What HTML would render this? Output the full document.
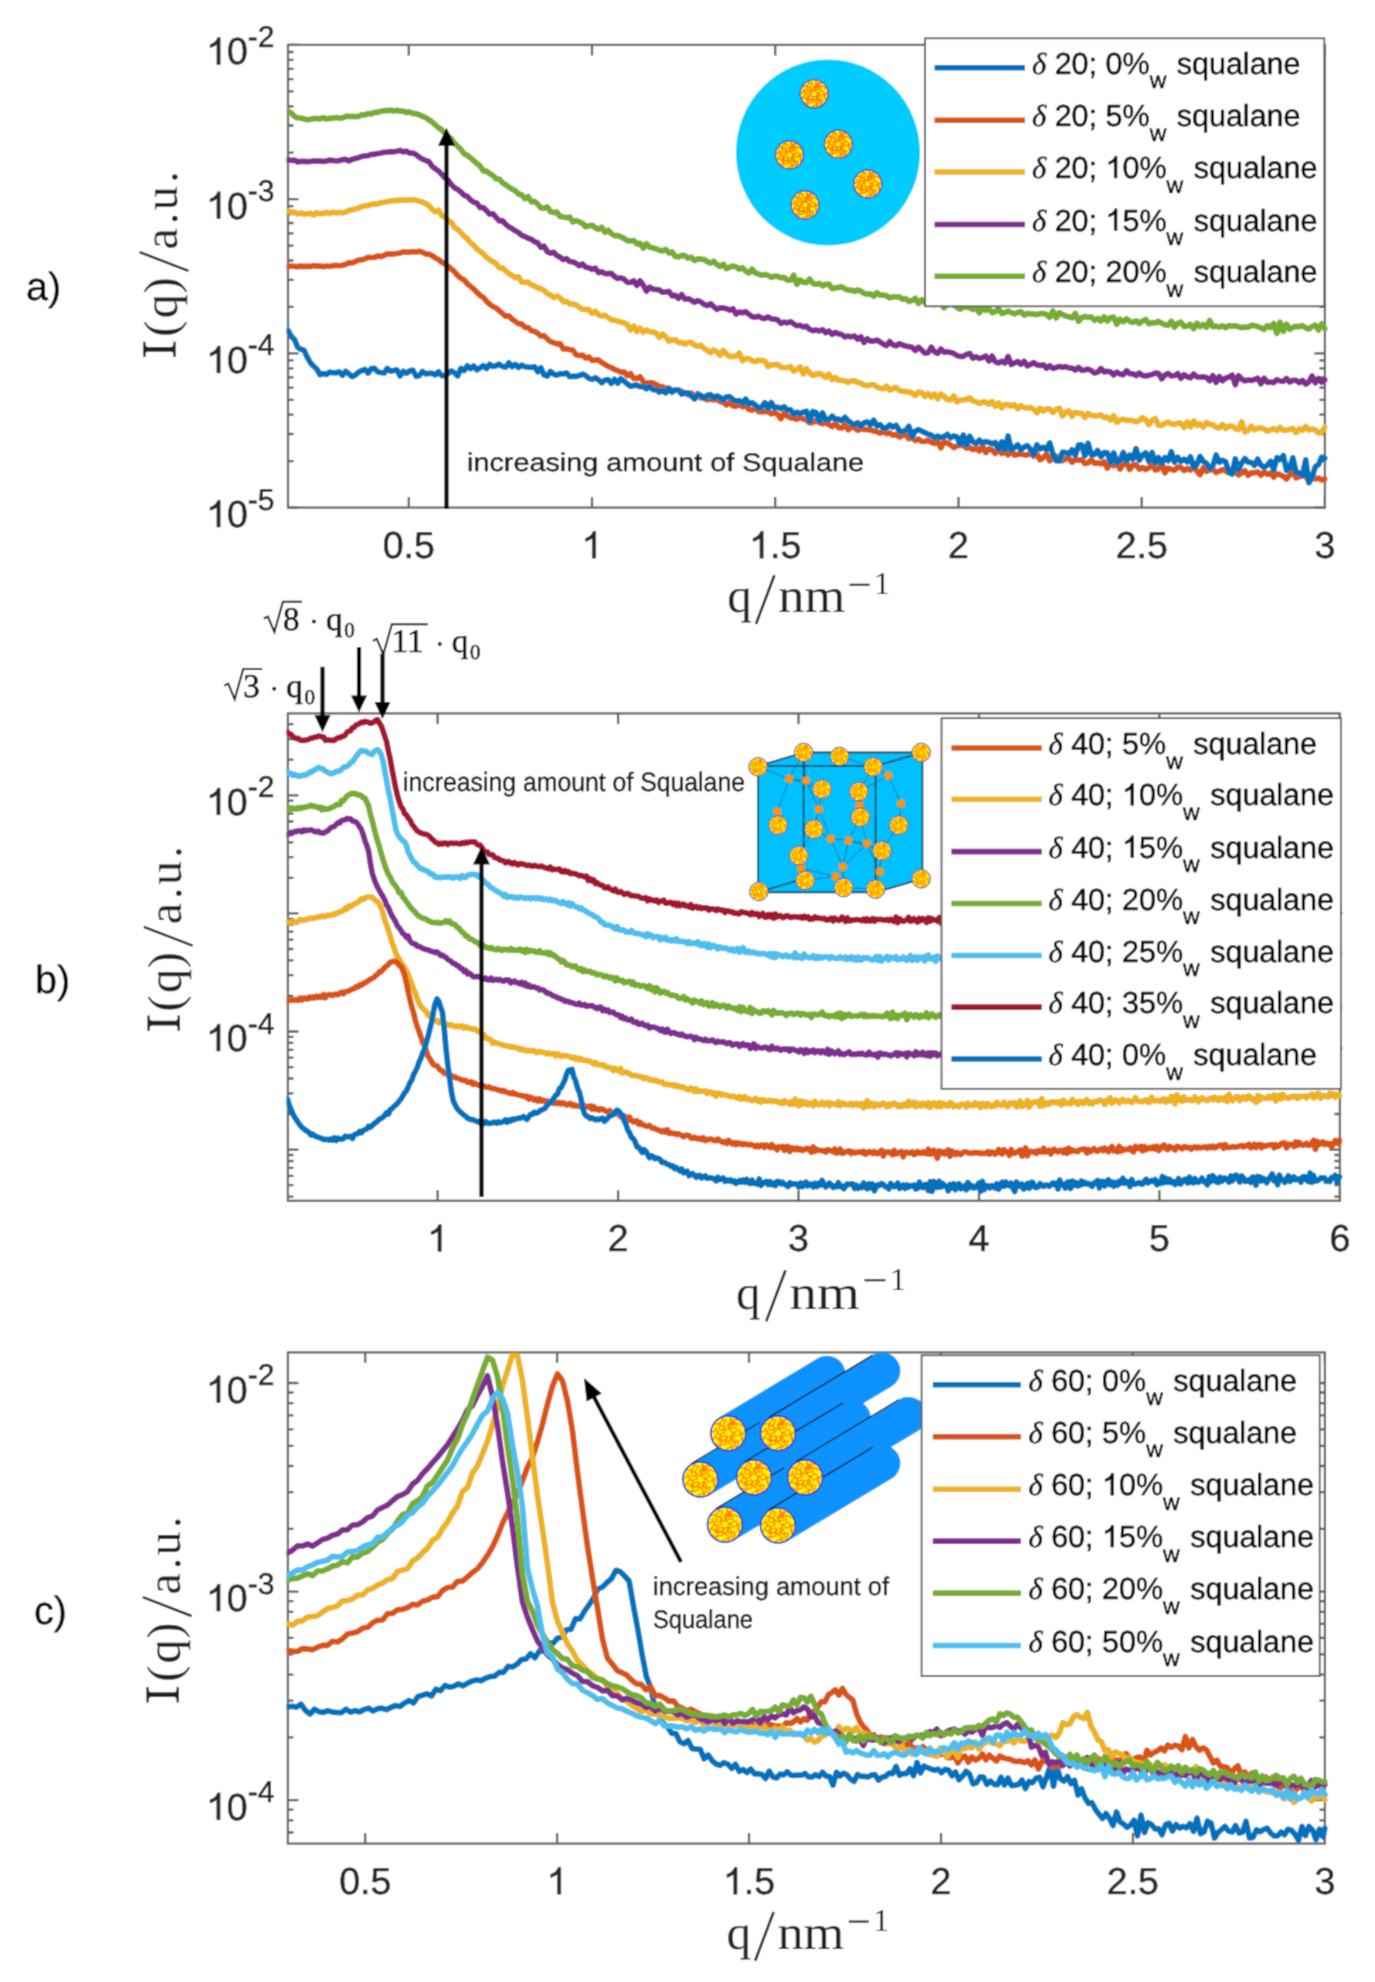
<!DOCTYPE html><html><head><meta charset="utf-8"><style>html,body{margin:0;padding:0;background:#fff;}text{text-rendering:geometricPrecision;}svg{display:block;}.tk{font-family:"Liberation Sans",sans-serif;font-size:37.5px;fill:#262626;}.ex{font-size:30px;}.lg{font-family:"Liberation Sans",sans-serif;font-size:30.5px;fill:#000;}.dl{font-family:"Liberation Serif",serif;font-style:italic;}.sb{font-size:23px;}.yl{font-family:"Liberation Serif",serif;font-size:48px;fill:#222;}.xl{font-family:"Liberation Serif",serif;font-size:49px;fill:#222;}.xs{font-family:"Liberation Serif",serif;font-size:32px;fill:#222;}.an{font-family:"Liberation Sans",sans-serif;fill:#111;}.pl{font-family:"Liberation Sans",sans-serif;font-size:39.5px;fill:#000;}.one{fill-opacity:0;stroke:none;}.mt{font-family:"Liberation Serif",serif;font-size:33px;fill:#111;}.tk{stroke:#262626;stroke-width:0.55px;}.lg{stroke:#000;stroke-width:0.5px;}.pl,.an{stroke:#111;stroke-width:0.4px;}.mt{stroke:#111;stroke-width:0.6px;}</style></head><body>
<svg width="1375" height="1982" viewBox="0 0 1375 1982">
<defs>
<filter id="soft" x="0" y="0" width="1375" height="1982" filterUnits="userSpaceOnUse"><feConvolveMatrix order="3" kernelMatrix="1 2 1 2 8 2 1 2 1" divisor="20" edgeMode="duplicate"/></filter>
<symbol id="mic" viewBox="-10 -10 20 20" overflow="visible"><circle r="9.6" fill="#FFF800"/><path d="M1.59,-0.13 2.52,-0.36 3.49,0.32 4.23,1.37 5.24,1.29 6.33,0.48 7.19,1.28 7.40,3.65 7.91,4.70 M1.33,0.88 2.32,1.06 2.98,1.83 3.00,3.28 3.41,4.19 4.82,4.14 5.70,4.57 4.97,6.59 3.96,8.31 M1.17,1.09 1.91,1.69 1.96,2.90 1.74,4.10 2.62,4.72 3.85,5.05 3.59,6.36 1.94,8.02 1.82,9.02 M0.66,1.46 1.31,2.19 1.22,3.28 0.43,4.43 0.57,5.37 1.80,6.09 1.84,7.06 -0.16,8.25 -1.51,9.08 M0.05,1.60 -0.53,2.49 -1.44,3.19 -1.47,4.20 -0.96,5.31 -1.84,6.08 -3.97,6.13 -4.91,6.63 -4.10,8.24 M-0.87,1.35 -1.05,2.33 -1.11,3.32 -2.21,3.86 -3.76,3.87 -4.29,4.68 -3.90,6.17 -4.76,6.74 -7.17,5.76 M-0.97,1.27 -2.01,1.57 -3.12,1.59 -3.73,2.42 -4.05,3.57 -5.30,3.50 -6.96,2.21 -7.95,2.19 -8.29,4.00 M-1.59,0.17 -2.54,-0.20 -3.50,0.13 -4.38,0.78 -5.40,0.13 -6.16,-1.56 -7.03,-1.97 -8.22,-0.75 -9.16,-0.81 M-1.52,-0.49 -2.15,-1.38 -2.98,-1.83 -4.15,-1.61 -4.95,-2.16 -4.90,-4.04 -4.95,-5.36 -6.43,-5.17 -7.72,-5.00 M-1.36,-0.84 -2.14,-1.38 -2.33,-2.61 -2.40,-3.75 -3.49,-4.12 -4.66,-4.31 -4.42,-5.81 -3.11,-7.64 -3.48,-8.51 M-0.92,-1.31 -0.99,-2.35 -1.62,-3.10 -2.66,-3.57 -2.71,-4.67 -1.55,-6.16 -1.32,-7.18 -2.89,-7.73 -3.57,-8.48 M-0.05,-1.60 0.33,-2.53 -0.01,-3.50 -0.55,-4.42 0.26,-5.39 1.96,-6.04 2.25,-6.95 1.08,-8.18 1.40,-9.09 M0.62,-1.47 0.78,-2.43 0.54,-3.46 1.21,-4.28 2.84,-4.59 3.65,-5.19 3.08,-6.62 3.22,-7.60 5.56,-7.33 M0.95,-1.29 1.17,-2.27 1.96,-2.90 3.42,-2.85 4.34,-3.21 4.36,-4.61 4.82,-5.48 6.80,-4.67 8.48,-3.57 M1.33,-0.89 2.42,-0.79 3.45,-0.56 4.25,-1.31 4.94,-2.18 6.17,-1.48 7.30,0.19 8.25,0.14 9.08,-1.50 M-5.38,-0.65 -6.49,0.65 -7.23,2.40 M-5.49,0.01 -6.43,-1.43 -6.96,-3.26 M-4.18,1.15 -4.80,2.55 -4.96,4.25 M6.49,-0.10 7.43,1.55 7.91,3.58 M3.02,-4.74 2.29,-6.32 0.99,-7.76 M-1.67,3.84 -3.12,4.27 -4.80,4.22 M-0.90,3.60 -0.12,4.81 1.14,5.80 M0.48,-4.68 1.84,-5.50 3.56,-5.91 M2.66,-3.83 2.17,-5.33 1.14,-6.76" fill="none" stroke="#FF7E00" stroke-width="0.72" stroke-linecap="round" stroke-linejoin="round"/><circle r="1.6" fill="#FFF800"/><circle r="9.5" fill="none" stroke="#2a2ad8" stroke-width="0.8"/></symbol>
<symbol id="mic2" viewBox="-10 -10 20 20" overflow="visible"><circle r="9.6" fill="#FFF800"/><path d="M1.59,-0.13 2.52,-0.36 3.49,0.32 4.23,1.37 5.24,1.29 6.33,0.48 7.19,1.28 7.40,3.65 7.91,4.70 M1.33,0.88 2.32,1.06 2.98,1.83 3.00,3.28 3.41,4.19 4.82,4.14 5.70,4.57 4.97,6.59 3.96,8.31 M1.17,1.09 1.91,1.69 1.96,2.90 1.74,4.10 2.62,4.72 3.85,5.05 3.59,6.36 1.94,8.02 1.82,9.02 M0.66,1.46 1.31,2.19 1.22,3.28 0.43,4.43 0.57,5.37 1.80,6.09 1.84,7.06 -0.16,8.25 -1.51,9.08 M0.05,1.60 -0.53,2.49 -1.44,3.19 -1.47,4.20 -0.96,5.31 -1.84,6.08 -3.97,6.13 -4.91,6.63 -4.10,8.24 M-0.87,1.35 -1.05,2.33 -1.11,3.32 -2.21,3.86 -3.76,3.87 -4.29,4.68 -3.90,6.17 -4.76,6.74 -7.17,5.76 M-0.97,1.27 -2.01,1.57 -3.12,1.59 -3.73,2.42 -4.05,3.57 -5.30,3.50 -6.96,2.21 -7.95,2.19 -8.29,4.00 M-1.59,0.17 -2.54,-0.20 -3.50,0.13 -4.38,0.78 -5.40,0.13 -6.16,-1.56 -7.03,-1.97 -8.22,-0.75 -9.16,-0.81 M-1.52,-0.49 -2.15,-1.38 -2.98,-1.83 -4.15,-1.61 -4.95,-2.16 -4.90,-4.04 -4.95,-5.36 -6.43,-5.17 -7.72,-5.00 M-1.36,-0.84 -2.14,-1.38 -2.33,-2.61 -2.40,-3.75 -3.49,-4.12 -4.66,-4.31 -4.42,-5.81 -3.11,-7.64 -3.48,-8.51 M-0.92,-1.31 -0.99,-2.35 -1.62,-3.10 -2.66,-3.57 -2.71,-4.67 -1.55,-6.16 -1.32,-7.18 -2.89,-7.73 -3.57,-8.48 M-0.05,-1.60 0.33,-2.53 -0.01,-3.50 -0.55,-4.42 0.26,-5.39 1.96,-6.04 2.25,-6.95 1.08,-8.18 1.40,-9.09 M0.62,-1.47 0.78,-2.43 0.54,-3.46 1.21,-4.28 2.84,-4.59 3.65,-5.19 3.08,-6.62 3.22,-7.60 5.56,-7.33 M0.95,-1.29 1.17,-2.27 1.96,-2.90 3.42,-2.85 4.34,-3.21 4.36,-4.61 4.82,-5.48 6.80,-4.67 8.48,-3.57 M1.33,-0.89 2.42,-0.79 3.45,-0.56 4.25,-1.31 4.94,-2.18 6.17,-1.48 7.30,0.19 8.25,0.14 9.08,-1.50 M-5.38,-0.65 -6.49,0.65 -7.23,2.40 M-5.49,0.01 -6.43,-1.43 -6.96,-3.26 M-4.18,1.15 -4.80,2.55 -4.96,4.25 M6.49,-0.10 7.43,1.55 7.91,3.58 M3.02,-4.74 2.29,-6.32 0.99,-7.76 M-1.67,3.84 -3.12,4.27 -4.80,4.22 M-0.90,3.60 -0.12,4.81 1.14,5.80 M0.48,-4.68 1.84,-5.50 3.56,-5.91 M2.66,-3.83 2.17,-5.33 1.14,-6.76" fill="none" stroke="#FF7E00" stroke-width="1.0" stroke-linecap="round" stroke-linejoin="round"/><circle r="1.6" fill="#FFF800"/><circle r="9.5" fill="none" stroke="#2a2ad8" stroke-width="0.8"/></symbol>
<clipPath id="ca"><rect x="286.5" y="44.9" width="1041.4" height="462.7"/></clipPath>
<clipPath id="cb"><rect x="286.5" y="713.4" width="1056.4" height="487.4"/></clipPath>
<clipPath id="cc"><rect x="286.5" y="1352.4" width="1041.4" height="491.2"/></clipPath>
</defs>
<g filter="url(#soft)">
<rect width="1375" height="1982" fill="#fff"/>
<path d="M288,507.6h10.5M1324.9,507.6h-10.5M288,461.2h5.5M1324.9,461.2h-5.5M288,434h5.5M1324.9,434h-5.5M288,414.7h5.5M1324.9,414.7h-5.5M288,399.8h5.5M1324.9,399.8h-5.5M288,387.6h5.5M1324.9,387.6h-5.5M288,377.3h5.5M1324.9,377.3h-5.5M288,368.3h5.5M1324.9,368.3h-5.5M288,360.4h5.5M1324.9,360.4h-5.5M288,353.4h10.5M1324.9,353.4h-10.5M288,306.9h5.5M1324.9,306.9h-5.5M288,279.8h5.5M1324.9,279.8h-5.5M288,260.5h5.5M1324.9,260.5h-5.5M288,245.6h5.5M1324.9,245.6h-5.5M288,233.3h5.5M1324.9,233.3h-5.5M288,223h5.5M1324.9,223h-5.5M288,214.1h5.5M1324.9,214.1h-5.5M288,206.2h5.5M1324.9,206.2h-5.5M288,199.1h10.5M1324.9,199.1h-10.5M288,152.7h5.5M1324.9,152.7h-5.5M288,125.5h5.5M1324.9,125.5h-5.5M288,106.3h5.5M1324.9,106.3h-5.5M288,91.3h5.5M1324.9,91.3h-5.5M288,79.1h5.5M1324.9,79.1h-5.5M288,68.8h5.5M1324.9,68.8h-5.5M288,59.8h5.5M1324.9,59.8h-5.5M288,52h5.5M1324.9,52h-5.5M288,44.9h10.5M1324.9,44.9h-10.5M408.8,507.6v-10.5M408.8,44.9v10.5M592,507.6v-10.5M592,44.9v10.5M775.2,507.6v-10.5M775.2,44.9v10.5M958.5,507.6v-10.5M958.5,44.9v10.5M1141.7,507.6v-10.5M1141.7,44.9v10.5M1324.9,507.6v-10.5M1324.9,44.9v10.5" stroke="#5e5e5e" stroke-width="2.3" fill="none"/>
<rect x="288" y="44.9" width="1036.9" height="462.7" fill="none" stroke="#666" stroke-width="2.3"/>
<text x="408.8" y="558.2" text-anchor="middle" class="tk">0.5</text>
<text x="592" y="558.2" text-anchor="middle" class="tk"><tspan class="one">1</tspan></text>
<text x="775.2" y="558.2" text-anchor="middle" class="tk"><tspan class="one">1</tspan>.5</text>
<text x="958.5" y="558.2" text-anchor="middle" class="tk">2</text>
<text x="1141.7" y="558.2" text-anchor="middle" class="tk">2.5</text>
<text x="1324.9" y="558.2" text-anchor="middle" class="tk">3</text>
<text x="274.5" y="64.4" text-anchor="end" class="tk"><tspan class="one">1</tspan>0<tspan class="ex" dy="-17.5">-2</tspan></text>
<text x="274.5" y="218.6" text-anchor="end" class="tk"><tspan class="one">1</tspan>0<tspan class="ex" dy="-17.5">-3</tspan></text>
<text x="274.5" y="372.9" text-anchor="end" class="tk"><tspan class="one">1</tspan>0<tspan class="ex" dy="-17.5">-4</tspan></text>
<text x="274.5" y="527.1" text-anchor="end" class="tk"><tspan class="one">1</tspan>0<tspan class="ex" dy="-17.5">-5</tspan></text>
<g clip-path="url(#ca)">
<path d="M288.1,111.4 291.3,113 294.5,116.4 297.7,118 300.9,118 304.1,118.9 307.3,119.8 310.5,119.2 313.7,118.4 316.9,118.6 320.1,118.8 323.3,117.7 326.5,119 329.7,118.2 332.9,118.3 336.1,117.5 339.3,118.1 342.5,118 345.7,116.4 348.9,116.4 352.1,116.3 355.3,116.6 358.5,116.5 361.7,114.9 364.9,114.8 368.1,113.5 371.3,113.8 374.5,112.3 377.7,112.4 380.9,111.2 384.1,110.7 387.3,110.6 390.5,110.1 393.7,111 396.9,110.4 400.1,111.1 403.3,111.2 406.5,112.5 409.7,111.9 412.9,113.6 416.1,113.7 419.3,114.9 422.5,116.4 425.7,117.7 428.9,119.9 432.1,122 435.3,124.9 438.5,127.6 441.7,129.9 444.9,133 448.1,136.2 451.3,139 454.5,143.2 457.7,146.3 460.9,149.3 464.1,153.8 467.3,155.2 470.5,157.9 473.7,160.7 476.9,163.5 480.1,166 483.3,170.9 486.5,171.2 489.7,173.6 492.9,175.4 496.1,178.9 499.3,179 502.5,182.9 505.7,184.8 508.9,187.2 512.1,189.2 515.3,190.7 518.5,193.9 521.7,194.8 524.9,198.7 528.1,196.6 531.3,201.8 534.5,201.4 537.7,204.1 540.9,207.9 544.1,208.1 547.3,207 550.5,211.7 553.7,212.6 556.9,212.2 560.1,216.4 563.3,216.9 566.5,217.7 569.7,217 572.9,222 576.1,220.6 579.3,221.8 582.5,223.3 585.7,226.7 588.9,225.8 592.1,225.2 595.3,227.8 598.5,229.3 601.7,227.3 604.9,232.3 608.1,230.2 611.3,233.7 614.5,235.7 617.7,235.5 620.9,236.8 624.1,238.3 627.3,240.7 630.5,240.9 633.7,240.5 636.9,243.9 640.1,243.4 643.3,248.2 646.5,243.7 649.7,247.3 652.9,247.9 656.1,248.7 659.3,250.3 662.5,250.9 665.7,249.4 668.9,252.9 672.1,252 675.3,256.5 678.5,256.9 681.7,255.4 684.9,255.7 688.1,258.1 691.3,257.2 694.5,260.6 697.7,258.9 700.9,259.2 704.1,259.5 707.3,261.6 710.5,263.2 713.7,261.2 716.9,264.5 720.1,266.5 723.3,264.3 726.5,268.7 729.7,267.2 732.9,266 736.1,266.7 739.3,269.3 742.5,267.6 745.7,271.1 748.9,273 752.1,269.1 755.3,273 758.5,274 761.7,275.2 764.9,274.4 768.1,275.4 771.3,277.3 774.5,276.1 777.7,276.4 780.9,277.9 784.1,277.3 787.3,280.1 790.5,280.2 793.7,275.2 796.9,284.4 800.1,279.9 803.3,282.2 806.5,282.6 809.7,279 812.9,283.4 816.1,284.2 819.3,283.4 822.5,285.8 825.7,284.4 828.9,284 832.1,288.6 835.3,288 838.5,287.4 841.7,286.8 844.9,288.9 848.1,290.2 851.3,290.2 854.5,291.3 857.7,290 860.9,291.2 864.1,293.4 867.3,294.1 870.5,293.9 873.7,296.2 876.9,292.8 880.1,295.2 883.3,295.1 886.5,295.6 889.7,297.9 892.9,296.9 896.1,297 899.3,296.8 902.5,299.3 905.7,298.6 908.9,301.5 912.1,300.3 915.3,298.3 918.5,303.4 921.7,299.7 924.9,302.6 928.1,303.9 931.3,300.4 934.5,304.4 937.7,302.1 940.9,302.5 944.1,307.7 947.3,304.3 950.5,304.4 953.7,304.5 956.9,307.3 960.1,309.2 963.3,306.9 966.5,307.1 969.7,307.8 972.9,309.6 976.1,307 979.3,312.8 982.5,308.1 985.7,310.3 988.9,308.8 992.1,312.8 995.3,311.6 998.5,308.8 1001.7,313.5 1004.9,312.5 1008.1,311.2 1011.3,312.6 1014.5,313.8 1017.7,312.6 1020.9,311.7 1024.1,315.2 1027.3,313.4 1030.5,313.9 1033.7,313.9 1036.9,314.7 1040.1,313.5 1043.3,313.5 1046.5,314.4 1049.7,317.3 1052.9,311 1056.1,318 1059.3,312.8 1062.5,314.6 1065.7,315.9 1068.9,316.8 1072.1,317.9 1075.3,313.4 1078.5,321.3 1081.7,317.6 1084.9,316.3 1088.1,317.5 1091.3,316.9 1094.5,320.3 1097.7,318.3 1100.9,321.2 1104.1,316.8 1107.3,321 1110.5,317.5 1113.7,317.2 1116.9,324.2 1120.1,319.3 1123.3,321.7 1126.5,318.8 1129.7,321.3 1132.9,322.5 1136.1,320.8 1139.3,323.5 1142.5,321 1145.7,319.5 1148.9,323.7 1152.1,322.7 1155.3,322.8 1158.5,321.4 1161.7,323.2 1164.9,324.8 1168.1,325.3 1171.3,321.2 1174.5,327.2 1177.7,323.4 1180.9,322.1 1184.1,326.5 1187.3,326 1190.5,324.4 1193.7,328.8 1196.9,323.3 1200.1,326.5 1203.3,324.5 1206.5,327.2 1209.7,320.4 1212.9,326.7 1216.1,326.1 1219.3,327.1 1222.5,325.8 1225.7,327.7 1228.9,325.6 1232.1,326.2 1235.3,325.8 1238.5,326.8 1241.7,327.7 1244.9,326.9 1248.1,327.3 1251.3,325.3 1254.5,325.7 1257.7,326.6 1260.9,327.9 1264.1,329.3 1267.3,325.6 1270.5,327.5 1273.7,323.5 1276.9,333.4 1280.1,322.2 1283.3,331.4 1286.5,324.1 1289.7,329.3 1292.9,327.4 1296.1,326.3 1299.3,326.6 1302.5,325.5 1305.7,327.9 1308.9,329 1312.1,326.5 1315.3,325.1 1318.5,330 1321.7,323.7 1324.8,328.6" fill="none" stroke="#77AC30" stroke-width="5.7" stroke-linejoin="round" stroke-linecap="round"/>
<path d="M288.1,159.8 291.3,160.5 294.5,160.1 297.7,161.9 300.9,161.3 304.1,161.4 307.3,161.7 310.5,161.5 313.7,160.9 316.9,161.2 320.1,161.2 323.3,161.4 326.5,161 329.7,160.1 332.9,160.5 336.1,161 339.3,160.7 342.5,159.6 345.7,159.4 348.9,160.8 352.1,159.3 355.3,158.4 358.5,157.7 361.7,156.5 364.9,155.8 368.1,155.6 371.3,154.4 374.5,154.3 377.7,153.5 380.9,153.1 384.1,152.3 387.3,152 390.5,151.6 393.7,151.8 396.9,151.2 400.1,150.4 403.3,151.9 406.5,151.1 409.7,153.2 412.9,153 416.1,154.6 419.3,157.2 422.5,159.1 425.7,160.5 428.9,161.5 432.1,166.3 435.3,168.8 438.5,170.8 441.7,174.3 444.9,177.8 448.1,180.3 451.3,184.4 454.5,187.9 457.7,189.4 460.9,191.9 464.1,195.3 467.3,196.4 470.5,199.9 473.7,202.2 476.9,203.1 480.1,207.6 483.3,207.5 486.5,210.8 489.7,214.2 492.9,213.7 496.1,217.3 499.3,220.9 502.5,220.6 505.7,224.3 508.9,226.9 512.1,228.6 515.3,230.8 518.5,232.5 521.7,235.3 524.9,236.5 528.1,238.2 531.3,239.3 534.5,241.8 537.7,242.8 540.9,247.4 544.1,246.2 547.3,251.7 550.5,253.2 553.7,252.2 556.9,255.7 560.1,257.2 563.3,259.6 566.5,258.7 569.7,261.5 572.9,261.9 576.1,263.4 579.3,265.8 582.5,263.9 585.7,267.2 588.9,267.8 592.1,269.4 595.3,268.1 598.5,272.7 601.7,271.7 604.9,273.6 608.1,273.6 611.3,273.4 614.5,276.5 617.7,278.5 620.9,277.8 624.1,279.2 627.3,282.3 630.5,282.5 633.7,280.8 636.9,285.5 640.1,280.8 643.3,285.2 646.5,291.2 649.7,287.1 652.9,289.2 656.1,289.5 659.3,289.9 662.5,292.2 665.7,292 668.9,291.4 672.1,295.8 675.3,295.4 678.5,298.5 681.7,294.5 684.9,299.2 688.1,298.7 691.3,300.2 694.5,302.3 697.7,300.5 700.9,302 704.1,304.4 707.3,305.6 710.5,303.6 713.7,306.8 716.9,309.4 720.1,307.8 723.3,307.9 726.5,308.7 729.7,310.2 732.9,308.8 736.1,314 739.3,311.9 742.5,312.8 745.7,311.7 748.9,314.3 752.1,316.6 755.3,317.2 758.5,316.1 761.7,318.1 764.9,318.6 768.1,316.8 771.3,319 774.5,319.1 777.7,319.8 780.9,323.3 784.1,322.1 787.3,322.9 790.5,321.7 793.7,323.8 796.9,325.8 800.1,325.3 803.3,327 806.5,326.2 809.7,329.4 812.9,330.6 816.1,330 819.3,331 822.5,329.6 825.7,332.7 828.9,330.9 832.1,334.4 835.3,332.3 838.5,333.9 841.7,334.4 844.9,337 848.1,336.1 851.3,336.9 854.5,335.9 857.7,339.3 860.9,336.8 864.1,342.6 867.3,338.8 870.5,341.1 873.7,341.1 876.9,340 880.1,342 883.3,344.2 886.5,345.7 889.7,341.6 892.9,344.7 896.1,345.8 899.3,343.6 902.5,345.1 905.7,346 908.9,346.6 912.1,347.2 915.3,350.6 918.5,347.2 921.7,350 924.9,353.2 928.1,352.6 931.3,347.1 934.5,351.8 937.7,353.4 940.9,349 944.1,352.2 947.3,351.8 950.5,352.5 953.7,353.3 956.9,355.5 960.1,356.4 963.3,356.3 966.5,354.4 969.7,353.4 972.9,358.3 976.1,356.7 979.3,358.4 982.5,357.6 985.7,356 988.9,361.1 992.1,356.1 995.3,361.9 998.5,363 1001.7,361.1 1004.9,363 1008.1,356.5 1011.3,364.5 1014.5,363 1017.7,361.5 1020.9,364.3 1024.1,361.2 1027.3,365.8 1030.5,364.4 1033.7,362.6 1036.9,364.8 1040.1,365.6 1043.3,364.8 1046.5,368.2 1049.7,365.6 1052.9,368.5 1056.1,367.6 1059.3,366.3 1062.5,367.3 1065.7,366.6 1068.9,367.9 1072.1,368.1 1075.3,370.2 1078.5,367.4 1081.7,370.4 1084.9,370 1088.1,369.1 1091.3,370.5 1094.5,373.1 1097.7,372.1 1100.9,368.4 1104.1,371.9 1107.3,371.3 1110.5,371.9 1113.7,375 1116.9,372.1 1120.1,374.1 1123.3,374.7 1126.5,370.7 1129.7,373.6 1132.9,373.9 1136.1,375.5 1139.3,372.9 1142.5,375.4 1145.7,375.8 1148.9,375.4 1152.1,374.4 1155.3,373.2 1158.5,373.3 1161.7,378.8 1164.9,375.1 1168.1,373.5 1171.3,375.9 1174.5,375.7 1177.7,373.6 1180.9,378.4 1184.1,374.7 1187.3,376.8 1190.5,377.9 1193.7,373.9 1196.9,376.8 1200.1,377.2 1203.3,376.9 1206.5,377.5 1209.7,380.8 1212.9,375.6 1216.1,382.5 1219.3,376.6 1222.5,380.7 1225.7,378 1228.9,377.2 1232.1,375 1235.3,384.7 1238.5,375.6 1241.7,379 1244.9,381 1248.1,379.9 1251.3,380.5 1254.5,379.6 1257.7,378.1 1260.9,383.8 1264.1,378.3 1267.3,382.3 1270.5,381.9 1273.7,382.7 1276.9,379.6 1280.1,381 1283.3,381.3 1286.5,378.4 1289.7,382 1292.9,380.4 1296.1,380.3 1299.3,382.7 1302.5,380.4 1305.7,384.2 1308.9,381.9 1312.1,375.9 1315.3,382.8 1318.5,378.6 1321.7,382.3 1324.8,379.8" fill="none" stroke="#7E2F8E" stroke-width="5.7" stroke-linejoin="round" stroke-linecap="round"/>
<path d="M288.1,211.1 291.3,212.4 294.5,212.1 297.7,214.1 300.9,212.9 304.1,214.2 307.3,213.7 310.5,213.4 313.7,214.9 316.9,212.6 320.1,213.7 323.3,213.5 326.5,212.3 329.7,213.6 332.9,212.2 336.1,212.8 339.3,212.4 342.5,212.9 345.7,212.1 348.9,210.4 352.1,209.7 355.3,209.1 358.5,208.1 361.7,206.6 364.9,205.8 368.1,205.4 371.3,204.5 374.5,203.8 377.7,203.8 380.9,202.8 384.1,202.3 387.3,201.7 390.5,200.9 393.7,200.7 396.9,200.6 400.1,199.9 403.3,200.1 406.5,200.2 409.7,199.7 412.9,199.8 416.1,200.1 419.3,201.3 422.5,201.9 425.7,203.7 428.9,205.7 432.1,209.2 435.3,211.7 438.5,210.1 441.7,215.7 444.9,217.3 448.1,220.4 451.3,222.2 454.5,227.6 457.7,229.4 460.9,232.5 464.1,236.3 467.3,238.8 470.5,242.6 473.7,245.2 476.9,248.9 480.1,251.2 483.3,253.9 486.5,257.3 489.7,259.5 492.9,261.9 496.1,263.3 499.3,268 502.5,267.8 505.7,270.9 508.9,273.5 512.1,275.5 515.3,277.7 518.5,276.8 521.7,282.1 524.9,282.4 528.1,282.2 531.3,284.9 534.5,286 537.7,287.8 540.9,288.8 544.1,290.5 547.3,293.6 550.5,294.9 553.7,297.6 556.9,295.9 560.1,297.9 563.3,301.8 566.5,301.4 569.7,303.8 572.9,304 576.1,304.9 579.3,307.2 582.5,309.5 585.7,309.4 588.9,309.7 592.1,313.4 595.3,311.3 598.5,314.7 601.7,316.1 604.9,315.2 608.1,317.5 611.3,319.8 614.5,320.1 617.7,321.1 620.9,322 624.1,322.7 627.3,324.5 630.5,329.9 633.7,326 636.9,331.5 640.1,328 643.3,332.3 646.5,330 649.7,331.5 652.9,332.1 656.1,333 659.3,337.4 662.5,334 665.7,336.7 668.9,341.1 672.1,340 675.3,339.6 678.5,342.6 681.7,342.4 684.9,344.1 688.1,342.5 691.3,342.3 694.5,345.2 697.7,346.2 700.9,345.2 704.1,348.6 707.3,350.4 710.5,352.5 713.7,350 716.9,351.8 720.1,355.2 723.3,350.5 726.5,354 729.7,356.6 732.9,356.3 736.1,356 739.3,353.1 742.5,360.7 745.7,358.7 748.9,358.6 752.1,360.6 755.3,361.8 758.5,360.1 761.7,360.5 764.9,361 768.1,366.6 771.3,364.8 774.5,364.7 777.7,364.3 780.9,367.4 784.1,367.6 787.3,367.6 790.5,366.5 793.7,371.1 796.9,369.5 800.1,367 803.3,374 806.5,368.8 809.7,372.8 812.9,375.7 816.1,374.1 819.3,373.4 822.5,374.9 825.7,377.4 828.9,374.2 832.1,379.5 835.3,377.5 838.5,380.2 841.7,380.3 844.9,380.8 848.1,382.3 851.3,381 854.5,380.6 857.7,382.5 860.9,383.2 864.1,385.1 867.3,385.8 870.5,384.8 873.7,384.5 876.9,387.1 880.1,388.3 883.3,388.8 886.5,386.3 889.7,390.1 892.9,388.7 896.1,387.5 899.3,390.5 902.5,391.3 905.7,391.3 908.9,392 912.1,392.9 915.3,395.4 918.5,392.1 921.7,392.6 924.9,396.4 928.1,393.6 931.3,396.9 934.5,394 937.7,398.8 940.9,393.9 944.1,396.5 947.3,399.6 950.5,400 953.7,395.9 956.9,401.9 960.1,400.3 963.3,399.8 966.5,399.4 969.7,397.9 972.9,400.9 976.1,401.9 979.3,403.6 982.5,401.9 985.7,402.2 988.9,404.2 992.1,401.4 995.3,406.3 998.5,402.9 1001.7,407.8 1004.9,404.6 1008.1,404.6 1011.3,406.1 1014.5,404.7 1017.7,408.7 1020.9,405.6 1024.1,407.6 1027.3,408.1 1030.5,407.5 1033.7,409.2 1036.9,412.8 1040.1,408.2 1043.3,411 1046.5,408.8 1049.7,409 1052.9,412.4 1056.1,409.3 1059.3,408.1 1062.5,415.9 1065.7,412.4 1068.9,410.9 1072.1,416.3 1075.3,412.3 1078.5,413.4 1081.7,413.4 1084.9,417.6 1088.1,413.5 1091.3,415.3 1094.5,415.8 1097.7,415.7 1100.9,414.9 1104.1,417.7 1107.3,417 1110.5,420.1 1113.7,415.7 1116.9,422.4 1120.1,419.9 1123.3,419.2 1126.5,420.4 1129.7,420.4 1132.9,420.6 1136.1,421.7 1139.3,420.8 1142.5,417.6 1145.7,419.7 1148.9,424.7 1152.1,420.2 1155.3,418.5 1158.5,425.2 1161.7,425.5 1164.9,423.3 1168.1,422.1 1171.3,423.8 1174.5,424.5 1177.7,422.9 1180.9,423.4 1184.1,427.6 1187.3,422 1190.5,426.8 1193.7,421 1196.9,425.3 1200.1,424 1203.3,427.1 1206.5,422.5 1209.7,424.3 1212.9,424.9 1216.1,427.3 1219.3,427.9 1222.5,424.4 1225.7,428.4 1228.9,426.2 1232.1,426.1 1235.3,428.6 1238.5,429.5 1241.7,421.8 1244.9,432 1248.1,430.6 1251.3,426.2 1254.5,429.8 1257.7,428.2 1260.9,428.1 1264.1,428.9 1267.3,431.2 1270.5,429.9 1273.7,428.6 1276.9,430.5 1280.1,427.3 1283.3,430.3 1286.5,430 1289.7,429.4 1292.9,428.5 1296.1,432.5 1299.3,428.9 1302.5,430.5 1305.7,426.5 1308.9,430.1 1312.1,428.9 1315.3,430 1318.5,432.8 1321.7,432.3 1324.8,427.3" fill="none" stroke="#EDB120" stroke-width="5.7" stroke-linejoin="round" stroke-linecap="round"/>
<path d="M288.1,266.7 291.3,266 294.5,266.4 297.7,266.6 300.9,266.1 304.1,266.6 307.3,266.2 310.5,266.6 313.7,265.5 316.9,266.1 320.1,265.9 323.3,266.7 326.5,266 329.7,266.5 332.9,265.7 336.1,265.3 339.3,265.8 342.5,265.2 345.7,264.4 348.9,262.6 352.1,262.9 355.3,261.6 358.5,260 361.7,259.9 364.9,258.9 368.1,257.3 371.3,257.5 374.5,257.3 377.7,255.9 380.9,256.6 384.1,255.4 387.3,253.9 390.5,254.1 393.7,253.9 396.9,253.5 400.1,253 403.3,251.9 406.5,252.2 409.7,252.1 412.9,251.5 416.1,252 419.3,251.2 422.5,252.2 425.7,254.2 428.9,254.2 432.1,255.6 435.3,257.9 438.5,259.5 441.7,262.2 444.9,264.2 448.1,266.3 451.3,269 454.5,271.7 457.7,275.6 460.9,278.3 464.1,279.9 467.3,283.8 470.5,286.4 473.7,289 476.9,292.3 480.1,295.3 483.3,297.3 486.5,301.3 489.7,304.2 492.9,306.5 496.1,308 499.3,310.7 502.5,313.6 505.7,316.3 508.9,315.8 512.1,319.2 515.3,321.3 518.5,323.7 521.7,324 524.9,327.3 528.1,327.5 531.3,330.7 534.5,331.2 537.7,333.3 540.9,336.1 544.1,335.7 547.3,338.8 550.5,341.6 553.7,342.7 556.9,343.9 560.1,343.7 563.3,349 566.5,348.7 569.7,349.7 572.9,350 576.1,354.8 579.3,355.5 582.5,355.2 585.7,358.1 588.9,357 592.1,360.3 595.3,360.2 598.5,359.8 601.7,362.6 604.9,364.4 608.1,366.4 611.3,367.6 614.5,369.4 617.7,370.6 620.9,372.3 624.1,371.9 627.3,375.7 630.5,373.6 633.7,378.3 636.9,378.3 640.1,376.8 643.3,381.8 646.5,383.2 649.7,382.5 652.9,382.9 656.1,384.5 659.3,386.5 662.5,386.7 665.7,388.5 668.9,388.1 672.1,390.5 675.3,390.2 678.5,390 681.7,391.4 684.9,393 688.1,394.7 691.3,393.1 694.5,397.2 697.7,393.5 700.9,397.9 704.1,396.8 707.3,399.8 710.5,399.3 713.7,399.9 716.9,399.4 720.1,401.5 723.3,402.3 726.5,405.1 729.7,402.3 732.9,405.9 736.1,406.3 739.3,404.3 742.5,406.9 745.7,405.1 748.9,409.5 752.1,410.3 755.3,407.9 758.5,411.6 761.7,411.8 764.9,411.6 768.1,411.6 771.3,413.8 774.5,412.7 777.7,414.5 780.9,418.7 784.1,413.2 787.3,416 790.5,417.9 793.7,418.1 796.9,419.3 800.1,417.5 803.3,419 806.5,420 809.7,422.8 812.9,422.5 816.1,420.4 819.3,422.8 822.5,423.8 825.7,422.8 828.9,424.7 832.1,426.7 835.3,423.2 838.5,427.6 841.7,427.9 844.9,424.7 848.1,429.8 851.3,427.1 854.5,427.7 857.7,430.4 860.9,428.7 864.1,429.4 867.3,429.6 870.5,430 873.7,431 876.9,431.7 880.1,433.3 883.3,431.6 886.5,433.7 889.7,432.9 892.9,435.2 896.1,434.4 899.3,437.2 902.5,435.5 905.7,434.4 908.9,438.7 912.1,437.7 915.3,440.6 918.5,438.9 921.7,441.5 924.9,441.4 928.1,440.2 931.3,442.5 934.5,443.4 937.7,441.7 940.9,448 944.1,441.8 947.3,443.1 950.5,444.9 953.7,447.6 956.9,446 960.1,445.2 963.3,445.4 966.5,448.1 969.7,447.4 972.9,449.6 976.1,448.5 979.3,451 982.5,446.1 985.7,452.6 988.9,448.8 992.1,450.2 995.3,453.5 998.5,447.9 1001.7,453.6 1004.9,451.9 1008.1,454.9 1011.3,449.9 1014.5,455.4 1017.7,454.3 1020.9,453.9 1024.1,454.9 1027.3,454.8 1030.5,453.4 1033.7,456.4 1036.9,453.8 1040.1,459.8 1043.3,457.6 1046.5,454.3 1049.7,460.9 1052.9,456.7 1056.1,456.2 1059.3,459.1 1062.5,460.7 1065.7,458.8 1068.9,458.2 1072.1,462.2 1075.3,459.5 1078.5,460.3 1081.7,459.7 1084.9,463.6 1088.1,462.8 1091.3,459.8 1094.5,463.2 1097.7,462.8 1100.9,463.9 1104.1,461.8 1107.3,468.3 1110.5,462.8 1113.7,465.8 1116.9,463.5 1120.1,469 1123.3,464.2 1126.5,462.4 1129.7,469.5 1132.9,465.2 1136.1,464.9 1139.3,469.1 1142.5,467.5 1145.7,469.5 1148.9,467.7 1152.1,464.5 1155.3,470.2 1158.5,469 1161.7,462.7 1164.9,472.9 1168.1,468.1 1171.3,469.2 1174.5,470.2 1177.7,467.2 1180.9,467.4 1184.1,470.6 1187.3,468.5 1190.5,470.2 1193.7,464.9 1196.9,471.3 1200.1,474.7 1203.3,467.8 1206.5,471.4 1209.7,469.8 1212.9,469.4 1216.1,472.5 1219.3,471.2 1222.5,469.6 1225.7,471.2 1228.9,473.1 1232.1,471.2 1235.3,472.1 1238.5,475 1241.7,472.9 1244.9,470.8 1248.1,475.5 1251.3,472.6 1254.5,472.8 1257.7,471.9 1260.9,475.3 1264.1,471.9 1267.3,474.3 1270.5,473.1 1273.7,477.2 1276.9,473.6 1280.1,474.8 1283.3,476.3 1286.5,479 1289.7,474.9 1292.9,472.1 1296.1,477.9 1299.3,476.7 1302.5,475.7 1305.7,476 1308.9,481.5 1312.1,477.3 1315.3,478.9 1318.5,478.1 1321.7,479.9 1324.8,479.1" fill="none" stroke="#D95319" stroke-width="5.7" stroke-linejoin="round" stroke-linecap="round"/>
<path d="M288.1,330.6 291.3,336.4 294.5,339.5 297.7,347.3 300.9,349.2 304.1,350.4 307.3,357.4 310.5,362.9 313.7,366.2 316.9,369.3 320.1,374.7 323.3,373.6 326.5,374.5 329.7,372.1 332.9,372.7 336.1,372.9 339.3,371.8 342.5,375.3 345.7,371.3 348.9,373.8 352.1,376.7 355.3,375.2 358.5,372.2 361.7,370.6 364.9,369.3 368.1,373.1 371.3,368.6 374.5,368.3 377.7,371.9 380.9,372.5 384.1,373 387.3,368.4 390.5,371.1 393.7,370.5 396.9,369.8 400.1,376 403.3,371.3 406.5,373.3 409.7,370.7 412.9,370.2 416.1,376.3 419.3,375.6 422.5,371.5 425.7,373.8 428.9,373.4 432.1,373.3 435.3,374.8 438.5,371.8 441.7,375.6 444.9,375.6 448.1,373.4 451.3,371 454.5,372.8 457.7,376 460.9,368.4 464.1,370.6 467.3,365.8 470.5,368.7 473.7,366 476.9,369.8 480.1,367.8 483.3,365.6 486.5,368.5 489.7,364.2 492.9,366.5 496.1,365.7 499.3,364.2 502.5,366.5 505.7,367.1 508.9,362.7 512.1,366.8 515.3,364.4 518.5,367.5 521.7,365.1 524.9,366.7 528.1,367.2 531.3,367.5 534.5,366.7 537.7,371.8 540.9,367.8 544.1,375.1 547.3,376 550.5,371.5 553.7,374.1 556.9,375.2 560.1,373.7 563.3,374 566.5,372.8 569.7,376.7 572.9,376.2 576.1,376.4 579.3,375.6 582.5,374 585.7,375.6 588.9,378.4 592.1,379.4 595.3,377.7 598.5,379.8 601.7,382.7 604.9,380.1 608.1,379.7 611.3,383.4 614.5,379.3 617.7,383.2 620.9,378.8 624.1,381.3 627.3,383.9 630.5,386.3 633.7,385.4 636.9,385.1 640.1,386.7 643.3,386.6 646.5,388.8 649.7,386.5 652.9,389.7 656.1,389.8 659.3,392.1 662.5,390.5 665.7,392.9 668.9,388.5 672.1,392.3 675.3,390 678.5,390 681.7,394.2 684.9,392.9 688.1,392.8 691.3,396 694.5,399 697.7,394.6 700.9,395.3 704.1,398.5 707.3,395.2 710.5,394.5 713.7,398.1 716.9,395.8 720.1,397.3 723.3,400 726.5,396.8 729.7,396.7 732.9,399.7 736.1,401.1 739.3,400.6 742.5,403.1 745.7,398.9 748.9,404.1 752.1,402.7 755.3,404.9 758.5,408.2 761.7,406.8 764.9,402.8 768.1,408.3 771.3,402.4 774.5,408.1 777.7,407.1 780.9,408.7 784.1,406.6 787.3,410 790.5,409.7 793.7,414.4 796.9,412.2 800.1,413.6 803.3,412.2 806.5,411.2 809.7,421.4 812.9,411.4 816.1,412.6 819.3,421.1 822.5,412.8 825.7,419.7 828.9,419.5 832.1,416.1 835.3,419.1 838.5,419.1 841.7,420.6 844.9,417.2 848.1,420.6 851.3,423 854.5,424.7 857.7,422.6 860.9,426.1 864.1,422.7 867.3,421.8 870.5,424.8 873.7,420.2 876.9,425.9 880.1,424.7 883.3,428.4 886.5,427.9 889.7,424.9 892.9,427.1 896.1,425.3 899.3,430.7 902.5,431.7 905.7,430.4 908.9,426.2 912.1,436.8 915.3,431.2 918.5,429.7 921.7,431.1 924.9,432.7 928.1,434.2 931.3,435.1 934.5,437.8 937.7,436.1 940.9,437.5 944.1,436.6 947.3,434.3 950.5,438 953.7,435.8 956.9,437 960.1,444.1 963.3,435 966.5,445.2 969.7,436.3 972.9,441.8 976.1,443.5 979.3,440.1 982.5,443.1 985.7,441.4 988.9,442.2 992.1,443.8 995.3,442.5 998.5,449.3 1001.7,441.8 1004.9,449.5 1008.1,436 1011.3,449.8 1014.5,447.4 1017.7,444.8 1020.9,449.9 1024.1,447 1027.3,445.7 1030.5,449.2 1033.7,454.5 1036.9,444.6 1040.1,448.9 1043.3,447.2 1046.5,449.6 1049.7,442.9 1052.9,453.7 1056.1,460.7 1059.3,461 1062.5,452.2 1065.7,452.6 1068.9,454.2 1072.1,449.8 1075.3,455.3 1078.5,445 1081.7,444.8 1084.9,455.9 1088.1,443.2 1091.3,454.8 1094.5,454.4 1097.7,450.4 1100.9,456.8 1104.1,452.5 1107.3,452.8 1110.5,462.2 1113.7,452.9 1116.9,462.9 1120.1,460.2 1123.3,452.4 1126.5,461 1129.7,455.1 1132.9,459.2 1136.1,448.7 1139.3,460.2 1142.5,455 1145.7,452.7 1148.9,461.4 1152.1,452.5 1155.3,463.1 1158.5,457.5 1161.7,463.5 1164.9,457.6 1168.1,460.7 1171.3,451.6 1174.5,462.3 1177.7,457.2 1180.9,461.4 1184.1,459.1 1187.3,461.9 1190.5,456.8 1193.7,467.4 1196.9,464.4 1200.1,456.4 1203.3,461.6 1206.5,463.3 1209.7,468.6 1212.9,465.8 1216.1,455 1219.3,462.4 1222.5,460.2 1225.7,461.8 1228.9,472 1232.1,474.2 1235.3,458.9 1238.5,469.7 1241.7,463.1 1244.9,458.5 1248.1,462.1 1251.3,462.5 1254.5,465.4 1257.7,459 1260.9,465.2 1264.1,467.3 1267.3,465.2 1270.5,461.3 1273.7,469.8 1276.9,457.6 1280.1,459.5 1283.3,455.4 1286.5,470.4 1289.7,468.3 1292.9,457.8 1296.1,472.3 1299.3,473 1302.5,475.3 1305.7,459.9 1308.9,482.8 1312.1,477.3 1315.3,466.6 1318.5,464.6 1321.7,457.2 1324.8,458.3" fill="none" stroke="#0072BD" stroke-width="5.7" stroke-linejoin="round" stroke-linecap="round"/>
</g>
<ellipse cx="828" cy="152.5" rx="92" ry="93" fill="#00CCFF"/>
<use href="#mic2" x="799.4" y="79" width="29.6" height="29.6"/>
<use href="#mic2" x="823.6" y="129.4" width="29.6" height="29.6"/>
<use href="#mic2" x="774.7" y="140.1" width="29.6" height="29.6"/>
<use href="#mic2" x="852.9" y="169.1" width="29.6" height="29.6"/>
<use href="#mic2" x="790.3" y="190.2" width="29.6" height="29.6"/>
<rect x="925" y="38.3" width="399.3" height="268" fill="#fff" stroke="#5a5a5a" stroke-width="1.8"/>
<path d="M934.5,67.7H1025" stroke="#0072BD" stroke-width="5.6"/>
<text x="1032" y="73.7" class="lg"><tspan class="dl">&#948;</tspan><tspan> 20; 0%</tspan><tspan class="sb" dy="14.5">w</tspan><tspan dy="-14.5" dx="2"> squalane</tspan></text>
<path d="M934.5,120.2H1025" stroke="#D95319" stroke-width="5.6"/>
<text x="1032" y="126.2" class="lg"><tspan class="dl">&#948;</tspan><tspan> 20; 5%</tspan><tspan class="sb" dy="14.5">w</tspan><tspan dy="-14.5" dx="2"> squalane</tspan></text>
<path d="M934.5,172H1025" stroke="#EDB120" stroke-width="5.6"/>
<text x="1032" y="178" class="lg"><tspan class="dl">&#948;</tspan><tspan> 20; <tspan class="one">1</tspan>0%</tspan><tspan class="sb" dy="14.5">w</tspan><tspan dy="-14.5" dx="2"> squalane</tspan></text>
<path d="M934.5,224.5H1025" stroke="#7E2F8E" stroke-width="5.6"/>
<text x="1032" y="230.5" class="lg"><tspan class="dl">&#948;</tspan><tspan> 20; <tspan class="one">1</tspan>5%</tspan><tspan class="sb" dy="14.5">w</tspan><tspan dy="-14.5" dx="2"> squalane</tspan></text>
<path d="M934.5,276.3H1025" stroke="#77AC30" stroke-width="5.6"/>
<text x="1032" y="282.3" class="lg"><tspan class="dl">&#948;</tspan><tspan> 20; 20%</tspan><tspan class="sb" dy="14.5">w</tspan><tspan dy="-14.5" dx="2"> squalane</tspan></text>
<path d="M446.5,509V143.7" stroke="#000" stroke-width="4.2"/>
<path d="M446.5,127.7L438,145.7L455,145.7Z" fill="#000"/>
<text x="467" y="470.5" class="an" font-size="25.5" textLength="397" lengthAdjust="spacingAndGlyphs">increasing amount of Squalane</text>
<text transform="translate(176.6,0) rotate(-90)" x="-336.7 -318.3 -293.3 -249.4 -224.4 -210.3 -183.1" y="0" class="yl">(q)a.u.</text>
<path d="M139.6,252.1L188.4,270.9" stroke="#222" stroke-width="2.5"/>
<path d="M143.2,341.7H145.5V344.6Q145.7,346.9 148,346.9H170.9Q173.2,346.9 173.4,344.6V341.7H175.7V356.9H173.4V354Q173.2,351.7 170.9,351.7H148Q145.7,351.7 145.5,354V356.9H143.2Z" fill="#222"/>
<text x="727.3" y="612" class="xl">q</text>
<path d="M756,624L774.4,575.2" stroke="#222" stroke-width="2.6"/>
<text x="778.2" y="612" class="xl" textLength="67" lengthAdjust="spacingAndGlyphs">nm</text>
<path d="M849.6,584.8h20" stroke="#222" stroke-width="2.2"/>
<text x="874" y="594.4" class="xs">1</text>
<text x="26" y="300" class="pl">a)</text>
<path d="M287.9,1196.6h5.5M1339.9,1196.6h-5.5M287.9,1185.2h5.5M1339.9,1185.2h-5.5M287.9,1175.8h5.5M1339.9,1175.8h-5.5M287.9,1167.9h5.5M1339.9,1167.9h-5.5M287.9,1161h5.5M1339.9,1161h-5.5M287.9,1155h5.5M1339.9,1155h-5.5M287.9,1149.6h10.5M1339.9,1149.6h-10.5M287.9,1114h5.5M1339.9,1114h-5.5M287.9,1093.3h5.5M1339.9,1093.3h-5.5M287.9,1078.5h5.5M1339.9,1078.5h-5.5M287.9,1067.1h5.5M1339.9,1067.1h-5.5M287.9,1057.7h5.5M1339.9,1057.7h-5.5M287.9,1049.8h5.5M1339.9,1049.8h-5.5M287.9,1042.9h5.5M1339.9,1042.9h-5.5M287.9,1036.9h5.5M1339.9,1036.9h-5.5M287.9,1031.5h10.5M1339.9,1031.5h-10.5M287.9,995.9h5.5M1339.9,995.9h-5.5M287.9,975.2h5.5M1339.9,975.2h-5.5M287.9,960.4h5.5M1339.9,960.4h-5.5M287.9,949h5.5M1339.9,949h-5.5M287.9,939.6h5.5M1339.9,939.6h-5.5M287.9,931.7h5.5M1339.9,931.7h-5.5M287.9,924.8h5.5M1339.9,924.8h-5.5M287.9,918.8h5.5M1339.9,918.8h-5.5M287.9,913.4h10.5M1339.9,913.4h-10.5M287.9,877.8h5.5M1339.9,877.8h-5.5M287.9,857.1h5.5M1339.9,857.1h-5.5M287.9,842.3h5.5M1339.9,842.3h-5.5M287.9,830.9h5.5M1339.9,830.9h-5.5M287.9,821.5h5.5M1339.9,821.5h-5.5M287.9,813.6h5.5M1339.9,813.6h-5.5M287.9,806.7h5.5M1339.9,806.7h-5.5M287.9,800.7h5.5M1339.9,800.7h-5.5M287.9,795.3h10.5M1339.9,795.3h-10.5M287.9,759.7h5.5M1339.9,759.7h-5.5M287.9,739h5.5M1339.9,739h-5.5M287.9,724.2h5.5M1339.9,724.2h-5.5M437.6,1200.8v-10.5M437.6,713.4v10.5M618.1,1200.8v-10.5M618.1,713.4v10.5M798.5,1200.8v-10.5M798.5,713.4v10.5M979,1200.8v-10.5M979,713.4v10.5M1159.4,1200.8v-10.5M1159.4,713.4v10.5M1339.9,1200.8v-10.5M1339.9,713.4v10.5" stroke="#5e5e5e" stroke-width="2.3" fill="none"/>
<rect x="287.9" y="713.4" width="1052" height="487.4" fill="none" stroke="#666" stroke-width="2.3"/>
<text x="437.6" y="1251.4" text-anchor="middle" class="tk"><tspan class="one">1</tspan></text>
<text x="618.1" y="1251.4" text-anchor="middle" class="tk">2</text>
<text x="798.5" y="1251.4" text-anchor="middle" class="tk">3</text>
<text x="979" y="1251.4" text-anchor="middle" class="tk">4</text>
<text x="1159.4" y="1251.4" text-anchor="middle" class="tk">5</text>
<text x="1339.9" y="1251.4" text-anchor="middle" class="tk">6</text>
<text x="274.4" y="814.8" text-anchor="end" class="tk"><tspan class="one">1</tspan>0<tspan class="ex" dy="-17.5">-2</tspan></text>
<text x="274.4" y="1051" text-anchor="end" class="tk"><tspan class="one">1</tspan>0<tspan class="ex" dy="-17.5">-4</tspan></text>
<g clip-path="url(#cb)">
<path d="M287.6,732.1 289.4,734 291.2,734.3 293,736.8 294.8,738.1 296.6,738.6 298.4,738.4 300.2,740.2 302,740.3 303.8,740.5 305.6,740.1 307.4,739.8 309.2,739.1 311,738.1 312.8,738.1 314.6,737 316.4,737.2 318.2,736.2 320,736.1 321.8,736.9 323.6,736.9 325.4,740.4 327.2,740.1 329,739.9 330.8,740.5 332.6,740.2 334.4,740.5 336.2,738.8 338,737.5 339.8,737.8 341.6,736.6 343.4,736.4 345.2,735.1 347,732.1 348.8,731.2 350.6,730.9 352.4,727.8 354.2,727.5 356,724.9 357.8,724.4 359.6,723.5 361.4,722.1 363.2,722.6 365,721.3 366.8,721.7 368.6,722.2 370.4,723.3 372.2,722.9 374,721.8 375.8,720.3 377.6,719.6 379.4,723.2 381.2,725.8 383,730.8 384.8,736.3 386.6,741.9 388.4,751.1 390.2,758.9 392,769.2 393.8,778.5 395.6,787.6 397.4,795.2 399.2,801.6 401,806.6 402.8,808.8 404.6,813.7 406.4,814.8 408.2,818.1 410,819.9 411.8,824 413.6,826.2 415.4,828.6 417.2,830.9 419,832.1 420.8,833.1 422.6,833.5 424.4,834.1 426.2,834.4 428,835.2 429.8,836.5 431.6,838.8 433.4,840.1 435.2,842.2 437,842.8 438.8,844.3 440.6,843.1 442.4,844.2 444.2,842.9 446,843 447.8,844.6 449.6,843.2 451.4,843.1 453.2,843.4 455,843.3 456.8,843.2 458.6,843.6 460.4,843.9 462.2,842.6 464,843.6 465.8,842.2 467.6,843 469.4,842 471.2,841.8 473,842 474.8,841.8 476.6,844 478.4,845.1 480.2,845.2 482,847.7 483.8,850.8 485.6,851.4 487.4,851.9 489.2,854.5 491,854.6 492.8,854.9 494.6,857.6 496.4,858.1 498.2,858.4 500,860.1 501.8,860.5 503.6,860.9 505.4,862.8 507.2,861.6 509,861.6 510.8,863.4 512.6,864 514.4,862.4 516.2,864 518,865.1 519.8,863.5 521.6,863.7 523.4,864.1 525.2,864.9 527,865.6 528.8,865 530.6,865.7 532.4,866.3 534.2,865.3 536,865.9 537.8,866.4 539.6,866.6 541.4,866 543.2,866.9 545,867.8 546.8,868.1 548.6,868.9 550.4,867 552.2,869.8 554,869.1 555.8,869.5 557.6,869.5 559.4,869 561.2,871.5 563,872 564.8,870.4 566.6,872.2 568.4,871.5 570.2,873.7 572,873.1 573.8,873.7 575.6,873.6 577.4,874.7 579.2,875.8 581,875.4 582.8,876.2 584.6,876.9 586.4,875.9 588.2,880.6 590,878.4 591.8,880.9 593.6,879.7 595.4,883.7 597.2,882.7 599,884.2 600.8,885.1 602.6,885.3 604.4,887.7 606.2,888 608,886.8 609.8,888.9 611.6,889.6 613.4,890.8 615.2,889 617,891.8 618.8,892.5 620.6,891.4 622.4,892.8 624.2,894.6 626,893.5 627.8,893.3 629.6,894.7 631.4,895.8 633.2,895.5 635,896.2 636.8,896.2 638.6,896.4 640.4,897.7 642.2,898.3 644,898.1 645.8,897.6 647.6,900.8 649.4,898.7 651.2,900.2 653,900.1 654.8,901 656.6,899.9 658.4,902.5 660.2,901.4 662,900.8 663.8,900.1 665.6,903.2 667.4,903.2 669.2,902.5 671,902.4 672.8,904.4 674.6,903 676.4,905.7 678.2,903.3 680,906 681.8,904.4 683.6,904.1 685.4,905.9 687.2,905.7 689,907.1 690.8,904.6 692.6,908.3 694.4,906.5 696.2,906.4 698,908.2 699.8,907 701.6,908.7 703.4,907.7 705.2,908.1 707,907.8 708.8,910.2 710.6,908.8 712.4,909.1 714.2,909.1 716,910.6 717.8,908.9 719.6,909.6 721.4,910.4 723.2,910 725,912.6 726.8,910.7 728.6,911 730.4,911.8 732.2,911.7 734,913.3 735.8,912.9 737.6,913.6 739.4,913.8 741.2,911.6 743,912.3 744.8,912.5 746.6,913.2 748.4,913.4 750.2,914.8 752,912.4 753.8,914.5 755.6,913.5 757.4,913.5 759.2,916.5 761,915.1 762.8,913.3 764.6,917.1 766.4,917.4 768.2,914.4 770,916.7 771.8,914.4 773.6,918.4 775.4,914 777.2,916.9 779,915.6 780.8,915.5 782.6,917.6 784.4,917.2 786.2,915.7 788,915.8 789.8,917.3 791.6,917.4 793.4,916.5 795.2,917 797,916.9 798.8,917.5 800.6,916.6 802.4,918.3 804.2,916.3 806,917.9 807.8,916.7 809.6,919.4 811.4,918.4 813.2,919 815,916.7 816.8,918.3 818.6,917.8 820.4,918.5 822.2,918.7 824,918.2 825.8,919.8 827.6,920.2 829.4,918.7 831.2,918.2 833,921.1 834.8,918.1 836.6,919.2 838.4,920.5 840.2,919.8 842,917.1 843.8,918.3 845.6,921.6 847.4,917.7 849.2,920.9 851,920.8 852.8,919.9 854.6,920.1 856.4,919.6 858.2,919.7 860,920 861.8,920.8 863.6,919.1 865.4,921.1 867.2,918.7 869,921.1 870.8,921 872.6,918.5 874.4,921.3 876.2,919.2 878,919.7 879.8,919.4 881.6,919.4 883.4,919.9 885.2,920.2 887,919.3 888.8,920.7 890.6,919.1 892.4,920.7 894.2,921.6 896,917 897.8,922.7 899.6,918.6 901.4,920.4 903.2,921.3 905,920.6 906.8,919.8 908.6,917.2 910.4,921.3 912.2,920.8 914,918.6 915.8,920.9 917.6,922.2 919.4,918.3 921.2,920.6 923,918.4 924.8,919.4 926.6,922.5 928.4,917.7 930.2,921.2 932,918.6 933.8,919.9 935.6,920 937.4,921.1 939.2,917.4 941,923.1 942.8,920.9 944.6,917.5 946.4,919 948.2,918.3 950,923.4 951.8,919.2 953.6,918.7 955.4,922.4 957.2,919.8 959,920.7 960.8,920.4 962.6,919.4 964.4,918.6 966.2,919.4 968,922 969.8,917.9 971.6,918.8 973.4,919.1 975.2,920.5 977,920.1 978.8,921.4 980.6,916.9 982.4,922.4 984.2,918.7 986,923 987.8,918.1 989.6,920.4 991.4,919.3 993.2,919.7 995,919.6 996.8,918.4 998.6,921.1 1000.4,921.5 1002.2,917.6 1004,918.2 1005.8,920.2 1007.6,919.3 1009.4,920.1 1011.2,918.6 1013,919.1 1014.8,922.6 1016.6,918.7 1018.4,920.5 1020.2,918.5 1022,921.1 1023.8,917 1025.6,919.2 1027.4,917.2 1029.2,920.5 1031,921 1032.8,916.3 1034.6,918.1 1036.4,921.1 1038.2,915.9 1040,921.3 1041.8,917.6 1043.6,918.4 1045.4,919.5 1047.2,919.2 1049,918.5 1050.8,918.3 1052.6,918.2 1054.4,922.1 1056.2,915.5 1058,919.1 1059.8,919.1 1061.6,919.3 1063.4,918.7 1065.2,919.4 1067,917 1068.8,919.1 1070.6,916.1 1072.4,919.5 1074.2,916.6 1076,920.5 1077.8,918 1079.6,917 1081.4,919.7 1083.2,918.3 1085,917.9 1086.8,918 1088.6,915.3 1090.4,917.5 1092.2,919.3 1094,917.1 1095.8,918.3 1097.6,920.9 1099.4,916.9 1101.2,916.2 1103,919.1 1104.8,919.5 1106.6,915.9 1108.4,917.1 1110.2,919.1 1112,918.1 1113.8,917 1115.6,917.9 1117.4,917.4 1119.2,917.9 1121,917.9 1122.8,915.9 1124.6,918.6 1126.4,917.2 1128.2,917.1 1130,917.8 1131.8,915 1133.6,920.4 1135.4,917.2 1137.2,918.6 1139,916 1140.8,916.4 1142.6,918.3 1144.4,914.4 1146.2,917.9 1148,916.3 1149.8,920.1 1151.6,916.5 1153.4,915.3 1155.2,916 1157,915.7 1158.8,918.2 1160.6,915.1 1162.4,915.7 1164.2,916.1 1166,919.4 1167.8,915.1 1169.6,917.8 1171.4,914.8 1173.2,918.3 1175,915 1176.8,915.9 1178.6,913.6 1180.4,918.9 1182.2,916.7 1184,914.8 1185.8,917.5 1187.6,915.8 1189.4,912.6 1191.2,914.9 1193,915.4 1194.8,918.7 1196.6,914.3 1198.4,918.1 1200.2,915 1202,915.6 1203.8,914.4 1205.6,915 1207.4,915.7 1209.2,914.9 1211,913.4 1212.8,917.5 1214.6,914.5 1216.4,913.3 1218.2,916 1220,915.7 1221.8,914.5 1223.6,915.6 1225.4,914.3 1227.2,914.1 1229,914.1 1230.8,915.7 1232.6,916.3 1234.4,912.7 1236.2,915.9 1238,912.6 1239.8,915.7 1241.6,912.5 1243.4,915.2 1245.2,914.1 1247,912.5 1248.8,916.8 1250.6,912.4 1252.4,915.6 1254.2,914.8 1256,911.6 1257.8,914.9 1259.6,912 1261.4,912.8 1263.2,911.6 1265,914.4 1266.8,914.9 1268.6,910.3 1270.4,916.2 1272.2,913.4 1274,915.8 1275.8,910.5 1277.6,913.5 1279.4,911.8 1281.2,913.6 1283,916.3 1284.8,908.8 1286.6,914.4 1288.4,913.6 1290.2,912.5 1292,914.6 1293.8,913.1 1295.6,912.4 1297.4,913.7 1299.2,914.6 1301,912.7 1302.8,911.3 1304.6,912.6 1306.4,914.4 1308.2,913 1310,912.4 1311.8,910.6 1313.6,914.8 1315.4,912.3 1317.2,911.1 1319,913.8 1320.8,911.6 1322.6,913.6 1324.4,910.6 1326.2,912.7 1328,914 1329.8,911.4 1331.6,911.8 1333.4,911.8 1335.2,912 1337,915.3 1338.8,910.8 1339.5,913" fill="none" stroke="#A2142F" stroke-width="5.7" stroke-linejoin="round" stroke-linecap="round"/>
<path d="M287.6,772.2 289.4,773.8 291.2,773.3 293,775.4 294.8,774.3 296.6,775.9 298.4,775.7 300.2,776.3 302,775.3 303.8,774.8 305.6,775.2 307.4,774.1 309.2,772.3 311,772.7 312.8,770.7 314.6,770 316.4,768.9 318.2,767.5 320,768.4 321.8,768.3 323.6,769.7 325.4,771.3 327.2,771.7 329,773.1 330.8,773.9 332.6,773.3 334.4,772.7 336.2,771.4 338,771.4 339.8,770.6 341.6,769.3 343.4,767.3 345.2,766.7 347,766.4 348.8,764.9 350.6,762.7 352.4,761.9 354.2,759.1 356,756.7 357.8,754.2 359.6,751.9 361.4,750.3 363.2,751.3 365,751 366.8,751.7 368.6,753.4 370.4,753.8 372.2,754.5 374,751.5 375.8,750.3 377.6,749.8 379.4,751.2 381.2,754.8 383,761 384.8,771.3 386.6,780.8 388.4,790.9 390.2,798.8 392,809 393.8,818.1 395.6,828.3 397.4,833.6 399.2,836.9 401,838.7 402.8,840.8 404.6,841.7 406.4,845.2 408.2,852.2 410,855.4 411.8,858.9 413.6,862 415.4,863.1 417.2,865.1 419,867.2 420.8,868.8 422.6,868.9 424.4,870.2 426.2,870.3 428,871.6 429.8,873.8 431.6,873.6 433.4,874.6 435.2,877.3 437,877.3 438.8,877.2 440.6,877.7 442.4,877.1 444.2,877.2 446,876.7 447.8,877.4 449.6,876.7 451.4,877.3 453.2,878.1 455,876.8 456.8,877.3 458.6,876.8 460.4,878.6 462.2,875.6 464,877.3 465.8,877.3 467.6,875.2 469.4,874.7 471.2,874.7 473,874.3 474.8,874.6 476.6,874.6 478.4,876.9 480.2,876.9 482,879.1 483.8,880.6 485.6,883 487.4,884 489.2,885.6 491,887.8 492.8,888.2 494.6,889.9 496.4,891 498.2,891.9 500,892.9 501.8,894 503.6,896.2 505.4,894.6 507.2,897.5 509,896.5 510.8,897 512.6,896.6 514.4,898 516.2,897.2 518,898.4 519.8,897 521.6,897.3 523.4,897.5 525.2,898.8 527,897.9 528.8,897.6 530.6,899.1 532.4,897.7 534.2,897.9 536,898.7 537.8,897.5 539.6,898.9 541.4,898 543.2,899.6 545,899.2 546.8,899 548.6,900.3 550.4,899.1 552.2,900.8 554,900.3 555.8,900.3 557.6,902.2 559.4,902.6 561.2,903.5 563,901.6 564.8,903.4 566.6,904.5 568.4,902.8 570.2,906 572,903.5 573.8,905.6 575.6,906.7 577.4,907 579.2,908.7 581,907.6 582.8,909.9 584.6,910.2 586.4,911.6 588.2,912.7 590,913.8 591.8,914.4 593.6,916 595.4,917 597.2,917.3 599,919.1 600.8,922.1 602.6,921.8 604.4,924.5 606.2,925.2 608,924.9 609.8,925.5 611.6,926.3 613.4,927.6 615.2,928.9 617,926.5 618.8,929.5 620.6,930.2 622.4,929.7 624.2,930.3 626,932.2 627.8,932 629.6,932.3 631.4,930.4 633.2,932.5 635,933.5 636.8,933.4 638.6,933.6 640.4,934.2 642.2,934.8 644,934.6 645.8,936.8 647.6,933.7 649.4,935.8 651.2,935.2 653,937.7 654.8,936.7 656.6,936.9 658.4,936.7 660.2,940 662,937.6 663.8,939 665.6,937.3 667.4,940.1 669.2,939.7 671,940.9 672.8,939.7 674.6,940.9 676.4,938.8 678.2,941.5 680,941.4 681.8,941.4 683.6,941.6 685.4,941.9 687.2,943.6 689,941.6 690.8,943.7 692.6,943.4 694.4,942.8 696.2,944 698,941.8 699.8,945 701.6,945.8 703.4,943.7 705.2,943.6 707,947.4 708.8,944 710.6,947.9 712.4,945.5 714.2,945.4 716,947 717.8,949 719.6,946.8 721.4,947.6 723.2,948.3 725,948.1 726.8,948.2 728.6,949.9 730.4,950.3 732.2,948.8 734,951.3 735.8,950.3 737.6,948.4 739.4,952.2 741.2,951.3 743,947.5 744.8,951.8 746.6,952.6 748.4,951 750.2,952.9 752,952.3 753.8,952.2 755.6,953.5 757.4,953 759.2,953.8 761,953.8 762.8,953.4 764.6,953.8 766.4,954.3 768.2,955.5 770,953.5 771.8,956.9 773.6,953.4 775.4,957.7 777.2,954 779,955.2 780.8,955.4 782.6,956.6 784.4,955.8 786.2,954.9 788,956.8 789.8,956.5 791.6,956.1 793.4,957.5 795.2,952.9 797,957.8 798.8,956 800.6,957.5 802.4,958.4 804.2,954 806,956.8 807.8,957.1 809.6,958.1 811.4,957.5 813.2,955.6 815,958.5 816.8,956.6 818.6,958.4 820.4,956.7 822.2,957.9 824,957.1 825.8,956.5 827.6,957.1 829.4,958.8 831.2,956.5 833,957.1 834.8,958.2 836.6,958.5 838.4,958.2 840.2,956.6 842,958.2 843.8,958.7 845.6,956.9 847.4,959.6 849.2,957.6 851,956.8 852.8,959.6 854.6,957.4 856.4,960.2 858.2,956.9 860,960.1 861.8,959.9 863.6,957.4 865.4,958.5 867.2,957.5 869,958.8 870.8,959.2 872.6,960.2 874.4,958.4 876.2,956.6 878,960.5 879.8,956.7 881.6,961.1 883.4,958.6 885.2,958.2 887,956.6 888.8,960.1 890.6,957.1 892.4,958 894.2,958.8 896,956.5 897.8,959.7 899.6,958.8 901.4,959.2 903.2,957 905,958.2 906.8,960.4 908.6,958.9 910.4,955.4 912.2,960.4 914,959.2 915.8,956.8 917.6,960.2 919.4,957.3 921.2,958.1 923,957.1 924.8,961.1 926.6,956.1 928.4,954.9 930.2,959 932,958.5 933.8,957.2 935.6,961.3 937.4,955.9 939.2,958.5 941,958.8 942.8,959.1 944.6,956 946.4,957.1 948.2,958.7 950,961 951.8,958.4 953.6,959.5 955.4,956.8 957.2,960.2 959,957.9 960.8,958.2 962.6,959 964.4,958.3 966.2,958.4 968,956.1 969.8,959.9 971.6,957.9 973.4,959 975.2,958.2 977,957.5 978.8,959.2 980.6,960 982.4,957.7 984.2,957.8 986,958.4 987.8,959.5 989.6,956.4 991.4,958.8 993.2,957.6 995,956.4 996.8,960.4 998.6,958.8 1000.4,956.9 1002.2,958.1 1004,959.1 1005.8,960.1 1007.6,956.5 1009.4,960.9 1011.2,958.3 1013,954.2 1014.8,959.4 1016.6,958.8 1018.4,957.2 1020.2,959.6 1022,957.5 1023.8,958.3 1025.6,957.1 1027.4,955.6 1029.2,959.8 1031,956 1032.8,959.8 1034.6,957.4 1036.4,961.6 1038.2,955.8 1040,954.9 1041.8,962.4 1043.6,956.5 1045.4,958.9 1047.2,958.6 1049,955.1 1050.8,957 1052.6,959.6 1054.4,955.4 1056.2,955.8 1058,958.1 1059.8,957.8 1061.6,958.5 1063.4,956.2 1065.2,956.8 1067,958.5 1068.8,957.2 1070.6,958.3 1072.4,954.9 1074.2,961.2 1076,953.9 1077.8,959.8 1079.6,957.6 1081.4,955.4 1083.2,957.7 1085,956.5 1086.8,958.5 1088.6,957.9 1090.4,956.3 1092.2,957.4 1094,955.9 1095.8,958.7 1097.6,957.4 1099.4,956.2 1101.2,955.8 1103,959.3 1104.8,954.8 1106.6,957 1108.4,956.3 1110.2,958 1112,956.6 1113.8,955.1 1115.6,957.3 1117.4,956.4 1119.2,958.6 1121,959.4 1122.8,957.2 1124.6,957.8 1126.4,957.5 1128.2,954.8 1130,956.6 1131.8,955.3 1133.6,958.5 1135.4,954.9 1137.2,954.7 1139,958.1 1140.8,956.1 1142.6,958 1144.4,955.4 1146.2,955.9 1148,957 1149.8,956.4 1151.6,957.8 1153.4,955.3 1155.2,956.1 1157,957 1158.8,954.5 1160.6,956.7 1162.4,957.8 1164.2,954.4 1166,959 1167.8,954.8 1169.6,955.9 1171.4,957 1173.2,955.9 1175,954.3 1176.8,954.9 1178.6,957.7 1180.4,954.5 1182.2,956.4 1184,957.1 1185.8,955.2 1187.6,955.4 1189.4,954.8 1191.2,957 1193,959.1 1194.8,952.6 1196.6,954.6 1198.4,956.5 1200.2,957.8 1202,954.4 1203.8,956.2 1205.6,956.8 1207.4,956.6 1209.2,954.3 1211,954.6 1212.8,956.6 1214.6,958.2 1216.4,951.6 1218.2,956.6 1220,955.3 1221.8,955.1 1223.6,956 1225.4,954.3 1227.2,957.1 1229,953.5 1230.8,954 1232.6,956.2 1234.4,956.3 1236.2,958.8 1238,952.5 1239.8,957.7 1241.6,951.5 1243.4,957.7 1245.2,956.3 1247,953.8 1248.8,956.4 1250.6,953.8 1252.4,954.5 1254.2,955.1 1256,956 1257.8,951.7 1259.6,958.4 1261.4,953.3 1263.2,954.2 1265,956.9 1266.8,954 1268.6,958.1 1270.4,950.9 1272.2,955.3 1274,954.1 1275.8,956.8 1277.6,952.3 1279.4,953.1 1281.2,952 1283,954.3 1284.8,955.7 1286.6,953.1 1288.4,956.6 1290.2,950.9 1292,955.3 1293.8,952.1 1295.6,955 1297.4,953 1299.2,953.9 1301,951.6 1302.8,956.8 1304.6,952 1306.4,953.6 1308.2,953.3 1310,953.4 1311.8,955.8 1313.6,954 1315.4,952.9 1317.2,951.8 1319,954.5 1320.8,952.6 1322.6,950.4 1324.4,954.3 1326.2,954 1328,952 1329.8,953.3 1331.6,954.8 1333.4,953.7 1335.2,949.5 1337,955.1 1338.8,952.8 1339.5,953.4" fill="none" stroke="#4DBEEE" stroke-width="5.7" stroke-linejoin="round" stroke-linecap="round"/>
<path d="M287.6,808.6 289.4,809.9 291.2,808.6 293,808.7 294.8,808.4 296.6,809.2 298.4,807.6 300.2,808.7 302,807.4 303.8,807.6 305.6,806.8 307.4,806.8 309.2,806.3 311,805.2 312.8,806.5 314.6,806.1 316.4,806.9 318.2,807.8 320,807.1 321.8,810 323.6,808 325.4,809.3 327.2,809.2 329,808.8 330.8,807.8 332.6,807.1 334.4,806.4 336.2,804.7 338,804.7 339.8,804.5 341.6,800.5 343.4,800.9 345.2,798.4 347,796 348.8,794.9 350.6,793.8 352.4,793.4 354.2,793.7 356,793.6 357.8,795.1 359.6,794.8 361.4,795.7 363.2,798.1 365,798.2 366.8,802 368.6,806 370.4,814.7 372.2,820.5 374,827.9 375.8,835.1 377.6,841.1 379.4,846.8 381.2,853.7 383,859.6 384.8,865.2 386.6,869.9 388.4,874.6 390.2,876.9 392,881.4 393.8,883.6 395.6,885.9 397.4,888.9 399.2,892.8 401,892.4 402.8,896.9 404.6,898.7 406.4,901.7 408.2,903.9 410,906.7 411.8,908.8 413.6,910.7 415.4,912.3 417.2,914.8 419,916.3 420.8,917.1 422.6,918.3 424.4,918.5 426.2,919.2 428,920.6 429.8,921.4 431.6,922.2 433.4,922.5 435.2,922.8 437,922.2 438.8,923.1 440.6,923.2 442.4,922.5 444.2,922.3 446,920.8 447.8,922.1 449.6,920.9 451.4,923.9 453.2,923.9 455,924.6 456.8,926.9 458.6,927.9 460.4,930.1 462.2,932.3 464,933.2 465.8,936.4 467.6,936.3 469.4,938.7 471.2,939.2 473,940 474.8,941.5 476.6,942.4 478.4,943 480.2,945.5 482,944 483.8,946.3 485.6,947.3 487.4,947.4 489.2,948.4 491,947.4 492.8,949.1 494.6,949.1 496.4,949.8 498.2,948.4 500,949.6 501.8,950.5 503.6,949.2 505.4,949.8 507.2,949.5 509,950.4 510.8,948.5 512.6,950.1 514.4,949.9 516.2,950.3 518,950.1 519.8,949 521.6,951.1 523.4,949.9 525.2,952.4 527,949.6 528.8,951.5 530.6,950.3 532.4,951.2 534.2,950.9 536,952.3 537.8,952.2 539.6,950.8 541.4,953 543.2,952.8 545,953.3 546.8,952.3 548.6,954.6 550.4,952.7 552.2,955.3 554,955.2 555.8,956.6 557.6,958.6 559.4,959 561.2,961.9 563,960.4 564.8,962.4 566.6,965 568.4,964.6 570.2,965.3 572,966.8 573.8,966.6 575.6,966 577.4,968.7 579.2,969.9 581,968.5 582.8,971.5 584.6,969.8 586.4,971.4 588.2,971.5 590,971.2 591.8,972.9 593.6,972.6 595.4,973.5 597.2,974.9 599,974.5 600.8,974.5 602.6,975.8 604.4,976.9 606.2,975.8 608,976.7 609.8,978.2 611.6,977.2 613.4,977.8 615.2,980.8 617,977.7 618.8,980.5 620.6,980.6 622.4,980.4 624.2,982.8 626,982.3 627.8,981.6 629.6,981.3 631.4,984.1 633.2,982.1 635,985.3 636.8,984.9 638.6,984.9 640.4,986.3 642.2,985.5 644,985.6 645.8,987 647.6,988.5 649.4,985.7 651.2,989.7 653,987.8 654.8,992 656.6,987.7 658.4,989.5 660.2,993.1 662,992 663.8,991.3 665.6,993.1 667.4,992.4 669.2,994.5 671,995.4 672.8,995 674.6,995.5 676.4,995.8 678.2,998.1 680,998.4 681.8,998.3 683.6,996.6 685.4,999.9 687.2,998.7 689,1000.1 690.8,1001 692.6,1003 694.4,1000.1 696.2,1001.5 698,1001.6 699.8,1003.2 701.6,1000.9 703.4,1004.6 705.2,1003.8 707,1002.4 708.8,1006 710.6,1005.6 712.4,1002.7 714.2,1006.2 716,1004.4 717.8,1005.2 719.6,1007.1 721.4,1006.1 723.2,1005.1 725,1006.1 726.8,1008.2 728.6,1005.9 730.4,1007.3 732.2,1008.5 734,1007.9 735.8,1009.2 737.6,1010.5 739.4,1006.6 741.2,1011.5 743,1007.3 744.8,1010.7 746.6,1011.1 748.4,1012 750.2,1007.4 752,1013.5 753.8,1009.8 755.6,1011.4 757.4,1011.8 759.2,1013.2 761,1013.1 762.8,1010.9 764.6,1011.3 766.4,1011.9 768.2,1010.7 770,1012.4 771.8,1014.9 773.6,1010.4 775.4,1012.8 777.2,1013.3 779,1012.9 780.8,1012.9 782.6,1012.9 784.4,1013.6 786.2,1015.6 788,1013.5 789.8,1013.5 791.6,1013 793.4,1014.5 795.2,1014.2 797,1013 798.8,1013.5 800.6,1015.3 802.4,1013.3 804.2,1014 806,1014.9 807.8,1014.8 809.6,1014.3 811.4,1017.5 813.2,1014 815,1014.2 816.8,1014.9 818.6,1014.7 820.4,1013.7 822.2,1012 824,1015.4 825.8,1015.8 827.6,1015.4 829.4,1016.9 831.2,1015.8 833,1015.5 834.8,1016.7 836.6,1014.1 838.4,1017 840.2,1013 842,1018.5 843.8,1014.3 845.6,1016.7 847.4,1014.8 849.2,1014.2 851,1016.5 852.8,1016 854.6,1016 856.4,1015.8 858.2,1016.2 860,1014.9 861.8,1014.2 863.6,1016.6 865.4,1014.6 867.2,1016.7 869,1015.7 870.8,1016.3 872.6,1015.2 874.4,1016.5 876.2,1015.6 878,1016.3 879.8,1016 881.6,1016.7 883.4,1016.6 885.2,1015.4 887,1013.2 888.8,1016.9 890.6,1018.5 892.4,1012.1 894.2,1017.8 896,1015.2 897.8,1018.4 899.6,1015.4 901.4,1015.1 903.2,1015.3 905,1013.2 906.8,1019.8 908.6,1015.4 910.4,1014.3 912.2,1016 914,1017.2 915.8,1014.7 917.6,1015.5 919.4,1017.8 921.2,1015.2 923,1016.6 924.8,1016.5 926.6,1012.8 928.4,1017.9 930.2,1016 932,1013.9 933.8,1015.2 935.6,1017.3 937.4,1016.4 939.2,1014.8 941,1016.3 942.8,1016 944.6,1015.8 946.4,1016.8 948.2,1017.8 950,1017.4 951.8,1013.4 953.6,1016.6 955.4,1015.3 957.2,1016.4 959,1015.5 960.8,1018.2 962.6,1016.2 964.4,1014.4 966.2,1018.3 968,1013.9 969.8,1016.7 971.6,1016.6 973.4,1014.9 975.2,1015.2 977,1017 978.8,1016.7 980.6,1015 982.4,1018.5 984.2,1015.3 986,1014.4 987.8,1017.3 989.6,1014.7 991.4,1016.7 993.2,1016.3 995,1015.9 996.8,1017.5 998.6,1014.6 1000.4,1016.2 1002.2,1014.7 1004,1013.7 1005.8,1016 1007.6,1016.2 1009.4,1011.7 1011.2,1018.1 1013,1015.7 1014.8,1016.7 1016.6,1015 1018.4,1016.6 1020.2,1014.3 1022,1014.7 1023.8,1016.4 1025.6,1013.3 1027.4,1018 1029.2,1012.3 1031,1018.2 1032.8,1013 1034.6,1014.9 1036.4,1013.9 1038.2,1015.6 1040,1015.3 1041.8,1012.7 1043.6,1013.7 1045.4,1016.3 1047.2,1012.7 1049,1017 1050.8,1015.9 1052.6,1013 1054.4,1019.8 1056.2,1011.9 1058,1013.1 1059.8,1018.2 1061.6,1013.6 1063.4,1013.4 1065.2,1014.7 1067,1015.5 1068.8,1014.5 1070.6,1012.8 1072.4,1012.9 1074.2,1014.5 1076,1015.8 1077.8,1013.8 1079.6,1014.8 1081.4,1014.5 1083.2,1016.2 1085,1012.4 1086.8,1014.3 1088.6,1011.2 1090.4,1015.7 1092.2,1011.9 1094,1015.4 1095.8,1015.6 1097.6,1013.2 1099.4,1014.4 1101.2,1010.9 1103,1015.3 1104.8,1014.5 1106.6,1013.8 1108.4,1014.5 1110.2,1012.5 1112,1015.4 1113.8,1012.4 1115.6,1013.9 1117.4,1015.4 1119.2,1015 1121,1013.7 1122.8,1011.4 1124.6,1014.2 1126.4,1013.3 1128.2,1014.2 1130,1015.9 1131.8,1013.9 1133.6,1010.9 1135.4,1015.1 1137.2,1013.6 1139,1012.4 1140.8,1013.5 1142.6,1015.5 1144.4,1012.2 1146.2,1013.4 1148,1012.9 1149.8,1008.9 1151.6,1016.5 1153.4,1014.6 1155.2,1015.5 1157,1015 1158.8,1009.9 1160.6,1014.1 1162.4,1012.5 1164.2,1014.1 1166,1011.4 1167.8,1014.5 1169.6,1013.9 1171.4,1013.5 1173.2,1013.2 1175,1014.2 1176.8,1011.9 1178.6,1012.6 1180.4,1013.3 1182.2,1012.6 1184,1013.8 1185.8,1014.2 1187.6,1011.9 1189.4,1010.6 1191.2,1012 1193,1014.9 1194.8,1013.3 1196.6,1013.1 1198.4,1008.6 1200.2,1016.1 1202,1016 1203.8,1010.3 1205.6,1012.4 1207.4,1014.5 1209.2,1010.7 1211,1011.7 1212.8,1015.2 1214.6,1010.2 1216.4,1014.3 1218.2,1011.2 1220,1012.5 1221.8,1011.4 1223.6,1013.9 1225.4,1011.9 1227.2,1012.2 1229,1011.9 1230.8,1011.9 1232.6,1014.4 1234.4,1012.5 1236.2,1012.9 1238,1009.7 1239.8,1013.8 1241.6,1009.4 1243.4,1015.8 1245.2,1013.3 1247,1012.5 1248.8,1011.5 1250.6,1012.4 1252.4,1011.3 1254.2,1010.9 1256,1013.9 1257.8,1012.6 1259.6,1010.3 1261.4,1010.2 1263.2,1012.2 1265,1011.6 1266.8,1011 1268.6,1009.6 1270.4,1011.1 1272.2,1012.9 1274,1014.2 1275.8,1007.8 1277.6,1012.9 1279.4,1010.8 1281.2,1012.1 1283,1011.1 1284.8,1012.8 1286.6,1010.4 1288.4,1010.2 1290.2,1012 1292,1011.1 1293.8,1012.2 1295.6,1011.2 1297.4,1011.4 1299.2,1010.5 1301,1010.7 1302.8,1010.7 1304.6,1011.4 1306.4,1012.4 1308.2,1011.9 1310,1008.6 1311.8,1010.9 1313.6,1010.8 1315.4,1013.2 1317.2,1007.7 1319,1011.4 1320.8,1007 1322.6,1013 1324.4,1008.7 1326.2,1011.1 1328,1011.6 1329.8,1007.5 1331.6,1008 1333.4,1012.7 1335.2,1008.8 1337,1011.3 1338.8,1011.7 1339.5,1007.3" fill="none" stroke="#77AC30" stroke-width="5.7" stroke-linejoin="round" stroke-linecap="round"/>
<path d="M287.6,834.3 289.4,833.4 291.2,833.7 293,832.6 294.8,831.4 296.6,831.7 298.4,830.8 300.2,830.7 302,831.8 303.8,829.9 305.6,830.8 307.4,830.3 309.2,830.2 311,829.9 312.8,830.5 314.6,831.6 316.4,832.1 318.2,831.1 320,832.7 321.8,832.9 323.6,833.1 325.4,831.9 327.2,831.1 329,829.5 330.8,827.7 332.6,827 334.4,826.3 336.2,824.3 338,822.7 339.8,822.9 341.6,820.6 343.4,820 345.2,819.9 347,818.3 348.8,819 350.6,818.8 352.4,821 354.2,821.4 356,822 357.8,823.9 359.6,826.8 361.4,829.5 363.2,834.8 365,840.9 366.8,845.6 368.6,851.2 370.4,863.3 372.2,873 374,878.6 375.8,883.4 377.6,887.2 379.4,890.6 381.2,893.6 383,896.7 384.8,899.9 386.6,905 388.4,907.4 390.2,911.9 392,915.9 393.8,918.7 395.6,921.8 397.4,925.8 399.2,927.8 401,930.5 402.8,933.4 404.6,934.7 406.4,937.4 408.2,936.1 410,941 411.8,942.9 413.6,943.8 415.4,944 417.2,946.3 419,946.3 420.8,947.2 422.6,948.4 424.4,949 426.2,949.5 428,949.9 429.8,950.6 431.6,951.5 433.4,951.7 435.2,952.7 437,951.9 438.8,953.3 440.6,955.6 442.4,955 444.2,956.6 446,957.3 447.8,959.5 449.6,960.3 451.4,961.7 453.2,963.5 455,963.6 456.8,965.7 458.6,965.8 460.4,968.5 462.2,968.5 464,971.5 465.8,970.5 467.6,974 469.4,973.2 471.2,974.6 473,976.6 474.8,976.9 476.6,976.4 478.4,976.8 480.2,977.3 482,979.1 483.8,979 485.6,977.9 487.4,979.8 489.2,980 491,978.1 492.8,980.4 494.6,979.8 496.4,979.3 498.2,980.3 500,979.4 501.8,980.8 503.6,981.1 505.4,979.8 507.2,980.5 509,980.1 510.8,982.9 512.6,982 514.4,981 516.2,982.5 518,982.6 519.8,983.9 521.6,982.3 523.4,985 525.2,983.1 527,986.3 528.8,985 530.6,987.2 532.4,986.6 534.2,986.8 536,987.7 537.8,988 539.6,990 541.4,989.5 543.2,990 545,991.1 546.8,993.3 548.6,993.2 550.4,993.9 552.2,995.4 554,996.3 555.8,996.6 557.6,998 559.4,998.2 561.2,999.4 563,999.5 564.8,1001.4 566.6,1001.1 568.4,1001.6 570.2,1002.6 572,1002.6 573.8,1003.3 575.6,1004.1 577.4,1004.4 579.2,1003 581,1005.2 582.8,1005.1 584.6,1004.5 586.4,1006.4 588.2,1005.6 590,1006 591.8,1005.6 593.6,1006.6 595.4,1007.9 597.2,1008.8 599,1007 600.8,1007.2 602.6,1010.8 604.4,1009.2 606.2,1011 608,1010 609.8,1012.5 611.6,1012.3 613.4,1012.1 615.2,1014.2 617,1015 618.8,1014.9 620.6,1017.6 622.4,1016.3 624.2,1018.8 626,1018.1 627.8,1020 629.6,1020.2 631.4,1019 633.2,1022 635,1022.6 636.8,1021.9 638.6,1024.4 640.4,1024 642.2,1023.1 644,1025.3 645.8,1025.7 647.6,1025.1 649.4,1028.1 651.2,1026.8 653,1027.2 654.8,1027.3 656.6,1028.2 658.4,1028.8 660.2,1030.5 662,1028.9 663.8,1031.6 665.6,1032.4 667.4,1029.2 669.2,1032 671,1033.6 672.8,1032.5 674.6,1032.5 676.4,1034.2 678.2,1034.2 680,1035.3 681.8,1034 683.6,1035.8 685.4,1036 687.2,1036.8 689,1036.5 690.8,1036.1 692.6,1037.2 694.4,1039.7 696.2,1037.3 698,1039 699.8,1038.9 701.6,1039.6 703.4,1040.6 705.2,1039.2 707,1040.9 708.8,1040.5 710.6,1040.7 712.4,1039.9 714.2,1041.5 716,1042.7 717.8,1041.1 719.6,1042 721.4,1042.3 723.2,1041.7 725,1042.8 726.8,1043.8 728.6,1042.5 730.4,1043 732.2,1045.3 734,1044.5 735.8,1043.9 737.6,1043.8 739.4,1046.4 741.2,1045 743,1043.6 744.8,1045.6 746.6,1044.9 748.4,1044.9 750.2,1048.6 752,1047.1 753.8,1043.7 755.6,1048.6 757.4,1046.5 759.2,1047.5 761,1048 762.8,1047.9 764.6,1047.2 766.4,1047.4 768.2,1049.1 770,1049.7 771.8,1046.1 773.6,1048.6 775.4,1049 777.2,1048.1 779,1049.1 780.8,1050.3 782.6,1049.2 784.4,1049 786.2,1049.7 788,1048.9 789.8,1051.1 791.6,1049 793.4,1049.3 795.2,1050.3 797,1050.7 798.8,1052 800.6,1049.6 802.4,1050.3 804.2,1053.4 806,1049.6 807.8,1052.5 809.6,1050.9 811.4,1051.8 813.2,1049.9 815,1052.7 816.8,1051 818.6,1050.9 820.4,1052.8 822.2,1050.8 824,1051.9 825.8,1053.3 827.6,1049.3 829.4,1054.3 831.2,1050.7 833,1051.9 834.8,1053.9 836.6,1052.4 838.4,1050.8 840.2,1054.5 842,1053.5 843.8,1054.6 845.6,1053.7 847.4,1052.7 849.2,1051.8 851,1054.4 852.8,1054.3 854.6,1054.2 856.4,1054.4 858.2,1053.4 860,1054.3 861.8,1053.1 863.6,1054 865.4,1055 867.2,1054.9 869,1052.2 870.8,1054.6 872.6,1054.3 874.4,1055.2 876.2,1053.9 878,1057.3 879.8,1052.8 881.6,1053.4 883.4,1054.6 885.2,1053.9 887,1054.6 888.8,1054.8 890.6,1055.9 892.4,1055 894.2,1054 896,1052.7 897.8,1055.7 899.6,1053 901.4,1054.5 903.2,1054 905,1053.3 906.8,1056.9 908.6,1052.8 910.4,1053.9 912.2,1054.3 914,1055.7 915.8,1051.6 917.6,1055 919.4,1053.3 921.2,1054.8 923,1052.3 924.8,1055.3 926.6,1055.7 928.4,1052.7 930.2,1056.3 932,1052.6 933.8,1054.6 935.6,1053 937.4,1055.9 939.2,1054.5 941,1054.1 942.8,1055.4 944.6,1052.9 946.4,1056.4 948.2,1052.1 950,1052.8 951.8,1054.6 953.6,1054.5 955.4,1052.8 957.2,1053.8 959,1057.3 960.8,1053.7 962.6,1055.2 964.4,1056.7 966.2,1053.3 968,1052.7 969.8,1056.1 971.6,1052.6 973.4,1056.4 975.2,1054.2 977,1055.3 978.8,1052.2 980.6,1052.5 982.4,1056.1 984.2,1055 986,1053.7 987.8,1053.6 989.6,1054 991.4,1053.9 993.2,1055.3 995,1051.7 996.8,1054.9 998.6,1055.2 1000.4,1053.5 1002.2,1053.4 1004,1053.9 1005.8,1055 1007.6,1054.7 1009.4,1051.2 1011.2,1058.3 1013,1052.6 1014.8,1053.6 1016.6,1052.4 1018.4,1053.8 1020.2,1055.6 1022,1053.8 1023.8,1050.9 1025.6,1054.1 1027.4,1054.3 1029.2,1052.5 1031,1057.1 1032.8,1053.8 1034.6,1052.1 1036.4,1051.8 1038.2,1055.1 1040,1053 1041.8,1053.3 1043.6,1052.3 1045.4,1055.5 1047.2,1052.9 1049,1055.1 1050.8,1053.7 1052.6,1052.2 1054.4,1054 1056.2,1052.4 1058,1054.1 1059.8,1051.9 1061.6,1055.1 1063.4,1049.8 1065.2,1055.6 1067,1053 1068.8,1054.3 1070.6,1051.3 1072.4,1054.3 1074.2,1054 1076,1052.6 1077.8,1053.5 1079.6,1053 1081.4,1052.6 1083.2,1052.8 1085,1051.5 1086.8,1054.6 1088.6,1052.9 1090.4,1055.2 1092.2,1050.6 1094,1055.9 1095.8,1053.2 1097.6,1048.9 1099.4,1054.8 1101.2,1055.2 1103,1053.1 1104.8,1055 1106.6,1053.8 1108.4,1051 1110.2,1054.1 1112,1052.3 1113.8,1054.7 1115.6,1048.4 1117.4,1054.3 1119.2,1051.5 1121,1053.4 1122.8,1053.4 1124.6,1052.7 1126.4,1052.3 1128.2,1053.9 1130,1050.8 1131.8,1054.5 1133.6,1052 1135.4,1050.8 1137.2,1053.9 1139,1052.8 1140.8,1052.4 1142.6,1050.7 1144.4,1053.5 1146.2,1055.3 1148,1053.4 1149.8,1049.6 1151.6,1052.9 1153.4,1051.8 1155.2,1050.7 1157,1051.4 1158.8,1053.3 1160.6,1054.1 1162.4,1052.5 1164.2,1053.2 1166,1053.8 1167.8,1049.6 1169.6,1052.4 1171.4,1050.1 1173.2,1052.9 1175,1052.8 1176.8,1053.3 1178.6,1049.5 1180.4,1052 1182.2,1052.2 1184,1051.8 1185.8,1049.9 1187.6,1054 1189.4,1050.9 1191.2,1051.6 1193,1051.2 1194.8,1052.1 1196.6,1051 1198.4,1052 1200.2,1053.6 1202,1050.5 1203.8,1052.3 1205.6,1051.3 1207.4,1049.6 1209.2,1050.2 1211,1053.8 1212.8,1050 1214.6,1051.8 1216.4,1050.7 1218.2,1050.2 1220,1054.4 1221.8,1054.1 1223.6,1051 1225.4,1048.5 1227.2,1051.7 1229,1052.1 1230.8,1049.4 1232.6,1051.9 1234.4,1051.8 1236.2,1053.5 1238,1047.4 1239.8,1052.6 1241.6,1049.4 1243.4,1048.8 1245.2,1053.8 1247,1047.8 1248.8,1052.1 1250.6,1052.3 1252.4,1050.5 1254.2,1050.3 1256,1052.6 1257.8,1049.3 1259.6,1050.2 1261.4,1053.2 1263.2,1049.8 1265,1049.5 1266.8,1049.6 1268.6,1050.9 1270.4,1052.5 1272.2,1048.9 1274,1051.1 1275.8,1052.4 1277.6,1051.2 1279.4,1047.3 1281.2,1053.2 1283,1045.7 1284.8,1053.2 1286.6,1047.8 1288.4,1050.3 1290.2,1050 1292,1049.6 1293.8,1050.6 1295.6,1049.4 1297.4,1052.9 1299.2,1048 1301,1048.7 1302.8,1051 1304.6,1048.7 1306.4,1050.4 1308.2,1049.1 1310,1050.2 1311.8,1050.1 1313.6,1050.6 1315.4,1050.7 1317.2,1049.4 1319,1048.7 1320.8,1048.7 1322.6,1048.3 1324.4,1052.3 1326.2,1047.5 1328,1049.1 1329.8,1049.8 1331.6,1050.1 1333.4,1050.6 1335.2,1048.5 1337,1046.8 1338.8,1050.8 1339.5,1048.2" fill="none" stroke="#7E2F8E" stroke-width="5.7" stroke-linejoin="round" stroke-linecap="round"/>
<path d="M287.6,921.8 289.4,922.8 291.2,922.2 293,921.5 294.8,921.4 296.6,922.7 298.4,921.1 300.2,919.5 302,920.4 303.8,919.8 305.6,919.9 307.4,918.9 309.2,918.4 311,918.1 312.8,918.5 314.6,918.1 316.4,917.5 318.2,916.9 320,917 321.8,915.9 323.6,916.8 325.4,916.4 327.2,915.2 329,915.3 330.8,915.3 332.6,914.1 334.4,914.7 336.2,913.2 338,913.1 339.8,911.5 341.6,911.4 343.4,910.7 345.2,908.1 347,909 348.8,905.8 350.6,906.5 352.4,905.4 354.2,903.7 356,903.3 357.8,902.4 359.6,900.5 361.4,898.6 363.2,899.4 365,898 366.8,897 368.6,897 370.4,897.3 372.2,897.1 374,899.1 375.8,900.9 377.6,901.5 379.4,904.1 381.2,908 383,913.7 384.8,919.9 386.6,925 388.4,930.4 390.2,936 392,942.4 393.8,947.1 395.6,952.4 397.4,956.7 399.2,958.6 401,963.2 402.8,964.8 404.6,967.4 406.4,971.4 408.2,974.5 410,979.5 411.8,983.8 413.6,989.5 415.4,993.2 417.2,998.7 419,1002.8 420.8,1006.5 422.6,1008.1 424.4,1009.7 426.2,1011.3 428,1015.5 429.8,1015.3 431.6,1018.4 433.4,1019.3 435.2,1020.7 437,1020.5 438.8,1022.9 440.6,1022.2 442.4,1022.8 444.2,1023.7 446,1024.4 447.8,1024.4 449.6,1025.5 451.4,1024.7 453.2,1026.1 455,1026.7 456.8,1025.8 458.6,1026.7 460.4,1026.7 462.2,1025.7 464,1028 465.8,1026.8 467.6,1027.8 469.4,1028.2 471.2,1028.7 473,1029.1 474.8,1028.6 476.6,1030.8 478.4,1031 480.2,1032.7 482,1034.3 483.8,1034.6 485.6,1037.7 487.4,1038.7 489.2,1039 491,1040 492.8,1043.3 494.6,1042.1 496.4,1043.1 498.2,1043.5 500,1043.9 501.8,1044.6 503.6,1045.5 505.4,1045.7 507.2,1045.9 509,1046.2 510.8,1047.4 512.6,1046.7 514.4,1047.3 516.2,1047.9 518,1048.1 519.8,1049.7 521.6,1048.6 523.4,1050.2 525.2,1049.8 527,1051 528.8,1050.3 530.6,1051 532.4,1050.5 534.2,1050.5 536,1052.6 537.8,1052.3 539.6,1051.4 541.4,1052.1 543.2,1052.5 545,1052.5 546.8,1054 548.6,1052.8 550.4,1054.1 552.2,1053.8 554,1053.5 555.8,1056 557.6,1053.9 559.4,1054.7 561.2,1056.6 563,1055.6 564.8,1055.6 566.6,1055.9 568.4,1056.2 570.2,1057 572,1058.1 573.8,1057.1 575.6,1059.2 577.4,1057.9 579.2,1059.7 581,1058.5 582.8,1060.2 584.6,1060.2 586.4,1060.5 588.2,1061.2 590,1061.2 591.8,1062.2 593.6,1063.9 595.4,1062.5 597.2,1064.5 599,1064.6 600.8,1064.6 602.6,1065.6 604.4,1065.3 606.2,1067.2 608,1067.5 609.8,1067.4 611.6,1067.9 613.4,1070.6 615.2,1068.5 617,1069.9 618.8,1071.1 620.6,1068.5 622.4,1073.1 624.2,1072.1 626,1072.6 627.8,1072.7 629.6,1073.7 631.4,1075.3 633.2,1075.5 635,1075.3 636.8,1075.8 638.6,1076.5 640.4,1076.8 642.2,1076.8 644,1078.8 645.8,1077.7 647.6,1078 649.4,1080.2 651.2,1079.6 653,1080.4 654.8,1080.8 656.6,1080.4 658.4,1081.9 660.2,1082 662,1081.7 663.8,1084.2 665.6,1084.3 667.4,1084.2 669.2,1085 671,1085 672.8,1085.6 674.6,1084.7 676.4,1086.7 678.2,1086.2 680,1086.3 681.8,1087.8 683.6,1087.1 685.4,1088.3 687.2,1089.4 689,1090 690.8,1088 692.6,1088.8 694.4,1091.6 696.2,1088.8 698,1091.5 699.8,1090.8 701.6,1091.4 703.4,1091.2 705.2,1090.9 707,1093.5 708.8,1091.9 710.6,1092.1 712.4,1093.8 714.2,1092.7 716,1096.2 717.8,1093.3 719.6,1093.2 721.4,1095 723.2,1094.4 725,1094.8 726.8,1095.2 728.6,1096.1 730.4,1096.6 732.2,1096.2 734,1096.4 735.8,1097.5 737.6,1098 739.4,1096.5 741.2,1099.4 743,1098.7 744.8,1096.6 746.6,1099.3 748.4,1098.6 750.2,1099.7 752,1100.6 753.8,1099.6 755.6,1098.5 757.4,1101 759.2,1100 761,1102.2 762.8,1099.6 764.6,1100.4 766.4,1101.4 768.2,1101 770,1100.2 771.8,1101.6 773.6,1101.2 775.4,1101.2 777.2,1101.4 779,1102.9 780.8,1102.1 782.6,1103.6 784.4,1100.6 786.2,1102.4 788,1102.3 789.8,1104.6 791.6,1101.4 793.4,1104.3 795.2,1099 797,1103.7 798.8,1105.9 800.6,1101 802.4,1104.4 804.2,1101.6 806,1102.3 807.8,1104.7 809.6,1103.2 811.4,1103.4 813.2,1105.7 815,1101.3 816.8,1104 818.6,1105 820.4,1104.4 822.2,1102.2 824,1105 825.8,1103.7 827.6,1102.5 829.4,1105.7 831.2,1103.2 833,1103.9 834.8,1104.1 836.6,1105.1 838.4,1101.7 840.2,1105.7 842,1103.5 843.8,1103.2 845.6,1104.7 847.4,1104.6 849.2,1104.6 851,1103.3 852.8,1105.5 854.6,1104.1 856.4,1103.2 858.2,1105.5 860,1105 861.8,1103.5 863.6,1107.8 865.4,1106.2 867.2,1100.7 869,1106.3 870.8,1103.4 872.6,1103.9 874.4,1106.9 876.2,1103.8 878,1104.5 879.8,1105.7 881.6,1104 883.4,1103.2 885.2,1105.3 887,1106.7 888.8,1103.9 890.6,1105.6 892.4,1104.1 894.2,1102.9 896,1104.3 897.8,1106.6 899.6,1105 901.4,1106.7 903.2,1104.7 905,1103.9 906.8,1106.3 908.6,1101.1 910.4,1105.5 912.2,1104.6 914,1102.3 915.8,1106.6 917.6,1103.3 919.4,1105.5 921.2,1106 923,1102.9 924.8,1104.9 926.6,1106.1 928.4,1102.6 930.2,1107.4 932,1103.7 933.8,1102.7 935.6,1105.7 937.4,1106.6 939.2,1102.5 941,1106.7 942.8,1103.2 944.6,1104 946.4,1105.7 948.2,1106.2 950,1102.7 951.8,1103.3 953.6,1106.8 955.4,1105.5 957.2,1105.5 959,1106.8 960.8,1104.4 962.6,1104 964.4,1104.9 966.2,1107.2 968,1103.2 969.8,1105.3 971.6,1105.4 973.4,1105.7 975.2,1102.8 977,1105 978.8,1104 980.6,1107.6 982.4,1103.4 984.2,1104.2 986,1106.7 987.8,1103.4 989.6,1105.5 991.4,1106.7 993.2,1105.1 995,1106 996.8,1102.2 998.6,1104.4 1000.4,1105.3 1002.2,1105 1004,1102.2 1005.8,1105.5 1007.6,1106.7 1009.4,1103.2 1011.2,1103.2 1013,1104.3 1014.8,1102.6 1016.6,1107 1018.4,1104.3 1020.2,1100.9 1022,1106.6 1023.8,1104.6 1025.6,1104.9 1027.4,1100.4 1029.2,1107.2 1031,1104.2 1032.8,1102.1 1034.6,1102 1036.4,1102.2 1038.2,1101.4 1040,1106.4 1041.8,1098.6 1043.6,1105.5 1045.4,1104.4 1047.2,1102.7 1049,1104.2 1050.8,1102.3 1052.6,1101.9 1054.4,1102.7 1056.2,1101.8 1058,1103.4 1059.8,1101.8 1061.6,1105 1063.4,1100.1 1065.2,1103.5 1067,1103.3 1068.8,1102.6 1070.6,1103.7 1072.4,1099.4 1074.2,1102.1 1076,1101.9 1077.8,1104.5 1079.6,1101.4 1081.4,1101.8 1083.2,1103.6 1085,1101.9 1086.8,1099.5 1088.6,1103.3 1090.4,1102.4 1092.2,1103.9 1094,1101.3 1095.8,1101.9 1097.6,1101.9 1099.4,1100 1101.2,1100.4 1103,1101.6 1104.8,1104.4 1106.6,1100.3 1108.4,1101.4 1110.2,1097.8 1112,1103.3 1113.8,1101.1 1115.6,1100 1117.4,1101.1 1119.2,1103 1121,1100.2 1122.8,1099.4 1124.6,1101.7 1126.4,1101.2 1128.2,1100.3 1130,1101.7 1131.8,1102.5 1133.6,1100.6 1135.4,1097.6 1137.2,1100.8 1139,1101.2 1140.8,1101.8 1142.6,1101.7 1144.4,1100.2 1146.2,1099.8 1148,1102.4 1149.8,1102.1 1151.6,1097.2 1153.4,1100.8 1155.2,1101 1157,1100.3 1158.8,1100.7 1160.6,1101.4 1162.4,1099.3 1164.2,1098.9 1166,1102.3 1167.8,1099.5 1169.6,1100.9 1171.4,1096.5 1173.2,1100.6 1175,1103.7 1176.8,1094.8 1178.6,1097.1 1180.4,1100.9 1182.2,1101.1 1184,1096.9 1185.8,1100.3 1187.6,1100 1189.4,1099.4 1191.2,1100.4 1193,1100.7 1194.8,1096.8 1196.6,1098.5 1198.4,1101.7 1200.2,1099.7 1202,1097.5 1203.8,1099.7 1205.6,1099.7 1207.4,1100.7 1209.2,1099.1 1211,1098.1 1212.8,1099.8 1214.6,1097.2 1216.4,1099.3 1218.2,1100.4 1220,1097.7 1221.8,1099.5 1223.6,1099.9 1225.4,1096.9 1227.2,1101.6 1229,1094.3 1230.8,1099 1232.6,1100.7 1234.4,1099 1236.2,1096.5 1238,1096.5 1239.8,1100.7 1241.6,1098.1 1243.4,1096.7 1245.2,1099.2 1247,1099.1 1248.8,1095.7 1250.6,1097 1252.4,1099.8 1254.2,1099.4 1256,1102.4 1257.8,1095.6 1259.6,1100.3 1261.4,1097 1263.2,1097.9 1265,1098.2 1266.8,1098.3 1268.6,1096.2 1270.4,1098 1272.2,1097.5 1274,1094.9 1275.8,1101 1277.6,1096.3 1279.4,1095.2 1281.2,1098.9 1283,1094.5 1284.8,1097.3 1286.6,1097.5 1288.4,1098.4 1290.2,1097.4 1292,1096.2 1293.8,1096.9 1295.6,1096.2 1297.4,1098.5 1299.2,1096.2 1301,1096.7 1302.8,1096.1 1304.6,1096.1 1306.4,1097.9 1308.2,1096 1310,1095.7 1311.8,1094.3 1313.6,1097.9 1315.4,1097 1317.2,1093.6 1319,1093.7 1320.8,1098.2 1322.6,1095.5 1324.4,1095.9 1326.2,1096.3 1328,1097 1329.8,1093.1 1331.6,1095.4 1333.4,1093.9 1335.2,1097.1 1337,1094.6 1338.8,1094.6 1339.5,1095.8" fill="none" stroke="#EDB120" stroke-width="5.7" stroke-linejoin="round" stroke-linecap="round"/>
<path d="M287.6,1001.3 289.4,1000 291.2,1000.4 293,999.9 294.8,1000.1 296.6,999.5 298.4,1000.4 300.2,997.9 302,999.9 303.8,998.1 305.6,998.6 307.4,999.2 309.2,996.9 311,998.1 312.8,996.9 314.6,998.1 316.4,996.3 318.2,997.5 320,996.1 321.8,997.4 323.6,994.4 325.4,997.8 327.2,995.2 329,994.5 330.8,994.7 332.6,995.6 334.4,994.3 336.2,994.1 338,994.8 339.8,993.1 341.6,992.2 343.4,993.8 345.2,991.8 347,991.5 348.8,990.9 350.6,990 352.4,988.9 354.2,988.7 356,986.7 357.8,987.2 359.6,984.9 361.4,985.4 363.2,983.4 365,983.1 366.8,981.4 368.6,980.6 370.4,979.2 372.2,978.3 374,977.5 375.8,975.2 377.6,974.3 379.4,971.7 381.2,971.8 383,969.5 384.8,967.5 386.6,965.9 388.4,964.3 390.2,962.2 392,961.8 393.8,961.2 395.6,961.6 397.4,962.5 399.2,965.5 401,966.6 402.8,970.3 404.6,975.3 406.4,983 408.2,991.7 410,999.7 411.8,1007.2 413.6,1012.9 415.4,1020.9 417.2,1026.4 419,1031.5 420.8,1036.4 422.6,1042.1 424.4,1045.4 426.2,1050.3 428,1056.1 429.8,1058.7 431.6,1061.8 433.4,1064.6 435.2,1065.5 437,1065.9 438.8,1068.3 440.6,1070.4 442.4,1070.8 444.2,1073.3 446,1073.8 447.8,1074.4 449.6,1075.6 451.4,1075.3 453.2,1077.2 455,1076.8 456.8,1078.2 458.6,1078.5 460.4,1079.6 462.2,1080.1 464,1080.4 465.8,1080.4 467.6,1082.5 469.4,1082.2 471.2,1081.6 473,1084.3 474.8,1083.2 476.6,1084.4 478.4,1085 480.2,1085.8 482,1085.4 483.8,1086.1 485.6,1086.9 487.4,1087.5 489.2,1086.8 491,1088.2 492.8,1088.6 494.6,1088.7 496.4,1089.5 498.2,1090 500,1090.2 501.8,1091.4 503.6,1090.5 505.4,1092 507.2,1092.1 509,1093.3 510.8,1093.7 512.6,1092.4 514.4,1094.1 516.2,1094.1 518,1095 519.8,1095.3 521.6,1095.6 523.4,1096 525.2,1096.8 527,1096.2 528.8,1099.2 530.6,1097.2 532.4,1097.9 534.2,1100.1 536,1098.9 537.8,1101 539.6,1098.7 541.4,1101.1 543.2,1100.2 545,1101.4 546.8,1100.9 548.6,1101.8 550.4,1101.6 552.2,1102.1 554,1103.6 555.8,1102.1 557.6,1103.6 559.4,1102.5 561.2,1104.1 563,1102.6 564.8,1103.8 566.6,1105.1 568.4,1104 570.2,1103.4 572,1105.6 573.8,1104.7 575.6,1106.1 577.4,1105.5 579.2,1106.4 581,1105.9 582.8,1105.8 584.6,1105.7 586.4,1106.8 588.2,1107 590,1105.8 591.8,1109.2 593.6,1106.5 595.4,1109.5 597.2,1108.6 599,1110.2 600.8,1108.7 602.6,1109.1 604.4,1110.3 606.2,1111.4 608,1112.1 609.8,1110.6 611.6,1113.8 613.4,1113.8 615.2,1112.1 617,1113.7 618.8,1114.5 620.6,1116.5 622.4,1118.2 624.2,1116.1 626,1117.1 627.8,1120.5 629.6,1117.1 631.4,1120.1 633.2,1121.9 635,1121.5 636.8,1120.7 638.6,1124.2 640.4,1122.5 642.2,1124.9 644,1125 645.8,1126.1 647.6,1126.3 649.4,1125.4 651.2,1127.5 653,1128.3 654.8,1128.2 656.6,1129.5 658.4,1129.9 660.2,1131 662,1131.8 663.8,1130.4 665.6,1132.1 667.4,1129.7 669.2,1133.4 671,1133.1 672.8,1133.3 674.6,1133.4 676.4,1134.6 678.2,1133.6 680,1134.7 681.8,1135.4 683.6,1136.8 685.4,1135.4 687.2,1135.2 689,1135.7 690.8,1137.8 692.6,1138.5 694.4,1137.1 696.2,1138.2 698,1139 699.8,1138.2 701.6,1139.5 703.4,1137.8 705.2,1140.6 707,1139.3 708.8,1139.8 710.6,1138.9 712.4,1139.6 714.2,1140.5 716,1140.8 717.8,1138.9 719.6,1140.5 721.4,1141.5 723.2,1142.5 725,1141.4 726.8,1143.4 728.6,1140.5 730.4,1142.1 732.2,1143.9 734,1142.7 735.8,1144.7 737.6,1142.7 739.4,1144 741.2,1143.3 743,1144.8 744.8,1143.9 746.6,1144.2 748.4,1144.9 750.2,1144.4 752,1144.8 753.8,1145.7 755.6,1146.7 757.4,1145.2 759.2,1146.7 761,1145.2 762.8,1145.2 764.6,1147.4 766.4,1145 768.2,1146.1 770,1147.5 771.8,1144.4 773.6,1147.7 775.4,1147.1 777.2,1149.8 779,1146.9 780.8,1147 782.6,1146.5 784.4,1150.5 786.2,1146.5 788,1146.4 789.8,1151.5 791.6,1147.8 793.4,1148.3 795.2,1149.8 797,1148.1 798.8,1149.8 800.6,1148.6 802.4,1150.5 804.2,1149.9 806,1148.6 807.8,1148.3 809.6,1150 811.4,1152.3 813.2,1146.9 815,1151.3 816.8,1149.3 818.6,1150.5 820.4,1150.3 822.2,1150.9 824,1150.5 825.8,1152.2 827.6,1149.7 829.4,1150.1 831.2,1150.7 833,1151.8 834.8,1148.9 836.6,1153.2 838.4,1152.3 840.2,1148.9 842,1153.4 843.8,1153.1 845.6,1151.7 847.4,1151.4 849.2,1150.8 851,1153.6 852.8,1151.7 854.6,1152.9 856.4,1152.6 858.2,1152.1 860,1151.9 861.8,1152.8 863.6,1151.2 865.4,1154.2 867.2,1153.4 869,1151.6 870.8,1151.8 872.6,1153.6 874.4,1151.6 876.2,1153.6 878,1153.6 879.8,1151.5 881.6,1150.2 883.4,1156.1 885.2,1152.2 887,1151.9 888.8,1151.8 890.6,1153.3 892.4,1154.7 894.2,1150.3 896,1153.9 897.8,1153.6 899.6,1152.2 901.4,1151.4 903.2,1156.8 905,1152.3 906.8,1152.1 908.6,1153.1 910.4,1153 912.2,1151.8 914,1154.6 915.8,1153.8 917.6,1151.5 919.4,1152.9 921.2,1153.4 923,1151.7 924.8,1153.2 926.6,1153.7 928.4,1149.1 930.2,1154.2 932,1153.7 933.8,1150.3 935.6,1153.3 937.4,1158.2 939.2,1150.8 941,1153.4 942.8,1151.7 944.6,1154.2 946.4,1151.4 948.2,1149.9 950,1156.4 951.8,1151 953.6,1152.4 955.4,1154.5 957.2,1152.4 959,1153.7 960.8,1154.6 962.6,1152.6 964.4,1151.9 966.2,1152 968,1152.9 969.8,1153 971.6,1153.4 973.4,1152.6 975.2,1152.5 977,1152.9 978.8,1152.5 980.6,1153.6 982.4,1153.2 984.2,1153.3 986,1153.5 987.8,1151.6 989.6,1154.2 991.4,1152 993.2,1152.5 995,1154.2 996.8,1152.3 998.6,1149.5 1000.4,1153.1 1002.2,1154 1004,1149.7 1005.8,1151.6 1007.6,1152.4 1009.4,1155.4 1011.2,1149.5 1013,1153.3 1014.8,1153.2 1016.6,1152.3 1018.4,1151.1 1020.2,1149.9 1022,1156.2 1023.8,1152.3 1025.6,1147.8 1027.4,1155.9 1029.2,1151.6 1031,1151.2 1032.8,1152.2 1034.6,1151.5 1036.4,1153.5 1038.2,1150.5 1040,1151.6 1041.8,1152.1 1043.6,1148.2 1045.4,1152.1 1047.2,1150.9 1049,1150.2 1050.8,1154.1 1052.6,1150 1054.4,1149.2 1056.2,1151.2 1058,1152 1059.8,1150.3 1061.6,1150.4 1063.4,1152.8 1065.2,1149.6 1067,1153.4 1068.8,1148.1 1070.6,1151.6 1072.4,1150 1074.2,1150.8 1076,1151.4 1077.8,1151.7 1079.6,1149.8 1081.4,1149.5 1083.2,1149 1085,1149.1 1086.8,1153.1 1088.6,1149.6 1090.4,1151.6 1092.2,1150.4 1094,1148.6 1095.8,1150.6 1097.6,1151.3 1099.4,1149.7 1101.2,1148.6 1103,1150.8 1104.8,1148.1 1106.6,1149.6 1108.4,1151.8 1110.2,1148.2 1112,1146.4 1113.8,1150.8 1115.6,1149.4 1117.4,1151.9 1119.2,1146.2 1121,1151.3 1122.8,1148.9 1124.6,1150 1126.4,1149.3 1128.2,1149.4 1130,1147.8 1131.8,1150.8 1133.6,1152 1135.4,1146.3 1137.2,1148.5 1139,1148.6 1140.8,1146.2 1142.6,1150.9 1144.4,1146.5 1146.2,1149.7 1148,1148.6 1149.8,1147.3 1151.6,1148.7 1153.4,1146.7 1155.2,1149.1 1157,1146.3 1158.8,1150.6 1160.6,1148.8 1162.4,1146 1164.2,1145 1166,1148.9 1167.8,1149.6 1169.6,1146.3 1171.4,1147.8 1173.2,1147.9 1175,1150 1176.8,1146.4 1178.6,1146.7 1180.4,1147.7 1182.2,1148.8 1184,1146.7 1185.8,1146.9 1187.6,1147.9 1189.4,1147.4 1191.2,1149.3 1193,1147.4 1194.8,1146.8 1196.6,1148.3 1198.4,1147 1200.2,1148 1202,1147.4 1203.8,1147.4 1205.6,1146.7 1207.4,1148.2 1209.2,1146.5 1211,1147.8 1212.8,1146 1214.6,1147.9 1216.4,1147.3 1218.2,1145.8 1220,1145 1221.8,1145.3 1223.6,1148.4 1225.4,1144.5 1227.2,1147.3 1229,1147.5 1230.8,1147.2 1232.6,1146.6 1234.4,1147.1 1236.2,1147.1 1238,1146.5 1239.8,1146.1 1241.6,1145.3 1243.4,1147.1 1245.2,1145.7 1247,1145.9 1248.8,1144.2 1250.6,1147.8 1252.4,1147.1 1254.2,1144.2 1256,1147.4 1257.8,1144.7 1259.6,1144.3 1261.4,1147.8 1263.2,1145.3 1265,1146.4 1266.8,1145.5 1268.6,1145.1 1270.4,1144.8 1272.2,1144.6 1274,1147.8 1275.8,1144.8 1277.6,1146.7 1279.4,1145.9 1281.2,1143.5 1283,1143.1 1284.8,1142.8 1286.6,1147.8 1288.4,1144.6 1290.2,1144.2 1292,1144.5 1293.8,1146.6 1295.6,1142 1297.4,1145.4 1299.2,1142.2 1301,1144.5 1302.8,1145.4 1304.6,1144.5 1306.4,1143.2 1308.2,1145.3 1310,1145.1 1311.8,1143.2 1313.6,1140.2 1315.4,1149.4 1317.2,1141.4 1319,1144.8 1320.8,1143 1322.6,1141.8 1324.4,1144.7 1326.2,1142.9 1328,1144.5 1329.8,1143.4 1331.6,1147 1333.4,1143.9 1335.2,1140.5 1337,1143.1 1338.8,1143.8 1339.5,1140" fill="none" stroke="#D95319" stroke-width="5.7" stroke-linejoin="round" stroke-linecap="round"/>
<path d="M287.6,1099.5 289.4,1105.6 291.2,1109.9 293,1114.2 294.8,1117.5 296.6,1120.2 298.4,1122.9 300.2,1125.3 302,1127.4 303.8,1128.7 305.6,1130.4 307.4,1131.3 309.2,1132.6 311,1135.1 312.8,1134.1 314.6,1135.8 316.4,1136.5 318.2,1137.3 320,1137.8 321.8,1138.5 323.6,1139.6 325.4,1139.4 327.2,1139.4 329,1140.2 330.8,1138.9 332.6,1140.3 334.4,1137.7 336.2,1140.6 338,1138.1 339.8,1138.8 341.6,1139.2 343.4,1138.6 345.2,1136.2 347,1136.8 348.8,1136.6 350.6,1136.3 352.4,1138.6 354.2,1134.9 356,1133.9 357.8,1133.7 359.6,1131.4 361.4,1132.7 363.2,1130.3 365,1129.6 366.8,1129.1 368.6,1126.2 370.4,1127.1 372.2,1125.8 374,1123.5 375.8,1122.6 377.6,1120.9 379.4,1119.1 381.2,1118.3 383,1117.1 384.8,1115.2 386.6,1112.8 388.4,1114.1 390.2,1109.6 392,1108.7 393.8,1106.7 395.6,1105 397.4,1103.5 399.2,1100.8 401,1099 402.8,1095.9 404.6,1092.8 406.4,1090.8 408.2,1087 410,1082.7 411.8,1080 413.6,1074.5 415.4,1071.4 417.2,1067.6 419,1062.3 420.8,1058.5 422.6,1053.1 424.4,1049.1 426.2,1043 428,1036.5 429.8,1029.3 431.6,1021.9 433.4,1011.7 435.2,1003.7 437,998.9 438.8,1001.2 440.6,1007.3 442.4,1012.3 444.2,1028.6 446,1048.6 447.8,1065 449.6,1078.7 451.4,1091.6 453.2,1100.8 455,1104.4 456.8,1108 458.6,1110.3 460.4,1111.9 462.2,1113.6 464,1115.1 465.8,1116.3 467.6,1118.4 469.4,1118.8 471.2,1119.6 473,1119.7 474.8,1120.5 476.6,1121.3 478.4,1121.4 480.2,1123 482,1124.6 483.8,1123.6 485.6,1121.5 487.4,1123 489.2,1123.6 491,1123.1 492.8,1122.7 494.6,1122 496.4,1123.3 498.2,1121.7 500,1122.7 501.8,1122.1 503.6,1121.5 505.4,1119.7 507.2,1122.3 509,1120 510.8,1121.1 512.6,1119 514.4,1119.6 516.2,1118.7 518,1118.2 519.8,1118.4 521.6,1117.6 523.4,1116.5 525.2,1118.2 527,1119.4 528.8,1116.6 530.6,1114.3 532.4,1114.5 534.2,1112.2 536,1113.2 537.8,1112.6 539.6,1110.9 541.4,1110 543.2,1109.3 545,1108.4 546.8,1105.7 548.6,1103.8 550.4,1102.8 552.2,1100.6 554,1097.8 555.8,1095.2 557.6,1094.1 559.4,1088.5 561.2,1087.6 563,1083.7 564.8,1080.1 566.6,1074.2 568.4,1070.2 570.2,1070.3 572,1069.3 573.8,1077 575.6,1080.7 577.4,1087.8 579.2,1091.7 581,1098.8 582.8,1108.3 584.6,1114.1 586.4,1116.1 588.2,1116.5 590,1118.6 591.8,1117.8 593.6,1118.8 595.4,1119.8 597.2,1119.1 599,1119.7 600.8,1118.5 602.6,1118.2 604.4,1121.2 606.2,1119.8 608,1117.9 609.8,1115.7 611.6,1115.4 613.4,1114.7 615.2,1111.7 617,1110.1 618.8,1111.1 620.6,1113.7 622.4,1115 624.2,1120.7 626,1124.5 627.8,1130.1 629.6,1132.9 631.4,1137.5 633.2,1138.5 635,1141.3 636.8,1146.9 638.6,1147 640.4,1149.7 642.2,1152.6 644,1149.6 645.8,1151.2 647.6,1154.3 649.4,1157.8 651.2,1155.6 653,1156.3 654.8,1158.7 656.6,1158.1 658.4,1158.5 660.2,1159.5 662,1162.6 663.8,1162 665.6,1163.2 667.4,1164.2 669.2,1164.7 671,1166.3 672.8,1165.9 674.6,1168.7 676.4,1167.5 678.2,1169.2 680,1171.1 681.8,1168.9 683.6,1172.9 685.4,1171.8 687.2,1171.1 689,1175.7 690.8,1174.4 692.6,1173.5 694.4,1175.4 696.2,1177.4 698,1175.6 699.8,1175.4 701.6,1178.1 703.4,1177.1 705.2,1175.7 707,1178.3 708.8,1177.9 710.6,1177.7 712.4,1178.2 714.2,1179 716,1180.9 717.8,1177.1 719.6,1179.6 721.4,1179.1 723.2,1178.1 725,1181.4 726.8,1179.9 728.6,1181 730.4,1179.8 732.2,1181.7 734,1180.8 735.8,1183.5 737.6,1182.5 739.4,1180.5 741.2,1182.1 743,1179.9 744.8,1182.2 746.6,1179.2 748.4,1182.9 750.2,1183.5 752,1180.1 753.8,1183.3 755.6,1183.4 757.4,1184.3 759.2,1179 761,1185.6 762.8,1183.3 764.6,1182.1 766.4,1181.4 768.2,1184.6 770,1181.4 771.8,1184.7 773.6,1182.9 775.4,1185.6 777.2,1181.3 779,1181.5 780.8,1183.7 782.6,1182.2 784.4,1184.4 786.2,1185 788,1186.6 789.8,1182.6 791.6,1184.4 793.4,1183.8 795.2,1183.8 797,1184.4 798.8,1187 800.6,1182.9 802.4,1186.6 804.2,1185.3 806,1181.9 807.8,1186 809.6,1184.1 811.4,1184.2 813.2,1186.9 815,1183.3 816.8,1186.8 818.6,1183.1 820.4,1185.1 822.2,1180.3 824,1184.5 825.8,1187 827.6,1185.3 829.4,1182.9 831.2,1184.7 833,1187.5 834.8,1185.9 836.6,1186.7 838.4,1182.5 840.2,1186.7 842,1186 843.8,1188.8 845.6,1186.2 847.4,1183.8 849.2,1184.5 851,1183.9 852.8,1183.8 854.6,1188.6 856.4,1185.3 858.2,1188.4 860,1186.4 861.8,1187.5 863.6,1183 865.4,1186.7 867.2,1188.8 869,1183.8 870.8,1187.8 872.6,1184 874.4,1190.9 876.2,1186.7 878,1184.6 879.8,1185.4 881.6,1183.4 883.4,1184.5 885.2,1186.7 887,1186.9 888.8,1189 890.6,1183.4 892.4,1185.4 894.2,1186.9 896,1185.3 897.8,1183.1 899.6,1188.5 901.4,1187.2 903.2,1185 905,1188.5 906.8,1184.9 908.6,1187.3 910.4,1185.6 912.2,1185.9 914,1185 915.8,1189.1 917.6,1188.2 919.4,1182.1 921.2,1187 923,1187.7 924.8,1184.7 926.6,1184.5 928.4,1190.7 930.2,1181.7 932,1191.4 933.8,1181.4 935.6,1187.4 937.4,1187.4 939.2,1181.2 941,1187.1 942.8,1183.6 944.6,1185.5 946.4,1186.3 948.2,1190.9 950,1184.4 951.8,1188 953.6,1183.7 955.4,1189.8 957.2,1184.8 959,1183.7 960.8,1188.8 962.6,1187.9 964.4,1185.8 966.2,1189.8 968,1182.4 969.8,1187.5 971.6,1185.4 973.4,1188 975.2,1187.6 977,1185.7 978.8,1183 980.6,1191.3 982.4,1181.3 984.2,1189.7 986,1185.7 987.8,1185.8 989.6,1188 991.4,1185.6 993.2,1186 995,1188.1 996.8,1183.7 998.6,1189.3 1000.4,1185.5 1002.2,1182.2 1004,1186.3 1005.8,1181.9 1007.6,1185.2 1009.4,1185.8 1011.2,1183.1 1013,1188.3 1014.8,1191.5 1016.6,1182 1018.4,1185.1 1020.2,1186.5 1022,1184.1 1023.8,1189.1 1025.6,1185.6 1027.4,1183.6 1029.2,1188.3 1031,1182.3 1032.8,1182.3 1034.6,1187 1036.4,1187.7 1038.2,1186.9 1040,1183.5 1041.8,1185.1 1043.6,1186.4 1045.4,1185 1047.2,1185.2 1049,1186.4 1050.8,1184.8 1052.6,1183.1 1054.4,1184.8 1056.2,1182.9 1058,1189 1059.8,1180 1061.6,1184.4 1063.4,1184.8 1065.2,1188 1067,1182.5 1068.8,1181.8 1070.6,1188.6 1072.4,1181.1 1074.2,1185.4 1076,1182.4 1077.8,1186.1 1079.6,1185.4 1081.4,1180.9 1083.2,1184.2 1085,1182.4 1086.8,1184.1 1088.6,1183.4 1090.4,1185.2 1092.2,1186.4 1094,1182.9 1095.8,1182.1 1097.6,1180.5 1099.4,1188 1101.2,1181.5 1103,1181.4 1104.8,1186 1106.6,1181.7 1108.4,1179.7 1110.2,1184.8 1112,1182 1113.8,1186.2 1115.6,1182.4 1117.4,1185.3 1119.2,1181.3 1121,1183.2 1122.8,1178.3 1124.6,1183.2 1126.4,1181.4 1128.2,1182.3 1130,1186.6 1131.8,1179.5 1133.6,1184 1135.4,1184.1 1137.2,1183.4 1139,1182.4 1140.8,1183.9 1142.6,1184.2 1144.4,1181.1 1146.2,1179.3 1148,1182.9 1149.8,1181.8 1151.6,1180.4 1153.4,1181.6 1155.2,1179.6 1157,1184.7 1158.8,1181.9 1160.6,1183.4 1162.4,1176.4 1164.2,1182.7 1166,1178.3 1167.8,1182.3 1169.6,1179.2 1171.4,1182.6 1173.2,1181.7 1175,1184.6 1176.8,1181.9 1178.6,1178.5 1180.4,1184.2 1182.2,1182 1184,1179.6 1185.8,1179.2 1187.6,1183.1 1189.4,1177.1 1191.2,1182 1193,1182.9 1194.8,1178.4 1196.6,1182.2 1198.4,1182.4 1200.2,1180.5 1202,1178.1 1203.8,1181.9 1205.6,1181.3 1207.4,1184.9 1209.2,1176.6 1211,1181.6 1212.8,1175.7 1214.6,1177.9 1216.4,1182 1218.2,1182.5 1220,1177.1 1221.8,1181.4 1223.6,1178 1225.4,1178.2 1227.2,1179.9 1229,1182.2 1230.8,1175.9 1232.6,1180.8 1234.4,1175.8 1236.2,1175 1238,1178.6 1239.8,1182.1 1241.6,1175.9 1243.4,1177.9 1245.2,1181.3 1247,1181.1 1248.8,1179.7 1250.6,1182.6 1252.4,1177.1 1254.2,1177.4 1256,1185.3 1257.8,1176.5 1259.6,1176.8 1261.4,1181.1 1263.2,1178.2 1265,1179.6 1266.8,1182.7 1268.6,1178.8 1270.4,1176.8 1272.2,1173.9 1274,1180.9 1275.8,1178.6 1277.6,1184.8 1279.4,1175.1 1281.2,1179.4 1283,1180.3 1284.8,1182.6 1286.6,1178.6 1288.4,1175.8 1290.2,1181.5 1292,1178.9 1293.8,1176.7 1295.6,1179.9 1297.4,1179.2 1299.2,1178.7 1301,1182.2 1302.8,1176.9 1304.6,1176.7 1306.4,1180 1308.2,1181.4 1310,1173 1311.8,1182.4 1313.6,1175.5 1315.4,1181.2 1317.2,1180.7 1319,1179.9 1320.8,1177.7 1322.6,1178 1324.4,1177.7 1326.2,1181.5 1328,1180.1 1329.8,1181.6 1331.6,1177.4 1333.4,1177.4 1335.2,1175.2 1337,1182.6 1338.8,1177.7 1339.5,1176.8" fill="none" stroke="#0072BD" stroke-width="5.7" stroke-linejoin="round" stroke-linecap="round"/>
</g>
<polygon points="758,766 803.6,752.4 922.5,752.4 922.5,878.8 875.6,892.4 758,892.4" fill="#00C0FF"/>
<path d="M758,766L875.6,766M875.6,766L875.6,892.4M758,766L758,892.4M758,892.4L875.6,892.4M758,766L803.6,752.4M803.6,752.4L922.5,752.4M922.5,752.4L922.5,878.8M875.6,766L922.5,752.4M875.6,892.4L922.5,878.8M803.6,752.4L803.6,846.8M758,892.4L803.6,878.8" stroke="#14374a" stroke-width="1.6" fill="none"/>
<path d="M758,766.8L789.2,778.8M803.6,752.4L789.2,778.8M803.6,752.4L806,780.4M839.6,756.4L873.2,766.8M873.2,766.8L858.8,791.6M873.2,766.8L888.4,775.6M822,789.2L789.2,778.8M822,789.2L806,780.4M822,789.2L818.8,809.2M858.8,791.6L860.4,817.2M858.8,791.6L888.4,775.6M858.8,791.6L859.6,805.2M778,825.2L777.2,811.6M814,829.2L798.8,855.6M814,829.2L818.8,809.2M814,829.2L830.8,838.8M860.4,817.2L859.6,805.2M860.4,817.2L848.4,840.4M860.4,817.2L866.8,843.6M898.8,825.2L882,850.8M898.8,825.2L901.2,803.6M798.8,855.6L805.2,880.4M798.8,855.6L801.2,868.4M882,850.8L848.4,840.4M882,850.8L866.8,843.6M882,850.8L879.6,871.6M805.2,880.4L835.6,876.4M805.2,880.4L801.2,868.4M843.6,887.6L875.6,889.2M843.6,887.6L842.8,866.8M843.6,887.6L835.6,876.4M875.6,889.2L879.6,871.6M789.2,778.8L806,780.4M789.2,778.8L777.2,811.6M806,780.4L818.8,809.2M888.4,775.6L901.2,803.6M818.8,809.2L830.8,838.8M830.8,838.8L848.4,840.4M830.8,838.8L842.8,866.8M848.4,840.4L866.8,843.6M848.4,840.4L842.8,866.8M866.8,843.6L842.8,866.8M866.8,843.6L879.6,871.6M835.6,876.4L801.2,868.4" stroke="#1a5068" stroke-width="0.8" fill="none" opacity="0.8"/>
<circle cx="789.2" cy="778.8" r="4" fill="#FF9A00" stroke="#e06000" stroke-width="0.5"/>
<circle cx="806" cy="780.4" r="4" fill="#FF9A00" stroke="#e06000" stroke-width="0.5"/>
<circle cx="888.4" cy="775.6" r="4" fill="#FF9A00" stroke="#e06000" stroke-width="0.5"/>
<circle cx="901.2" cy="803.6" r="4" fill="#FF9A00" stroke="#e06000" stroke-width="0.5"/>
<circle cx="777.2" cy="811.6" r="4" fill="#FF9A00" stroke="#e06000" stroke-width="0.5"/>
<circle cx="818.8" cy="809.2" r="4" fill="#FF9A00" stroke="#e06000" stroke-width="0.5"/>
<circle cx="859.6" cy="805.2" r="4" fill="#FF9A00" stroke="#e06000" stroke-width="0.5"/>
<circle cx="830.8" cy="838.8" r="4" fill="#FF9A00" stroke="#e06000" stroke-width="0.5"/>
<circle cx="848.4" cy="840.4" r="4" fill="#FF9A00" stroke="#e06000" stroke-width="0.5"/>
<circle cx="866.8" cy="843.6" r="4" fill="#FF9A00" stroke="#e06000" stroke-width="0.5"/>
<circle cx="842.8" cy="866.8" r="4" fill="#FF9A00" stroke="#e06000" stroke-width="0.5"/>
<circle cx="879.6" cy="871.6" r="4" fill="#FF9A00" stroke="#e06000" stroke-width="0.5"/>
<circle cx="835.6" cy="876.4" r="4" fill="#FF9A00" stroke="#e06000" stroke-width="0.5"/>
<circle cx="801.2" cy="868.4" r="4" fill="#FF9A00" stroke="#e06000" stroke-width="0.5"/>
<use href="#mic2" x="748.2" y="757" width="19.6" height="19.6"/>
<use href="#mic2" x="793.8" y="742.6" width="19.6" height="19.6"/>
<use href="#mic2" x="829.8" y="746.6" width="19.6" height="19.6"/>
<use href="#mic2" x="863.4" y="757" width="19.6" height="19.6"/>
<use href="#mic2" x="911.4" y="742.6" width="19.6" height="19.6"/>
<use href="#mic2" x="812.2" y="779.4" width="19.6" height="19.6"/>
<use href="#mic2" x="849" y="781.8" width="19.6" height="19.6"/>
<use href="#mic2" x="768.2" y="815.4" width="19.6" height="19.6"/>
<use href="#mic2" x="804.2" y="819.4" width="19.6" height="19.6"/>
<use href="#mic2" x="850.6" y="807.4" width="19.6" height="19.6"/>
<use href="#mic2" x="889" y="815.4" width="19.6" height="19.6"/>
<use href="#mic2" x="789" y="845.8" width="19.6" height="19.6"/>
<use href="#mic2" x="872.2" y="841" width="19.6" height="19.6"/>
<use href="#mic2" x="795.4" y="870.6" width="19.6" height="19.6"/>
<use href="#mic2" x="749" y="881.8" width="19.6" height="19.6"/>
<use href="#mic2" x="833.8" y="877.8" width="19.6" height="19.6"/>
<use href="#mic2" x="865.8" y="879.4" width="19.6" height="19.6"/>
<use href="#mic2" x="911.4" y="869" width="19.6" height="19.6"/>
<rect x="941.5" y="718.2" width="399.4" height="370.6" fill="#fff" stroke="#5a5a5a" stroke-width="1.8"/>
<path d="M951.4,748H1041.8" stroke="#D95319" stroke-width="5.6"/>
<text x="1048.5" y="754" class="lg"><tspan class="dl">&#948;</tspan><tspan> 40; 5%</tspan><tspan class="sb" dy="14.5">w</tspan><tspan dy="-14.5" dx="2"> squalane</tspan></text>
<path d="M951.4,799.3H1041.8" stroke="#EDB120" stroke-width="5.6"/>
<text x="1048.5" y="805.3" class="lg"><tspan class="dl">&#948;</tspan><tspan> 40; <tspan class="one">1</tspan>0%</tspan><tspan class="sb" dy="14.5">w</tspan><tspan dy="-14.5" dx="2"> squalane</tspan></text>
<path d="M951.4,851.6H1041.8" stroke="#7E2F8E" stroke-width="5.6"/>
<text x="1048.5" y="857.6" class="lg"><tspan class="dl">&#948;</tspan><tspan> 40; <tspan class="one">1</tspan>5%</tspan><tspan class="sb" dy="14.5">w</tspan><tspan dy="-14.5" dx="2"> squalane</tspan></text>
<path d="M951.4,903.5H1041.8" stroke="#77AC30" stroke-width="5.6"/>
<text x="1048.5" y="909.5" class="lg"><tspan class="dl">&#948;</tspan><tspan> 40; 20%</tspan><tspan class="sb" dy="14.5">w</tspan><tspan dy="-14.5" dx="2"> squalane</tspan></text>
<path d="M951.4,955.5H1041.8" stroke="#4DBEEE" stroke-width="5.6"/>
<text x="1048.5" y="961.5" class="lg"><tspan class="dl">&#948;</tspan><tspan> 40; 25%</tspan><tspan class="sb" dy="14.5">w</tspan><tspan dy="-14.5" dx="2"> squalane</tspan></text>
<path d="M951.4,1007.1H1041.8" stroke="#A2142F" stroke-width="5.6"/>
<text x="1048.5" y="1013.1" class="lg"><tspan class="dl">&#948;</tspan><tspan> 40; 35%</tspan><tspan class="sb" dy="14.5">w</tspan><tspan dy="-14.5" dx="2"> squalane</tspan></text>
<path d="M951.4,1059H1041.8" stroke="#0072BD" stroke-width="5.6"/>
<text x="1048.5" y="1065" class="lg"><tspan class="dl">&#948;</tspan><tspan> 40; 0%</tspan><tspan class="sb" dy="14.5">w</tspan><tspan dy="-14.5" dx="2"> squalane</tspan></text>
<path d="M481.5,1197V862.6" stroke="#000" stroke-width="4.2"/>
<path d="M481.5,846.6L473,864.6L490,864.6Z" fill="#000"/>
<text x="403" y="791" class="an" font-size="26.5" textLength="342" lengthAdjust="spacingAndGlyphs">increasing amount of Squalane</text>
<path d="M322.5,666.8V717.2" stroke="#000" stroke-width="4.2"/>
<path d="M322.5,732.2L314.5,715.2L330.5,715.2Z" fill="#000"/>
<path d="M359,647.1V697.6" stroke="#000" stroke-width="4.2"/>
<path d="M359,712.6L351,695.6L367,695.6Z" fill="#000"/>
<path d="M382.5,653.7V704.1" stroke="#000" stroke-width="4.2"/>
<path d="M382.5,719.1L374.5,702.1L390.5,702.1Z" fill="#000"/>
<path d="M224.2,685.7L228.2,683.7L234.7,699.2L243.2,669H262.2" stroke="#111" stroke-width="2" fill="none" stroke-linejoin="miter"/>
<text x="243.2" y="696.7" class="mt">3</text>
<circle cx="274.2" cy="688.7" r="2" fill="#111"/>
<text x="286.2" y="696.7" class="mt">q</text>
<text x="304.5" y="703.7" class="mt" style="font-size:21px">0</text>
<path d="M263.9,618.5L267.9,616.5L274.4,632L282.9,601.8H301.9" stroke="#111" stroke-width="2" fill="none" stroke-linejoin="miter"/>
<text x="282.9" y="629.5" class="mt">8</text>
<circle cx="313.9" cy="621.5" r="2" fill="#111"/>
<text x="325.9" y="629.5" class="mt">q</text>
<text x="344.2" y="636.5" class="mt" style="font-size:21px">0</text>
<path d="M372.8,640.9L376.8,638.9L383.3,654.4L391.8,624.2H427.8" stroke="#111" stroke-width="2" fill="none" stroke-linejoin="miter"/>
<text x="391.8" y="651.9" class="mt">11</text>
<circle cx="439.8" cy="643.9" r="2" fill="#111"/>
<text x="451.8" y="651.9" class="mt">q</text>
<text x="470.1" y="658.9" class="mt" style="font-size:21px">0</text>
<text transform="translate(180.8,0) rotate(-90)" x="-1011.5 -993.1 -968.1 -924.2 -899.2 -885.1 -857.9" y="0" class="yl">(q)a.u.</text>
<path d="M143.8,926.9L192.6,945.7" stroke="#222" stroke-width="2.5"/>
<path d="M147.4,1015.6H149.7V1018.5Q149.9,1020.8 152.2,1020.8H175.1Q177.4,1020.8 177.6,1018.5V1015.6H179.9V1030.9H177.6V1027.9Q177.4,1025.6 175.1,1025.6H152.2Q149.9,1025.6 149.7,1027.9V1030.9H147.4Z" fill="#222"/>
<text x="736.1" y="1308.8" class="xl">q</text>
<path d="M766.2,1321.4L785.5,1270.2" stroke="#222" stroke-width="2.6"/>
<text x="789.5" y="1308.8" class="xl" textLength="70.4" lengthAdjust="spacingAndGlyphs">nm</text>
<path d="M864.4,1280.2h21" stroke="#222" stroke-width="2.2"/>
<text x="890.1" y="1290.3" class="xs">1</text>
<text x="35" y="993.3" class="pl">b)</text>
<path d="M287.9,1832.5h5.5M1324.9,1832.5h-5.5M287.9,1820.4h5.5M1324.9,1820.4h-5.5M287.9,1809.7h5.5M1324.9,1809.7h-5.5M287.9,1800.2h10.5M1324.9,1800.2h-10.5M287.9,1737.4h5.5M1324.9,1737.4h-5.5M287.9,1700.7h5.5M1324.9,1700.7h-5.5M287.9,1674.6h5.5M1324.9,1674.6h-5.5M287.9,1654.4h5.5M1324.9,1654.4h-5.5M287.9,1637.9h5.5M1324.9,1637.9h-5.5M287.9,1623.9h5.5M1324.9,1623.9h-5.5M287.9,1611.8h5.5M1324.9,1611.8h-5.5M287.9,1601.1h5.5M1324.9,1601.1h-5.5M287.9,1591.6h10.5M1324.9,1591.6h-10.5M287.9,1528.8h5.5M1324.9,1528.8h-5.5M287.9,1492.1h5.5M1324.9,1492.1h-5.5M287.9,1466h5.5M1324.9,1466h-5.5M287.9,1445.8h5.5M1324.9,1445.8h-5.5M287.9,1429.3h5.5M1324.9,1429.3h-5.5M287.9,1415.3h5.5M1324.9,1415.3h-5.5M287.9,1403.2h5.5M1324.9,1403.2h-5.5M287.9,1392.5h5.5M1324.9,1392.5h-5.5M287.9,1383h10.5M1324.9,1383h-10.5M365.2,1843.6v-10.5M365.2,1352.4v10.5M557.1,1843.6v-10.5M557.1,1352.4v10.5M749,1843.6v-10.5M749,1352.4v10.5M941,1843.6v-10.5M941,1352.4v10.5M1132.9,1843.6v-10.5M1132.9,1352.4v10.5M1324.9,1843.6v-10.5M1324.9,1352.4v10.5" stroke="#5e5e5e" stroke-width="2.3" fill="none"/>
<rect x="287.9" y="1352.4" width="1037" height="491.2" fill="none" stroke="#666" stroke-width="2.3"/>
<text x="365.2" y="1894.2" text-anchor="middle" class="tk">0.5</text>
<text x="557.1" y="1894.2" text-anchor="middle" class="tk"><tspan class="one">1</tspan></text>
<text x="749" y="1894.2" text-anchor="middle" class="tk"><tspan class="one">1</tspan>.5</text>
<text x="941" y="1894.2" text-anchor="middle" class="tk">2</text>
<text x="1132.9" y="1894.2" text-anchor="middle" class="tk">2.5</text>
<text x="1324.9" y="1894.2" text-anchor="middle" class="tk">3</text>
<text x="274.4" y="1402.5" text-anchor="end" class="tk"><tspan class="one">1</tspan>0<tspan class="ex" dy="-17.5">-2</tspan></text>
<text x="274.4" y="1611.1" text-anchor="end" class="tk"><tspan class="one">1</tspan>0<tspan class="ex" dy="-17.5">-3</tspan></text>
<text x="274.4" y="1819.7" text-anchor="end" class="tk"><tspan class="one">1</tspan>0<tspan class="ex" dy="-17.5">-4</tspan></text>
<g clip-path="url(#cc)">
<path d="M287.5,1706.8 292,1706.2 296.5,1707.1 301,1704.2 305.5,1710.5 310,1714.1 314.5,1709.2 319,1711.7 323.5,1712.3 328,1710.7 332.5,1712.1 337,1712.5 341.5,1712.6 346,1709.2 350.5,1712.2 355,1710.6 359.5,1711.9 364,1709.6 368.5,1708.1 373,1711 377.5,1708.7 382,1708.2 386.5,1709.6 391,1707.4 395.5,1705.5 400,1706.6 404.5,1703.1 409,1700.5 413.5,1702.9 418,1696.4 422.5,1695.3 427,1693.8 431.5,1695.9 436,1689.1 440.5,1690.7 445,1685.5 449.5,1687.2 454,1686.3 458.5,1683.8 463,1685.8 467.5,1683.3 472,1681 476.5,1679.9 481,1680.8 485.5,1678.2 490,1676.6 494.5,1676.2 499,1672.4 503.5,1672.4 508,1666.4 512.5,1667 517,1664.2 521.5,1659.6 526,1659 530.5,1653.7 535,1657.8 539.5,1650.8 544,1651.1 548.5,1642.5 553,1643.5 557.5,1638.2 562,1637.1 566.5,1629.5 571,1629.3 575.5,1618.7 580,1618.9 584.5,1611.1 589,1604.8 593.5,1598.1 598,1589 602.5,1587 607,1582.5 611.5,1578.6 615.9,1570.3 620.3,1571.7 624.7,1576 629.1,1581 633.4,1605.8 637.8,1629.2 642.1,1654.6 646.4,1676.6 650.6,1687.2 654.9,1707.5 659.1,1716 663.3,1723.3 667.5,1726.9 671.7,1733.3 675.8,1733.5 679.9,1741.8 684,1743.8 688.1,1740.6 692.2,1748.7 696.2,1749 700.2,1749.4 704.2,1758.8 708.2,1754.9 712.2,1760.7 716.1,1764 720,1765.4 723.9,1762.7 727.8,1764.1 731.7,1768.4 735.5,1764.3 739.3,1771.3 743.1,1769.5 746.9,1772.6 750.7,1769.1 754.4,1773.8 758.2,1773.7 761.9,1774.6 765.6,1778.5 769.2,1771.1 772.9,1777.1 776.5,1778 780.1,1774.1 783.7,1775 787.3,1771.7 790.9,1775.2 794.4,1775.3 798,1775.1 801.5,1775.2 805,1773.5 808.5,1776.9 812,1777 815.5,1774.7 819,1776.6 822.5,1772.3 826,1776.1 829.5,1776.6 833,1785.1 836.5,1772.3 840,1776 843.5,1773.2 847,1774.9 850.5,1779.2 854,1781.4 857.5,1774.4 861,1776.4 864.5,1776.4 868,1777 871.5,1775 875,1774.7 878.5,1780.1 882,1777.2 885.5,1776.4 889,1773 892.5,1773.7 896,1766.4 899.5,1775.3 903,1773.6 906.5,1773.7 910,1768.7 913.5,1775.7 917,1762.4 920.5,1772.9 924,1766 927.5,1767.7 931,1769 934.5,1770.2 938,1769.1 941.5,1772.8 945,1769.4 948.5,1770.1 952,1775.8 955.5,1772 959,1779.8 962.5,1776.3 966,1771.3 969.5,1774.1 973,1783.9 976.5,1782.7 980,1776.9 983.5,1777.2 987,1784.4 990.5,1781 994,1784.3 997.5,1784.7 1001,1777.2 1004.5,1785 1008,1778 1011.5,1785.6 1015,1785.1 1018.5,1784.4 1022,1780 1025.5,1788.6 1029,1781.5 1032.5,1782.7 1036,1778.3 1039.5,1777.1 1043,1786.9 1046.5,1777.2 1050,1767 1053.5,1786.2 1057,1767.8 1060.5,1778.6 1064,1781.1 1067.5,1776.5 1071,1783.8 1074.5,1780.2 1078,1795.1 1081.5,1788.7 1085,1797.9 1088.5,1803.4 1092,1802.7 1095.5,1809.5 1099,1814.2 1102.5,1818.6 1106,1813.6 1109.5,1818.6 1113,1825.6 1116.5,1811.9 1120,1821.8 1123.5,1824 1127,1827.4 1130.5,1825.2 1134,1820.3 1137.5,1835.8 1141,1815.1 1144.5,1832.5 1148,1822.8 1151.5,1824.5 1155,1828.9 1158.5,1828.7 1162,1834.7 1165.5,1824.7 1169,1823.3 1172.5,1831 1176,1824.5 1179.5,1828.1 1183,1826.4 1186.5,1827.8 1190,1823.6 1193.5,1831.4 1197,1818.1 1200.5,1833.7 1204,1832 1207.5,1821.3 1211,1823 1214.5,1838.2 1218,1832.5 1221.5,1829.6 1225,1826.4 1228.5,1831.1 1232,1832.1 1235.5,1825.5 1239,1833 1242.5,1832.2 1246,1821.3 1249.5,1837.9 1253,1837.4 1256.5,1829.8 1260,1831.8 1263.5,1829.6 1267,1828.1 1270.5,1832.8 1274,1835.8 1277.5,1835.9 1281,1832.1 1284.5,1834.8 1288,1829.3 1291.5,1830.3 1295,1834.4 1298.5,1840.2 1302,1826.5 1305.5,1835.6 1309,1826.4 1312.5,1830 1316,1839.6 1319.5,1829.2 1323,1836.8 1324.8,1828.3" fill="none" stroke="#0072BD" stroke-width="5.7" stroke-linejoin="round" stroke-linecap="round"/>
<path d="M287.5,1650.4 292.5,1651.4 297.5,1651.4 302.5,1648.6 307.5,1648.9 312.5,1649.8 317.5,1647.2 322.5,1645.3 327.5,1645.4 332.5,1641.3 337.5,1642 342.5,1638.9 347.5,1634 352.5,1633 357.5,1631.7 362.5,1628.3 367.5,1627.3 372.5,1622.8 377.5,1620.3 382.5,1620 387.5,1613.7 392.5,1613.5 397.5,1609.7 402.5,1609.3 407.5,1607.6 412.5,1604.4 417.5,1604.9 422.5,1601.3 427.5,1600.1 432.5,1597.1 437.5,1596.7 442.5,1590.5 447.5,1587.5 452.5,1587.1 457.5,1581.4 462.5,1581.2 467.5,1576.8 472.5,1572.5 477.5,1568.7 482.5,1562.6 487.5,1555.2 492.5,1546.8 497.5,1536 502.5,1523.3 507.5,1513.1 512.5,1502.4 517.5,1493.3 522.5,1480.8 527.5,1467.1 532.5,1457.4 537.5,1441.6 542.5,1424 547.5,1404.1 552.5,1386.1 557.5,1373.8 562.5,1381 567.5,1401 572.5,1431.3 577.5,1472.3 582.5,1509.9 587.5,1546.3 592.5,1578 597.5,1608 602.5,1639.1 607.5,1658.4 612.4,1664.1 617.3,1670.7 622.2,1672.8 627,1675.2 631.8,1680.2 636.6,1683.9 641.3,1684.4 646,1689.9 650.7,1686.9 655.3,1695.9 659.9,1695.4 664.4,1697.9 668.9,1701.1 673.4,1700.8 677.9,1706.5 682.3,1708 686.7,1710.8 691,1709.2 695.3,1711.7 699.6,1713.6 703.9,1716.3 708.1,1715.7 712.3,1716.2 716.4,1719.3 720.6,1719.2 724.7,1722 728.7,1720.5 732.8,1723.5 736.8,1724.2 740.7,1723.5 744.7,1727.1 748.6,1725.6 752.5,1725.3 756.3,1725.2 760.2,1722.7 764,1724.1 767.7,1725.2 771.5,1724.7 775.2,1726 778.9,1726 782.5,1727.2 786.2,1722.7 789.8,1723.5 793.4,1722 796.9,1718.6 800.4,1721.9 803.9,1718.7 807.4,1720.3 810.9,1711.7 814.4,1711.5 817.9,1706.7 821.4,1701.5 824.9,1701.8 828.4,1694.7 831.9,1692.6 835.4,1689.8 838.9,1695.1 842.4,1688.4 845.9,1694.3 849.4,1697.3 852.9,1700.2 856.4,1713.3 859.9,1721.3 863.4,1726.4 866.9,1730 870.4,1736.3 873.9,1734.6 877.4,1739.8 880.9,1736.9 884.4,1743.6 887.9,1737.8 891.4,1741.3 894.9,1741.7 898.4,1739.1 901.9,1745.3 905.4,1746.5 908.9,1741.1 912.4,1748.4 915.9,1747.8 919.4,1749.8 922.9,1746.6 926.4,1749.8 929.9,1754.3 933.4,1752.1 936.9,1751.4 940.4,1754.4 943.9,1753.9 947.4,1757.7 950.9,1757.6 954.4,1756.3 957.9,1763 961.4,1757.6 964.9,1756 968.4,1762.3 971.9,1756.9 975.4,1760.2 978.9,1758.3 982.4,1753.9 985.9,1759.7 989.4,1755.1 992.9,1758.3 996.4,1761.1 999.9,1755.9 1003.4,1758 1006.9,1758.7 1010.4,1759.3 1013.9,1761.1 1017.4,1761.4 1020.9,1761.1 1024.4,1762.7 1027.9,1760.6 1031.4,1765.1 1034.9,1759.9 1038.4,1769 1041.9,1761.1 1045.4,1761 1048.9,1762.9 1052.4,1766.9 1055.9,1763.5 1059.4,1766.6 1062.9,1764.7 1066.4,1763.5 1069.9,1762.1 1073.4,1761.2 1076.9,1764.1 1080.4,1765.1 1083.9,1761.5 1087.4,1758.7 1090.9,1763.6 1094.4,1761.8 1097.9,1758.2 1101.4,1762 1104.9,1760 1108.4,1757 1111.9,1761.8 1115.4,1759.9 1118.9,1760.5 1122.4,1759.4 1125.9,1753.5 1129.4,1757.6 1132.9,1760 1136.4,1757.5 1139.9,1756.9 1143.4,1763.7 1146.9,1750.3 1150.4,1755 1153.9,1752.5 1157.4,1750.9 1160.9,1748 1164.4,1750.9 1167.9,1745 1171.4,1747.4 1174.9,1745.2 1178.4,1746 1181.9,1749.7 1185.4,1736.5 1188.9,1748 1192.4,1739.5 1195.9,1746.6 1199.4,1750.4 1202.9,1747.8 1206.4,1749.7 1209.9,1756.3 1213.4,1762.9 1216.9,1760.2 1220.4,1766.2 1223.9,1766.8 1227.4,1767.6 1230.9,1775 1234.4,1768.6 1237.9,1765.7 1241.4,1775.7 1244.9,1771.9 1248.4,1777.7 1251.9,1773.3 1255.4,1780 1258.9,1779.9 1262.4,1780.4 1265.9,1777.1 1269.4,1782.4 1272.9,1781.4 1276.4,1782.3 1279.9,1789.3 1283.4,1783.9 1286.9,1783 1290.4,1791.3 1293.9,1791.9 1297.4,1788.4 1300.9,1784.8 1304.4,1791.4 1307.9,1794.7 1311.4,1788.3 1314.9,1794.2 1318.4,1793.9 1321.9,1790 1324.8,1794.6" fill="none" stroke="#D95319" stroke-width="5.7" stroke-linejoin="round" stroke-linecap="round"/>
<path d="M287.5,1623.8 292.5,1625.2 297.5,1621.3 302.5,1620.8 307.5,1617 312.5,1616.7 317.5,1615.7 322.5,1612 327.5,1608.6 332.5,1607.4 337.5,1605.7 342.5,1600.9 347.5,1600.5 352.5,1598.9 357.5,1595.1 362.5,1595 367.5,1590 372.5,1588.4 377.5,1585.2 382.5,1583.1 387.5,1579.5 392.5,1578.7 397.5,1571.5 402.5,1569.9 407.5,1568.6 412.5,1561.2 417.5,1557.9 422.5,1552.7 427.5,1548.2 432.5,1540.2 437.5,1537.4 442.5,1528.5 447.5,1522 452.5,1513 457.5,1506 462.5,1491.4 467.5,1487.6 472.5,1472.9 477.5,1465.9 482.5,1453.6 487.5,1441.2 492.5,1425.1 497.5,1407.3 502.5,1386 507.5,1370.7 512.5,1354.2 517.5,1355.7 522.5,1380.7 527.5,1417.9 532.5,1457.3 537.5,1495.8 542.5,1529.2 547.5,1564.2 552.5,1602.4 557.5,1621.2 562.5,1632.9 567.5,1643.7 572.5,1651.3 577.5,1660.3 582.5,1665.1 587.5,1670.5 592.5,1674.2 597.5,1678.8 602.5,1679.6 607.5,1686.3 612.4,1690.1 617.3,1693.7 622.2,1698.9 627,1701.2 631.8,1705.6 636.6,1708.2 641.3,1711.6 646,1709.2 650.7,1713.9 655.3,1713.6 659.9,1716.2 664.4,1716.3 668.9,1718.3 673.4,1718.3 677.9,1717.9 682.3,1718.7 686.7,1721 691,1719.6 695.3,1722.6 699.6,1718.6 703.9,1725.8 708.1,1721 712.3,1722.7 716.4,1724.8 720.6,1722.8 724.7,1726.1 728.7,1723.7 732.8,1727 736.8,1724.1 740.7,1725.7 744.7,1725.7 748.6,1725.4 752.5,1728.5 756.3,1726.3 760.2,1728.3 764,1725.9 767.7,1730.7 771.5,1730.7 775.2,1727.9 778.9,1730.8 782.5,1726.9 786.2,1732.4 789.8,1730.3 793.4,1734.9 796.9,1733.4 800.4,1734.6 803.9,1735.2 807.4,1740.3 810.9,1738.3 814.4,1742.2 817.9,1740.6 821.4,1736.5 824.9,1735.2 828.4,1732.4 831.9,1732.6 835.4,1732.7 838.9,1726.4 842.4,1731.4 845.9,1728.4 849.4,1729.2 852.9,1731.6 856.4,1727.4 859.9,1733.6 863.4,1733 866.9,1734.2 870.4,1737 873.9,1738.6 877.4,1738.2 880.9,1743 884.4,1740.5 887.9,1744.1 891.4,1740.7 894.9,1746.7 898.4,1749.1 901.9,1746.1 905.4,1751.8 908.9,1749.9 912.4,1754.5 915.9,1754 919.4,1751.9 922.9,1751.2 926.4,1751.9 929.9,1753 933.4,1755.3 936.9,1756.4 940.4,1747.8 943.9,1752.7 947.4,1756.9 950.9,1749.3 954.4,1751.2 957.9,1757.2 961.4,1747.3 964.9,1748.7 968.4,1746.7 971.9,1747.8 975.4,1741.9 978.9,1749.2 982.4,1744.4 985.9,1742.4 989.4,1741.6 992.9,1743.2 996.4,1744 999.9,1745.8 1003.4,1741.3 1006.9,1741.4 1010.4,1739.6 1013.9,1743 1017.4,1737.9 1020.9,1740.9 1024.4,1741.5 1027.9,1738.9 1031.4,1736.5 1034.9,1735.9 1038.4,1741.1 1041.9,1737.3 1045.4,1739.1 1048.9,1735.7 1052.4,1735.2 1055.9,1737.6 1059.4,1733 1062.9,1722.8 1066.4,1724.9 1069.9,1723.7 1073.4,1716.7 1076.9,1714.7 1080.4,1717.1 1083.9,1718.5 1087.4,1712.4 1090.9,1726 1094.4,1731.9 1097.9,1740.2 1101.4,1741.6 1104.9,1750.6 1108.4,1749.7 1111.9,1756.9 1115.4,1752 1118.9,1753.4 1122.4,1754.4 1125.9,1759 1129.4,1757.5 1132.9,1760.9 1136.4,1763.3 1139.9,1762.9 1143.4,1763.8 1146.9,1767.4 1150.4,1764.2 1153.9,1771.6 1157.4,1763.1 1160.9,1765.9 1164.4,1764.6 1167.9,1767 1171.4,1772.2 1174.9,1769 1178.4,1768.9 1181.9,1769.3 1185.4,1767.7 1188.9,1770.8 1192.4,1771 1195.9,1766.6 1199.4,1778 1202.9,1770 1206.4,1778.6 1209.9,1775.4 1213.4,1777.8 1216.9,1776.3 1220.4,1784.1 1223.9,1779.7 1227.4,1782 1230.9,1781.3 1234.4,1783.8 1237.9,1786.9 1241.4,1787.4 1244.9,1787.8 1248.4,1785.1 1251.9,1788 1255.4,1789.1 1258.9,1788 1262.4,1788.4 1265.9,1791.8 1269.4,1792.1 1272.9,1793 1276.4,1792.9 1279.9,1793.7 1283.4,1798.6 1286.9,1797.9 1290.4,1795.8 1293.9,1802.3 1297.4,1799.2 1300.9,1797.6 1304.4,1795.9 1307.9,1797.5 1311.4,1801 1314.9,1796.2 1318.4,1797.6 1321.9,1794.6 1324.8,1799.7" fill="none" stroke="#EDB120" stroke-width="5.7" stroke-linejoin="round" stroke-linecap="round"/>
<path d="M287.5,1553.1 292.5,1550.2 297.5,1545.9 302.5,1546 307.5,1544 312.5,1546.1 317.5,1542.8 322.5,1539.6 327.5,1538.2 332.5,1535.3 337.5,1534 342.5,1529.9 347.5,1529.8 352.5,1525 357.5,1524.7 362.5,1522 367.5,1517.7 372.5,1516 377.5,1510 382.5,1507.5 387.5,1505.2 392.5,1500.7 397.5,1496.5 402.5,1494.6 407.5,1491.6 412.5,1484.1 417.5,1480.4 422.5,1473.7 427.5,1468.6 432.5,1462.7 437.5,1457.1 442.5,1450.9 447.5,1444.7 452.5,1436.9 457.5,1429 462.5,1420.2 467.5,1409.8 472.5,1405.5 477.5,1395.3 482.5,1386.4 487.5,1375.8 492.5,1396.4 497.5,1425.5 502.5,1461.3 507.5,1492.5 512.5,1527.8 517.5,1567.2 522.5,1602.3 527.5,1617.4 532.5,1629.9 537.5,1641.2 542.5,1648.2 547.5,1654.9 552.5,1659.1 557.5,1664.2 562.5,1668 567.5,1669.7 572.5,1673.3 577.5,1675.8 582.5,1681.4 587.5,1681.6 592.5,1685.8 597.5,1687.4 602.5,1690.8 607.5,1690.4 612.4,1695.7 617.3,1695.8 622.2,1699.9 627,1698.3 631.8,1700.2 636.6,1702.6 641.3,1704.2 646,1707.4 650.7,1706.4 655.3,1711.1 659.9,1707.6 664.4,1710.9 668.9,1711.1 673.4,1711.7 677.9,1715 682.3,1713.1 686.7,1717.1 691,1715.3 695.3,1714.9 699.6,1718.7 703.9,1720 708.1,1721.9 712.3,1719.3 716.4,1720.9 720.6,1717.3 724.7,1723.4 728.7,1717.2 732.8,1723.2 736.8,1720.9 740.7,1721.5 744.7,1721.7 748.6,1721.9 752.5,1719.9 756.3,1717.8 760.2,1723.1 764,1716.6 767.7,1719.8 771.5,1716.1 775.2,1717.9 778.9,1714.9 782.5,1714 786.2,1715 789.8,1707.7 793.4,1712.8 796.9,1710.6 800.4,1710 803.9,1706.8 807.4,1709 810.9,1717.2 814.4,1715.4 817.9,1722.5 821.4,1723.7 824.9,1726.7 828.4,1732.5 831.9,1732.7 835.4,1731 838.9,1733.2 842.4,1740.3 845.9,1739.8 849.4,1734.9 852.9,1740.3 856.4,1737.8 859.9,1739.8 863.4,1745.6 866.9,1737.7 870.4,1739.7 873.9,1740.1 877.4,1737.7 880.9,1741.9 884.4,1742.8 887.9,1740.6 891.4,1737.6 894.9,1738.8 898.4,1741.6 901.9,1738.3 905.4,1738.1 908.9,1736.4 912.4,1739.2 915.9,1735.5 919.4,1735.5 922.9,1735.2 926.4,1735.2 929.9,1731.5 933.4,1732.4 936.9,1729 940.4,1735.6 943.9,1734.9 947.4,1731.2 950.9,1730 954.4,1729 957.9,1731.7 961.4,1730.5 964.9,1734.2 968.4,1730.7 971.9,1732.1 975.4,1729.5 978.9,1728.5 982.4,1735.5 985.9,1724.9 989.4,1727.7 992.9,1727.4 996.4,1725.9 999.9,1727.4 1003.4,1724.2 1006.9,1722.7 1010.4,1726.1 1013.9,1729.3 1017.4,1724.4 1020.9,1727.7 1024.4,1731.2 1027.9,1731.7 1031.4,1747.2 1034.9,1745.3 1038.4,1746.7 1041.9,1755.7 1045.4,1752.3 1048.9,1764 1052.4,1761.6 1055.9,1762.9 1059.4,1760.2 1062.9,1765.4 1066.4,1758.6 1069.9,1766 1073.4,1759.6 1076.9,1758.7 1080.4,1764 1083.9,1767.8 1087.4,1757.4 1090.9,1763.9 1094.4,1767 1097.9,1762.6 1101.4,1766.3 1104.9,1765.3 1108.4,1769.7 1111.9,1766 1115.4,1771 1118.9,1762.8 1122.4,1774.2 1125.9,1769.1 1129.4,1770 1132.9,1770.8 1136.4,1768.3 1139.9,1768.8 1143.4,1776 1146.9,1768.3 1150.4,1768.8 1153.9,1774.3 1157.4,1771.9 1160.9,1774.5 1164.4,1772.9 1167.9,1772.3 1171.4,1772.1 1174.9,1772.8 1178.4,1777.1 1181.9,1774.6 1185.4,1775.6 1188.9,1772.7 1192.4,1771.4 1195.9,1780.5 1199.4,1772.4 1202.9,1772.7 1206.4,1781.2 1209.9,1775.2 1213.4,1777.4 1216.9,1777.8 1220.4,1779.4 1223.9,1775.5 1227.4,1779.7 1230.9,1780.1 1234.4,1782.9 1237.9,1776.4 1241.4,1780.2 1244.9,1783.3 1248.4,1780.7 1251.9,1781.3 1255.4,1780.1 1258.9,1785.9 1262.4,1781.2 1265.9,1783.2 1269.4,1783.3 1272.9,1783.5 1276.4,1785.4 1279.9,1782 1283.4,1779.1 1286.9,1786.6 1290.4,1784.8 1293.9,1785.4 1297.4,1785 1300.9,1783.3 1304.4,1788.2 1307.9,1786.2 1311.4,1780.4 1314.9,1787.1 1318.4,1784.2 1321.9,1787.4 1324.8,1784.4" fill="none" stroke="#7E2F8E" stroke-width="5.7" stroke-linejoin="round" stroke-linecap="round"/>
<path d="M287.5,1580.3 292.5,1578.6 297.5,1578.1 302.5,1575.8 307.5,1573.8 312.5,1575.6 317.5,1571 322.5,1570.9 327.5,1568.9 332.5,1566.1 337.5,1565.2 342.5,1561.7 347.5,1562.8 352.5,1556.9 357.5,1557.1 362.5,1553.3 367.5,1551.6 372.5,1547.4 377.5,1542.2 382.5,1539.6 387.5,1533.6 392.5,1529.2 397.5,1521.1 402.5,1514.7 407.5,1513 412.5,1503.7 417.5,1500.8 422.5,1496.3 427.5,1485.8 432.5,1482.5 437.5,1475.2 442.5,1467.7 447.5,1460.2 452.5,1448.1 457.5,1439.1 462.5,1424.5 467.5,1413.8 472.5,1398.9 477.5,1384.7 482.5,1370.9 487.5,1357.3 492.5,1360.1 497.5,1376.7 502.5,1407.6 507.5,1445.3 512.5,1479.4 517.5,1520.1 522.5,1573.9 527.5,1600.9 532.5,1611.3 537.5,1625 542.5,1634 547.5,1642.5 552.5,1649.5 557.5,1653.4 562.5,1658.5 567.5,1659.4 572.5,1665.8 577.5,1666.8 582.5,1670.1 587.5,1671.8 592.5,1677.3 597.5,1679.1 602.5,1680.4 607.5,1683.7 612.4,1685.8 617.3,1686.9 622.2,1688.6 627,1691.8 631.8,1694.6 636.6,1695.6 641.3,1697.8 646,1702.5 650.7,1703.8 655.3,1706.3 659.9,1704.1 664.4,1709.6 668.9,1711 673.4,1710.7 677.9,1709.4 682.3,1709.4 686.7,1711.5 691,1713.6 695.3,1713.9 699.6,1715.3 703.9,1715 708.1,1715.5 712.3,1716.7 716.4,1716.6 720.6,1716.1 724.7,1714.9 728.7,1716.8 732.8,1714.9 736.8,1714.9 740.7,1713.3 744.7,1715.5 748.6,1713.5 752.5,1709.4 756.3,1715.8 760.2,1711.3 764,1711.9 767.7,1711.3 771.5,1710.6 775.2,1707 778.9,1711.6 782.5,1704.8 786.2,1705.9 789.8,1705.9 793.4,1699.9 796.9,1704.9 800.4,1697.3 803.9,1697.9 807.4,1702.1 810.9,1696.2 814.4,1704 817.9,1712.2 821.4,1713.9 824.9,1723.3 828.4,1729.2 831.9,1733.1 835.4,1735.1 838.9,1739.1 842.4,1735.7 845.9,1742.1 849.4,1734.2 852.9,1740.5 856.4,1741.3 859.9,1735.9 863.4,1740.7 866.9,1735.7 870.4,1737.3 873.9,1736.8 877.4,1739.5 880.9,1741.8 884.4,1737.4 887.9,1739.4 891.4,1743 894.9,1735.6 898.4,1737.4 901.9,1738.5 905.4,1738.9 908.9,1736 912.4,1737.1 915.9,1735.2 919.4,1735.8 922.9,1738.1 926.4,1732.5 929.9,1735.8 933.4,1733.8 936.9,1734.7 940.4,1731.9 943.9,1734.8 947.4,1732.7 950.9,1734.2 954.4,1730.1 957.9,1733.2 961.4,1731.5 964.9,1728.1 968.4,1727.7 971.9,1727.2 975.4,1728 978.9,1725.4 982.4,1726.3 985.9,1723 989.4,1720 992.9,1718.9 996.4,1721.8 999.9,1713.7 1003.4,1715.6 1006.9,1712.8 1010.4,1714.1 1013.9,1717.5 1017.4,1717.2 1020.9,1721.3 1024.4,1726.2 1027.9,1731.1 1031.4,1730 1034.9,1737.7 1038.4,1739.8 1041.9,1741.4 1045.4,1744.1 1048.9,1746.5 1052.4,1750 1055.9,1753.9 1059.4,1756.8 1062.9,1755.6 1066.4,1759.6 1069.9,1754.2 1073.4,1760.2 1076.9,1755.1 1080.4,1762.2 1083.9,1758.4 1087.4,1762.4 1090.9,1758.7 1094.4,1754.9 1097.9,1766.3 1101.4,1761.8 1104.9,1756.6 1108.4,1761.9 1111.9,1765.1 1115.4,1762.9 1118.9,1766.1 1122.4,1763.8 1125.9,1761.8 1129.4,1760.2 1132.9,1766 1136.4,1764.7 1139.9,1765.2 1143.4,1768.8 1146.9,1761.4 1150.4,1769.5 1153.9,1770 1157.4,1762.4 1160.9,1766.7 1164.4,1770.3 1167.9,1769.4 1171.4,1766 1174.9,1769.2 1178.4,1765.7 1181.9,1772.8 1185.4,1767.2 1188.9,1770.9 1192.4,1769.6 1195.9,1773 1199.4,1768.7 1202.9,1769.9 1206.4,1772.9 1209.9,1774.6 1213.4,1770.4 1216.9,1777.2 1220.4,1772.1 1223.9,1771.8 1227.4,1774 1230.9,1775.3 1234.4,1776.6 1237.9,1778.1 1241.4,1774.9 1244.9,1776 1248.4,1776.4 1251.9,1777.8 1255.4,1771.9 1258.9,1781 1262.4,1775.8 1265.9,1780.4 1269.4,1779.9 1272.9,1777.1 1276.4,1775.3 1279.9,1778.8 1283.4,1777.7 1286.9,1784.5 1290.4,1778.4 1293.9,1776.2 1297.4,1782.1 1300.9,1778.2 1304.4,1784.1 1307.9,1784.9 1311.4,1787.1 1314.9,1779.6 1318.4,1780 1321.9,1781.5 1324.8,1781.8" fill="none" stroke="#77AC30" stroke-width="5.7" stroke-linejoin="round" stroke-linecap="round"/>
<path d="M287.5,1575.6 292.5,1573 297.5,1569.8 302.5,1569.9 307.5,1566.7 312.5,1565 317.5,1562.4 322.5,1561.2 327.5,1560.1 332.5,1556.4 337.5,1556.8 342.5,1556.3 347.5,1551.9 352.5,1551.3 357.5,1550.5 362.5,1547 367.5,1544.9 372.5,1543.9 377.5,1537.2 382.5,1536.8 387.5,1532.4 392.5,1527.9 397.5,1525.3 402.5,1521.6 407.5,1515.3 412.5,1512.9 417.5,1507 422.5,1503.2 427.5,1496.4 432.5,1491 437.5,1485.4 442.5,1478.9 447.5,1472.5 452.5,1465.8 457.5,1456.5 462.5,1448.3 467.5,1441.4 472.5,1433.6 477.5,1424.1 482.5,1415.1 487.5,1411 492.5,1398.5 497.5,1392.5 502.5,1398.4 507.5,1413 512.5,1445 517.5,1472.4 522.5,1506.7 527.5,1568.5 532.5,1589.2 537.5,1606 542.5,1635.1 547.5,1652.9 552.5,1656.9 557.5,1669.2 562.5,1672.7 567.5,1679.3 572.5,1683.7 577.5,1684.1 582.5,1690.3 587.5,1692.7 592.5,1695.5 597.5,1699.4 602.5,1698.6 607.5,1703.2 612.4,1705.5 617.3,1708 622.2,1708.9 627,1711.4 631.8,1713.3 636.6,1715.7 641.3,1717.3 646,1718 650.7,1720.8 655.3,1723.6 659.9,1720.3 664.4,1726.2 668.9,1725.8 673.4,1726 677.9,1727.3 682.3,1726.7 686.7,1728.9 691,1726.4 695.3,1730.3 699.6,1729 703.9,1731.1 708.1,1728 712.3,1728.9 716.4,1729.5 720.6,1728.9 724.7,1732.7 728.7,1729.6 732.8,1731.3 736.8,1731.9 740.7,1729.2 744.7,1731.3 748.6,1732.2 752.5,1732 756.3,1731 760.2,1733.5 764,1732.9 767.7,1734.8 771.5,1731.1 775.2,1737.4 778.9,1731.8 782.5,1734.1 786.2,1733.8 789.8,1733.8 793.4,1733.1 796.9,1734.5 800.4,1733.3 803.9,1736.2 807.4,1730.1 810.9,1732.9 814.4,1729.3 817.9,1732.6 821.4,1728.9 824.9,1733.7 828.4,1728.5 831.9,1733.8 835.4,1738.2 838.9,1744 842.4,1741.4 845.9,1752.2 849.4,1751.1 852.9,1753 856.4,1750.5 859.9,1752.9 863.4,1754 866.9,1755.1 870.4,1754.9 873.9,1750.6 877.4,1755.5 880.9,1755.1 884.4,1753.6 887.9,1756.9 891.4,1753.6 894.9,1752.3 898.4,1753.4 901.9,1755.2 905.4,1754.8 908.9,1751.4 912.4,1751 915.9,1754.6 919.4,1747.6 922.9,1752.3 926.4,1754 929.9,1748.2 933.4,1752.8 936.9,1751.5 940.4,1751.2 943.9,1747.6 947.4,1749.9 950.9,1747.5 954.4,1742.7 957.9,1749.3 961.4,1743 964.9,1743.4 968.4,1741 971.9,1742.6 975.4,1743.6 978.9,1744.6 982.4,1741.7 985.9,1738.9 989.4,1737.7 992.9,1742.6 996.4,1735 999.9,1735.1 1003.4,1740.9 1006.9,1732.3 1010.4,1737.2 1013.9,1732.7 1017.4,1735.2 1020.9,1735.5 1024.4,1730.7 1027.9,1734.9 1031.4,1735.7 1034.9,1737.3 1038.4,1733.2 1041.9,1737.5 1045.4,1734.6 1048.9,1738.7 1052.4,1747.8 1055.9,1749.8 1059.4,1754 1062.9,1755.3 1066.4,1762.1 1069.9,1763.4 1073.4,1762.9 1076.9,1767.2 1080.4,1765 1083.9,1767.6 1087.4,1769.2 1090.9,1769.8 1094.4,1770.6 1097.9,1769.8 1101.4,1766.1 1104.9,1776.7 1108.4,1766.6 1111.9,1773.8 1115.4,1774.3 1118.9,1772.4 1122.4,1776.5 1125.9,1778.6 1129.4,1778.3 1132.9,1772.4 1136.4,1780 1139.9,1777.1 1143.4,1772 1146.9,1779.9 1150.4,1778.7 1153.9,1775.7 1157.4,1779 1160.9,1778.2 1164.4,1778.6 1167.9,1776.6 1171.4,1776 1174.9,1782.4 1178.4,1779.8 1181.9,1782.6 1185.4,1786.2 1188.9,1779.8 1192.4,1786.7 1195.9,1781.2 1199.4,1785 1202.9,1781 1206.4,1788.4 1209.9,1784.8 1213.4,1781.6 1216.9,1786.5 1220.4,1785.4 1223.9,1785.5 1227.4,1788.7 1230.9,1784.9 1234.4,1789.3 1237.9,1788.7 1241.4,1790.5 1244.9,1785.2 1248.4,1789 1251.9,1791.3 1255.4,1785.9 1258.9,1792.2 1262.4,1789 1265.9,1790.4 1269.4,1790.9 1272.9,1790.2 1276.4,1795.4 1279.9,1792.7 1283.4,1797.6 1286.9,1790.1 1290.4,1799 1293.9,1792.9 1297.4,1798.9 1300.9,1798.1 1304.4,1792.1 1307.9,1797.8 1311.4,1790.5 1314.9,1792.7 1318.4,1794.4 1321.9,1789.6 1324.8,1794.6" fill="none" stroke="#4DBEEE" stroke-width="5.7" stroke-linejoin="round" stroke-linecap="round"/>
</g>
<path d="M728.3,1433.3L827.1,1374" stroke="#0C92FF" stroke-width="36.6" stroke-linecap="round"/>
<path d="M700.4,1479.4L769,1438.2" stroke="#0C92FF" stroke-width="36.6" stroke-linecap="round"/>
<path d="M691,1463.7L759.6,1422.5" stroke="#10202c" stroke-width="1.3"/>
<path d="M778,1433.3L882.1,1370.8" stroke="#0C92FF" stroke-width="36.6" stroke-linecap="round"/>
<path d="M768.6,1417.6L872.6,1355.1" stroke="#10202c" stroke-width="1.3"/>
<path d="M754,1477.4L852.6,1418.5" stroke="#0C92FF" stroke-width="36.6" stroke-linecap="round"/>
<path d="M744.6,1461.8L843.2,1402.9" stroke="#10202c" stroke-width="1.3"/>
<path d="M725,1524.6L793.5,1483.4" stroke="#0C92FF" stroke-width="36.6" stroke-linecap="round"/>
<path d="M715.6,1508.9L784.1,1467.7" stroke="#10202c" stroke-width="1.3"/>
<path d="M805.1,1477.4L908.6,1415.2" stroke="#0C92FF" stroke-width="36.6" stroke-linecap="round"/>
<path d="M795.7,1461.8L899.1,1399.5" stroke="#10202c" stroke-width="1.3"/>
<path d="M778,1525.5L882.1,1463.1" stroke="#0C92FF" stroke-width="36.6" stroke-linecap="round"/>
<path d="M768.6,1509.9L872.6,1447.4" stroke="#10202c" stroke-width="1.3"/>
<use href="#mic" x="710" y="1415" width="36.6" height="36.6"/>
<use href="#mic" x="682.1" y="1461.1" width="36.6" height="36.6"/>
<use href="#mic" x="759.7" y="1415" width="36.6" height="36.6"/>
<use href="#mic" x="735.7" y="1459.1" width="36.6" height="36.6"/>
<use href="#mic" x="706.7" y="1506.3" width="36.6" height="36.6"/>
<use href="#mic" x="786.8" y="1459.1" width="36.6" height="36.6"/>
<use href="#mic" x="759.7" y="1507.2" width="36.6" height="36.6"/>
<rect x="921.6" y="1355.3" width="398.1" height="320.7" fill="#fff" stroke="#5a5a5a" stroke-width="1.8"/>
<path d="M932.8,1384.8H1020.9" stroke="#0072BD" stroke-width="5.6"/>
<text x="1028.5" y="1390.8" class="lg"><tspan class="dl">&#948;</tspan><tspan> 60; 0%</tspan><tspan class="sb" dy="14.5">w</tspan><tspan dy="-14.5" dx="2"> squalane</tspan></text>
<path d="M932.8,1436.7H1020.9" stroke="#D95319" stroke-width="5.6"/>
<text x="1028.5" y="1442.7" class="lg"><tspan class="dl">&#948;</tspan><tspan> 60; 5%</tspan><tspan class="sb" dy="14.5">w</tspan><tspan dy="-14.5" dx="2"> squalane</tspan></text>
<path d="M932.8,1489.2H1020.9" stroke="#EDB120" stroke-width="5.6"/>
<text x="1028.5" y="1495.2" class="lg"><tspan class="dl">&#948;</tspan><tspan> 60; <tspan class="one">1</tspan>0%</tspan><tspan class="sb" dy="14.5">w</tspan><tspan dy="-14.5" dx="2"> squalane</tspan></text>
<path d="M932.8,1541.1H1020.9" stroke="#7E2F8E" stroke-width="5.6"/>
<text x="1028.5" y="1547.1" class="lg"><tspan class="dl">&#948;</tspan><tspan> 60; <tspan class="one">1</tspan>5%</tspan><tspan class="sb" dy="14.5">w</tspan><tspan dy="-14.5" dx="2"> squalane</tspan></text>
<path d="M932.8,1593.1H1020.9" stroke="#77AC30" stroke-width="5.6"/>
<text x="1028.5" y="1599.1" class="lg"><tspan class="dl">&#948;</tspan><tspan> 60; 20%</tspan><tspan class="sb" dy="14.5">w</tspan><tspan dy="-14.5" dx="2"> squalane</tspan></text>
<path d="M932.8,1645.5H1020.9" stroke="#4DBEEE" stroke-width="5.6"/>
<text x="1028.5" y="1651.5" class="lg"><tspan class="dl">&#948;</tspan><tspan> 60; 50%</tspan><tspan class="sb" dy="14.5">w</tspan><tspan dy="-14.5" dx="2"> squalane</tspan></text>
<path d="M681,1562L593.3,1395.7" stroke="#000" stroke-width="4"/>
<path d="M584,1378L601.8,1393.5L586.7,1401.4Z" fill="#000"/>
<text x="653" y="1594.6" class="an" font-size="25.5" textLength="236" lengthAdjust="spacingAndGlyphs">increasing amount of</text>
<text x="653" y="1627.7" class="an" font-size="25.5" textLength="100" lengthAdjust="spacingAndGlyphs">Squalane</text>
<text transform="translate(179.8,0) rotate(-90)" x="-1681.8 -1663.4 -1638.4 -1594.5 -1569.5 -1555.4 -1528.2" y="0" class="yl">(q)a.u.</text>
<path d="M142.8,1597.2L191.6,1616" stroke="#222" stroke-width="2.5"/>
<path d="M146.4,1687H148.7V1690Q148.9,1692.3 151.2,1692.3H174.1Q176.4,1692.3 176.6,1690V1687H178.9V1702.4H176.6V1699.4Q176.4,1697.1 174.1,1697.1H151.2Q148.9,1697.1 148.7,1699.4V1702.4H146.4Z" fill="#222"/>
<text x="726.5" y="1948.8" class="xl">q</text>
<path d="M755.2,1960.8L773.6,1912" stroke="#222" stroke-width="2.6"/>
<text x="777.4" y="1948.8" class="xl" textLength="67" lengthAdjust="spacingAndGlyphs">nm</text>
<path d="M848.8,1921.6h20" stroke="#222" stroke-width="2.2"/>
<text x="873.2" y="1931.2" class="xs">1</text>
<text x="34" y="1624.2" class="pl">c)</text>
<path d="M770 0L590 0L590 1100C520 1035 380 960 220 915L220 1085C420 1150 560 1260 640 1466L770 1466Z" transform="translate(581.57,558.20) scale(0.01831,-0.01831)" fill="rgb(38, 38, 38)" stroke="rgb(38, 38, 38)" stroke-width="28.4"/>
<path d="M770 0L590 0L590 1100C520 1035 380 960 220 915L220 1085C420 1150 560 1260 640 1466L770 1466Z" transform="translate(749.13,558.20) scale(0.01831,-0.01831)" fill="rgb(38, 38, 38)" stroke="rgb(38, 38, 38)" stroke-width="28.4"/>
<path d="M770 0L590 0L590 1100C520 1035 380 960 220 915L220 1085C420 1150 560 1260 640 1466L770 1466Z" transform="translate(206.09,64.40) scale(0.01831,-0.01831)" fill="rgb(38, 38, 38)" stroke="rgb(38, 38, 38)" stroke-width="28.4"/>
<path d="M770 0L590 0L590 1100C520 1035 380 960 220 915L220 1085C420 1150 560 1260 640 1466L770 1466Z" transform="translate(206.09,218.60) scale(0.01831,-0.01831)" fill="rgb(38, 38, 38)" stroke="rgb(38, 38, 38)" stroke-width="28.4"/>
<path d="M770 0L590 0L590 1100C520 1035 380 960 220 915L220 1085C420 1150 560 1260 640 1466L770 1466Z" transform="translate(206.09,372.90) scale(0.01831,-0.01831)" fill="rgb(38, 38, 38)" stroke="rgb(38, 38, 38)" stroke-width="28.4"/>
<path d="M770 0L590 0L590 1100C520 1035 380 960 220 915L220 1085C420 1150 560 1260 640 1466L770 1466Z" transform="translate(206.09,527.10) scale(0.01831,-0.01831)" fill="rgb(38, 38, 38)" stroke="rgb(38, 38, 38)" stroke-width="28.4"/>
<path d="M770 0L590 0L590 1100C520 1035 380 960 220 915L220 1085C420 1150 560 1260 640 1466L770 1466Z" transform="translate(1105.55,178.00) scale(0.01489,-0.01489)" fill="rgb(0, 0, 0)" stroke="rgb(0, 0, 0)" stroke-width="34.9"/>
<path d="M770 0L590 0L590 1100C520 1035 380 960 220 915L220 1085C420 1150 560 1260 640 1466L770 1466Z" transform="translate(1105.55,230.50) scale(0.01489,-0.01489)" fill="rgb(0, 0, 0)" stroke="rgb(0, 0, 0)" stroke-width="34.9"/>
<path d="M770 0L590 0L590 1100C520 1035 380 960 220 915L220 1085C420 1150 560 1260 640 1466L770 1466Z" transform="translate(427.17,1251.40) scale(0.01831,-0.01831)" fill="rgb(38, 38, 38)" stroke="rgb(38, 38, 38)" stroke-width="28.4"/>
<path d="M770 0L590 0L590 1100C520 1035 380 960 220 915L220 1085C420 1150 560 1260 640 1466L770 1466Z" transform="translate(205.99,814.80) scale(0.01831,-0.01831)" fill="rgb(38, 38, 38)" stroke="rgb(38, 38, 38)" stroke-width="28.4"/>
<path d="M770 0L590 0L590 1100C520 1035 380 960 220 915L220 1085C420 1150 560 1260 640 1466L770 1466Z" transform="translate(205.99,1051.00) scale(0.01831,-0.01831)" fill="rgb(38, 38, 38)" stroke="rgb(38, 38, 38)" stroke-width="28.4"/>
<path d="M770 0L590 0L590 1100C520 1035 380 960 220 915L220 1085C420 1150 560 1260 640 1466L770 1466Z" transform="translate(1122.05,805.30) scale(0.01489,-0.01489)" fill="rgb(0, 0, 0)" stroke="rgb(0, 0, 0)" stroke-width="34.9"/>
<path d="M770 0L590 0L590 1100C520 1035 380 960 220 915L220 1085C420 1150 560 1260 640 1466L770 1466Z" transform="translate(1122.05,857.60) scale(0.01489,-0.01489)" fill="rgb(0, 0, 0)" stroke="rgb(0, 0, 0)" stroke-width="34.9"/>
<path d="M770 0L590 0L590 1100C520 1035 380 960 220 915L220 1085C420 1150 560 1260 640 1466L770 1466Z" transform="translate(546.67,1894.20) scale(0.01831,-0.01831)" fill="rgb(38, 38, 38)" stroke="rgb(38, 38, 38)" stroke-width="28.4"/>
<path d="M770 0L590 0L590 1100C520 1035 380 960 220 915L220 1085C420 1150 560 1260 640 1466L770 1466Z" transform="translate(722.93,1894.20) scale(0.01831,-0.01831)" fill="rgb(38, 38, 38)" stroke="rgb(38, 38, 38)" stroke-width="28.4"/>
<path d="M770 0L590 0L590 1100C520 1035 380 960 220 915L220 1085C420 1150 560 1260 640 1466L770 1466Z" transform="translate(205.99,1402.50) scale(0.01831,-0.01831)" fill="rgb(38, 38, 38)" stroke="rgb(38, 38, 38)" stroke-width="28.4"/>
<path d="M770 0L590 0L590 1100C520 1035 380 960 220 915L220 1085C420 1150 560 1260 640 1466L770 1466Z" transform="translate(205.99,1611.10) scale(0.01831,-0.01831)" fill="rgb(38, 38, 38)" stroke="rgb(38, 38, 38)" stroke-width="28.4"/>
<path d="M770 0L590 0L590 1100C520 1035 380 960 220 915L220 1085C420 1150 560 1260 640 1466L770 1466Z" transform="translate(205.99,1819.70) scale(0.01831,-0.01831)" fill="rgb(38, 38, 38)" stroke="rgb(38, 38, 38)" stroke-width="28.4"/>
<path d="M770 0L590 0L590 1100C520 1035 380 960 220 915L220 1085C420 1150 560 1260 640 1466L770 1466Z" transform="translate(1102.05,1495.20) scale(0.01489,-0.01489)" fill="rgb(0, 0, 0)" stroke="rgb(0, 0, 0)" stroke-width="34.9"/>
<path d="M770 0L590 0L590 1100C520 1035 380 960 220 915L220 1085C420 1150 560 1260 640 1466L770 1466Z" transform="translate(1102.05,1547.10) scale(0.01489,-0.01489)" fill="rgb(0, 0, 0)" stroke="rgb(0, 0, 0)" stroke-width="34.9"/>
</g>
</svg></body></html>
